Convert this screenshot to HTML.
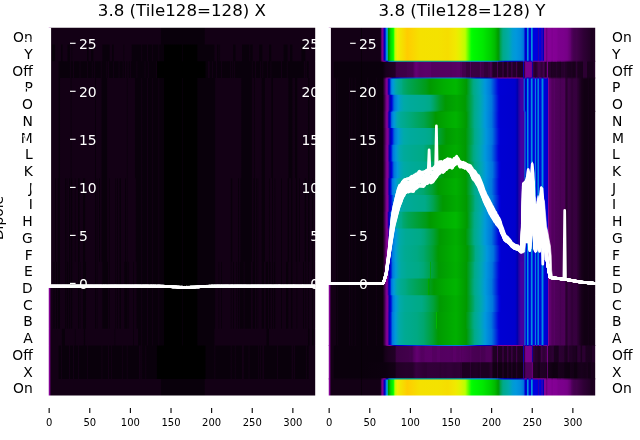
<!DOCTYPE html><html><head><meta charset="utf-8"><title>plot</title><style>html,body{margin:0;padding:0;background:#fff}svg{display:block}</style></head><body><svg width="640" height="440" viewBox="0 0 640 440">
<defs><linearGradient id="g0" gradientUnits="userSpaceOnUse" x1="48.75" x2="315.20"><stop offset=".0015" stop-color="#830094"/><stop offset=".0046" stop-color="#7e008f"/><stop offset=".0076" stop-color="#130015"/><stop offset=".4192" stop-color="#130015"/><stop offset=".4223" stop-color="#09000b"/><stop offset=".5838" stop-color="#09000b"/><stop offset=".5869" stop-color="#130015"/><stop offset=".9985" stop-color="#130015"/></linearGradient><linearGradient id="g1" gradientUnits="userSpaceOnUse" x1="48.75" x2="315.20"><stop offset=".0015" stop-color="#830094"/><stop offset=".0046" stop-color="#7e008f"/><stop offset=".0076" stop-color="#130015"/><stop offset=".0107" stop-color="#130015"/><stop offset=".0137" stop-color="#09000b"/><stop offset=".0229" stop-color="#09000b"/><stop offset=".0259" stop-color="#130015"/><stop offset=".0442" stop-color="#130015"/><stop offset=".0473" stop-color="#09000b"/><stop offset=".0503" stop-color="#09000b"/><stop offset=".0534" stop-color="#130015"/><stop offset=".0686" stop-color="#130015"/><stop offset=".0716" stop-color="#09000b"/><stop offset=".0777" stop-color="#09000b"/><stop offset=".0808" stop-color="#130015"/><stop offset=".0838" stop-color="#130015"/><stop offset=".0869" stop-color="#09000b"/><stop offset=".0899" stop-color="#130015"/><stop offset=".1418" stop-color="#130015"/><stop offset=".1448" stop-color="#09000b"/><stop offset=".1479" stop-color="#09000b"/><stop offset=".1509" stop-color="#130015"/><stop offset=".1570" stop-color="#130015"/><stop offset=".1601" stop-color="#09000b"/><stop offset=".1662" stop-color="#09000b"/><stop offset=".1692" stop-color="#130015"/><stop offset=".1997" stop-color="#130015"/><stop offset=".2027" stop-color="#09000b"/><stop offset=".2271" stop-color="#09000b"/><stop offset=".2302" stop-color="#130015"/><stop offset=".2363" stop-color="#130015"/><stop offset=".2393" stop-color="#09000b"/><stop offset=".2424" stop-color="#09000b"/><stop offset=".2454" stop-color="#130015"/><stop offset=".2790" stop-color="#130015"/><stop offset=".2820" stop-color="#09000b"/><stop offset=".2851" stop-color="#130015"/><stop offset=".3095" stop-color="#130015"/><stop offset=".3125" stop-color="#09000b"/><stop offset=".3460" stop-color="#09000b"/><stop offset=".3491" stop-color="#130015"/><stop offset=".3521" stop-color="#09000b"/><stop offset=".3674" stop-color="#09000b"/><stop offset=".3704" stop-color="#130015"/><stop offset=".3735" stop-color="#09000b"/><stop offset=".3857" stop-color="#09000b"/><stop offset=".3887" stop-color="#130015"/><stop offset=".3918" stop-color="#09000b"/><stop offset=".4101" stop-color="#09000b"/><stop offset=".4131" stop-color="#130015"/><stop offset=".4162" stop-color="#09000b"/><stop offset=".4314" stop-color="#09000b"/><stop offset=".4345" stop-color="#000000"/><stop offset=".4985" stop-color="#000000"/><stop offset=".5015" stop-color="#09000b"/><stop offset=".5046" stop-color="#000000"/><stop offset=".5564" stop-color="#000000"/><stop offset=".5595" stop-color="#09000b"/><stop offset=".6204" stop-color="#09000b"/><stop offset=".6235" stop-color="#130015"/><stop offset=".6296" stop-color="#130015"/><stop offset=".6326" stop-color="#09000b"/><stop offset=".6357" stop-color="#09000b"/><stop offset=".6387" stop-color="#130015"/><stop offset=".6418" stop-color="#09000b"/><stop offset=".6448" stop-color="#130015"/><stop offset=".6905" stop-color="#130015"/><stop offset=".6936" stop-color="#09000b"/><stop offset=".6997" stop-color="#09000b"/><stop offset=".7027" stop-color="#130015"/><stop offset=".7241" stop-color="#130015"/><stop offset=".7271" stop-color="#09000b"/><stop offset=".7515" stop-color="#09000b"/><stop offset=".7546" stop-color="#130015"/><stop offset=".7576" stop-color="#09000b"/><stop offset=".7637" stop-color="#09000b"/><stop offset=".7668" stop-color="#130015"/><stop offset=".7881" stop-color="#130015"/><stop offset=".7912" stop-color="#09000b"/><stop offset=".8003" stop-color="#09000b"/><stop offset=".8034" stop-color="#130015"/><stop offset=".8247" stop-color="#130015"/><stop offset=".8277" stop-color="#09000b"/><stop offset=".8338" stop-color="#09000b"/><stop offset=".8369" stop-color="#130015"/><stop offset=".8796" stop-color="#130015"/><stop offset=".8826" stop-color="#09000b"/><stop offset=".8948" stop-color="#09000b"/><stop offset=".8979" stop-color="#130015"/><stop offset=".9040" stop-color="#130015"/><stop offset=".9070" stop-color="#09000b"/><stop offset=".9131" stop-color="#09000b"/><stop offset=".9162" stop-color="#130015"/><stop offset=".9466" stop-color="#130015"/><stop offset=".9497" stop-color="#09000b"/><stop offset=".9619" stop-color="#09000b"/><stop offset=".9649" stop-color="#130015"/><stop offset=".9985" stop-color="#130015"/></linearGradient><linearGradient id="g2" gradientUnits="userSpaceOnUse" x1="48.75" x2="315.20"><stop offset=".0015" stop-color="#830094"/><stop offset=".0046" stop-color="#7e008f"/><stop offset=".0076" stop-color="#130015"/><stop offset=".0351" stop-color="#130015"/><stop offset=".0381" stop-color="#09000b"/><stop offset=".0777" stop-color="#09000b"/><stop offset=".0808" stop-color="#130015"/><stop offset=".0838" stop-color="#09000b"/><stop offset=".0899" stop-color="#09000b"/><stop offset=".0930" stop-color="#130015"/><stop offset=".0960" stop-color="#09000b"/><stop offset=".1143" stop-color="#09000b"/><stop offset=".1174" stop-color="#130015"/><stop offset=".1204" stop-color="#09000b"/><stop offset=".1418" stop-color="#09000b"/><stop offset=".1448" stop-color="#130015"/><stop offset=".1479" stop-color="#09000b"/><stop offset=".1601" stop-color="#09000b"/><stop offset=".1631" stop-color="#130015"/><stop offset=".1662" stop-color="#09000b"/><stop offset=".1692" stop-color="#09000b"/><stop offset=".1723" stop-color="#130015"/><stop offset=".1753" stop-color="#09000b"/><stop offset=".1936" stop-color="#09000b"/><stop offset=".1966" stop-color="#130015"/><stop offset=".1997" stop-color="#09000b"/><stop offset=".2149" stop-color="#09000b"/><stop offset=".2180" stop-color="#130015"/><stop offset=".2210" stop-color="#09000b"/><stop offset=".2241" stop-color="#130015"/><stop offset=".2271" stop-color="#09000b"/><stop offset=".2393" stop-color="#09000b"/><stop offset=".2424" stop-color="#130015"/><stop offset=".2454" stop-color="#09000b"/><stop offset=".2607" stop-color="#09000b"/><stop offset=".2637" stop-color="#130015"/><stop offset=".2668" stop-color="#09000b"/><stop offset=".2759" stop-color="#09000b"/><stop offset=".2790" stop-color="#130015"/><stop offset=".2820" stop-color="#09000b"/><stop offset=".2851" stop-color="#09000b"/><stop offset=".2881" stop-color="#130015"/><stop offset=".2912" stop-color="#09000b"/><stop offset=".2942" stop-color="#130015"/><stop offset=".2973" stop-color="#09000b"/><stop offset=".3003" stop-color="#130015"/><stop offset=".3034" stop-color="#09000b"/><stop offset=".3064" stop-color="#130015"/><stop offset=".3095" stop-color="#09000b"/><stop offset=".3277" stop-color="#09000b"/><stop offset=".3308" stop-color="#130015"/><stop offset=".3338" stop-color="#09000b"/><stop offset=".3582" stop-color="#09000b"/><stop offset=".3613" stop-color="#130015"/><stop offset=".3643" stop-color="#09000b"/><stop offset=".3704" stop-color="#09000b"/><stop offset=".3735" stop-color="#130015"/><stop offset=".3765" stop-color="#09000b"/><stop offset=".4009" stop-color="#09000b"/><stop offset=".4040" stop-color="#130015"/><stop offset=".4070" stop-color="#000000"/><stop offset=".5869" stop-color="#000000"/><stop offset=".5899" stop-color="#09000b"/><stop offset=".5960" stop-color="#09000b"/><stop offset=".5991" stop-color="#130015"/><stop offset=".6021" stop-color="#130015"/><stop offset=".6052" stop-color="#09000b"/><stop offset=".6113" stop-color="#09000b"/><stop offset=".6143" stop-color="#130015"/><stop offset=".6174" stop-color="#09000b"/><stop offset=".6265" stop-color="#09000b"/><stop offset=".6296" stop-color="#130015"/><stop offset=".6326" stop-color="#09000b"/><stop offset=".6448" stop-color="#09000b"/><stop offset=".6479" stop-color="#130015"/><stop offset=".6509" stop-color="#09000b"/><stop offset=".6784" stop-color="#09000b"/><stop offset=".6814" stop-color="#130015"/><stop offset=".6845" stop-color="#09000b"/><stop offset=".6875" stop-color="#09000b"/><stop offset=".6905" stop-color="#130015"/><stop offset=".6936" stop-color="#09000b"/><stop offset=".6966" stop-color="#130015"/><stop offset=".6997" stop-color="#09000b"/><stop offset=".7607" stop-color="#09000b"/><stop offset=".7637" stop-color="#130015"/><stop offset=".7668" stop-color="#09000b"/><stop offset=".7729" stop-color="#09000b"/><stop offset=".7759" stop-color="#130015"/><stop offset=".7790" stop-color="#09000b"/><stop offset=".7912" stop-color="#09000b"/><stop offset=".7942" stop-color="#130015"/><stop offset=".7973" stop-color="#09000b"/><stop offset=".8003" stop-color="#09000b"/><stop offset=".8034" stop-color="#130015"/><stop offset=".8064" stop-color="#09000b"/><stop offset=".8186" stop-color="#09000b"/><stop offset=".8216" stop-color="#130015"/><stop offset=".8247" stop-color="#09000b"/><stop offset=".8308" stop-color="#09000b"/><stop offset=".8338" stop-color="#130015"/><stop offset=".8369" stop-color="#09000b"/><stop offset=".8704" stop-color="#09000b"/><stop offset=".8735" stop-color="#130015"/><stop offset=".8765" stop-color="#09000b"/><stop offset=".8918" stop-color="#09000b"/><stop offset=".8948" stop-color="#130015"/><stop offset=".8979" stop-color="#09000b"/><stop offset=".9558" stop-color="#09000b"/><stop offset=".9588" stop-color="#130015"/><stop offset=".9619" stop-color="#130015"/><stop offset=".9649" stop-color="#09000b"/><stop offset=".9680" stop-color="#130015"/><stop offset=".9710" stop-color="#09000b"/><stop offset=".9741" stop-color="#09000b"/><stop offset=".9771" stop-color="#130015"/><stop offset=".9985" stop-color="#130015"/></linearGradient><linearGradient id="g3" gradientUnits="userSpaceOnUse" x1="48.75" x2="315.20"><stop offset=".0015" stop-color="#830094"/><stop offset=".0046" stop-color="#7e008f"/><stop offset=".0076" stop-color="#130015"/><stop offset=".0351" stop-color="#130015"/><stop offset=".0381" stop-color="#09000b"/><stop offset=".0412" stop-color="#09000b"/><stop offset=".0442" stop-color="#130015"/><stop offset=".0808" stop-color="#130015"/><stop offset=".0838" stop-color="#09000b"/><stop offset=".0869" stop-color="#130015"/><stop offset=".1723" stop-color="#130015"/><stop offset=".1753" stop-color="#09000b"/><stop offset=".1784" stop-color="#130015"/><stop offset=".1966" stop-color="#130015"/><stop offset=".1997" stop-color="#09000b"/><stop offset=".2180" stop-color="#09000b"/><stop offset=".2210" stop-color="#130015"/><stop offset=".2912" stop-color="#130015"/><stop offset=".2942" stop-color="#09000b"/><stop offset=".2973" stop-color="#130015"/><stop offset=".3216" stop-color="#130015"/><stop offset=".3247" stop-color="#09000b"/><stop offset=".3460" stop-color="#09000b"/><stop offset=".3491" stop-color="#130015"/><stop offset=".3521" stop-color="#09000b"/><stop offset=".3674" stop-color="#09000b"/><stop offset=".3704" stop-color="#130015"/><stop offset=".3735" stop-color="#09000b"/><stop offset=".3857" stop-color="#09000b"/><stop offset=".3887" stop-color="#130015"/><stop offset=".3918" stop-color="#09000b"/><stop offset=".4101" stop-color="#09000b"/><stop offset=".4131" stop-color="#130015"/><stop offset=".4162" stop-color="#09000b"/><stop offset=".4314" stop-color="#09000b"/><stop offset=".4345" stop-color="#000000"/><stop offset=".4985" stop-color="#000000"/><stop offset=".5015" stop-color="#09000b"/><stop offset=".5046" stop-color="#000000"/><stop offset=".5564" stop-color="#000000"/><stop offset=".5595" stop-color="#09000b"/><stop offset=".6235" stop-color="#09000b"/><stop offset=".6265" stop-color="#130015"/><stop offset=".7210" stop-color="#130015"/><stop offset=".7241" stop-color="#09000b"/><stop offset=".7607" stop-color="#09000b"/><stop offset=".7637" stop-color="#130015"/><stop offset=".7698" stop-color="#130015"/><stop offset=".7729" stop-color="#09000b"/><stop offset=".7759" stop-color="#130015"/><stop offset=".7973" stop-color="#130015"/><stop offset=".8003" stop-color="#09000b"/><stop offset=".8095" stop-color="#09000b"/><stop offset=".8125" stop-color="#130015"/><stop offset=".8338" stop-color="#130015"/><stop offset=".8369" stop-color="#09000b"/><stop offset=".8399" stop-color="#09000b"/><stop offset=".8430" stop-color="#130015"/><stop offset=".8979" stop-color="#130015"/><stop offset=".9009" stop-color="#09000b"/><stop offset=".9131" stop-color="#09000b"/><stop offset=".9162" stop-color="#130015"/><stop offset=".9223" stop-color="#130015"/><stop offset=".9253" stop-color="#09000b"/><stop offset=".9314" stop-color="#09000b"/><stop offset=".9345" stop-color="#130015"/><stop offset=".9710" stop-color="#130015"/><stop offset=".9741" stop-color="#09000b"/><stop offset=".9771" stop-color="#09000b"/><stop offset=".9802" stop-color="#130015"/><stop offset=".9985" stop-color="#130015"/></linearGradient><linearGradient id="g4" gradientUnits="userSpaceOnUse" x1="48.75" x2="315.20"><stop offset=".0015" stop-color="#830094"/><stop offset=".0046" stop-color="#7e008f"/><stop offset=".0076" stop-color="#130015"/><stop offset=".0229" stop-color="#130015"/><stop offset=".0259" stop-color="#09000b"/><stop offset=".0290" stop-color="#130015"/><stop offset=".0320" stop-color="#130015"/><stop offset=".0351" stop-color="#09000b"/><stop offset=".0412" stop-color="#09000b"/><stop offset=".0442" stop-color="#130015"/><stop offset=".0595" stop-color="#130015"/><stop offset=".0625" stop-color="#09000b"/><stop offset=".0655" stop-color="#130015"/><stop offset=".0686" stop-color="#09000b"/><stop offset=".0716" stop-color="#130015"/><stop offset=".0747" stop-color="#130015"/><stop offset=".0777" stop-color="#09000b"/><stop offset=".0808" stop-color="#130015"/><stop offset=".0838" stop-color="#09000b"/><stop offset=".0869" stop-color="#09000b"/><stop offset=".0899" stop-color="#130015"/><stop offset=".0960" stop-color="#130015"/><stop offset=".0991" stop-color="#09000b"/><stop offset=".1021" stop-color="#130015"/><stop offset=".1082" stop-color="#130015"/><stop offset=".1113" stop-color="#09000b"/><stop offset=".1143" stop-color="#09000b"/><stop offset=".1174" stop-color="#130015"/><stop offset=".1265" stop-color="#130015"/><stop offset=".1296" stop-color="#09000b"/><stop offset=".1357" stop-color="#09000b"/><stop offset=".1387" stop-color="#130015"/><stop offset=".1723" stop-color="#130015"/><stop offset=".1753" stop-color="#09000b"/><stop offset=".1784" stop-color="#130015"/><stop offset=".1814" stop-color="#09000b"/><stop offset=".1845" stop-color="#130015"/><stop offset=".1875" stop-color="#130015"/><stop offset=".1905" stop-color="#09000b"/><stop offset=".1936" stop-color="#130015"/><stop offset=".1966" stop-color="#130015"/><stop offset=".1997" stop-color="#09000b"/><stop offset=".2180" stop-color="#09000b"/><stop offset=".2210" stop-color="#130015"/><stop offset=".2241" stop-color="#130015"/><stop offset=".2271" stop-color="#09000b"/><stop offset=".2302" stop-color="#130015"/><stop offset=".2485" stop-color="#130015"/><stop offset=".2515" stop-color="#09000b"/><stop offset=".2546" stop-color="#130015"/><stop offset=".2576" stop-color="#09000b"/><stop offset=".2607" stop-color="#130015"/><stop offset=".2637" stop-color="#130015"/><stop offset=".2668" stop-color="#09000b"/><stop offset=".2698" stop-color="#09000b"/><stop offset=".2729" stop-color="#130015"/><stop offset=".2851" stop-color="#130015"/><stop offset=".2881" stop-color="#09000b"/><stop offset=".2912" stop-color="#130015"/><stop offset=".2942" stop-color="#09000b"/><stop offset=".2973" stop-color="#130015"/><stop offset=".3247" stop-color="#130015"/><stop offset=".3277" stop-color="#09000b"/><stop offset=".3460" stop-color="#09000b"/><stop offset=".3491" stop-color="#130015"/><stop offset=".3521" stop-color="#09000b"/><stop offset=".3674" stop-color="#09000b"/><stop offset=".3704" stop-color="#130015"/><stop offset=".3735" stop-color="#09000b"/><stop offset=".3857" stop-color="#09000b"/><stop offset=".3887" stop-color="#130015"/><stop offset=".3918" stop-color="#09000b"/><stop offset=".4101" stop-color="#09000b"/><stop offset=".4131" stop-color="#130015"/><stop offset=".4162" stop-color="#09000b"/><stop offset=".4314" stop-color="#09000b"/><stop offset=".4345" stop-color="#000000"/><stop offset=".4985" stop-color="#000000"/><stop offset=".5015" stop-color="#09000b"/><stop offset=".5046" stop-color="#000000"/><stop offset=".5564" stop-color="#000000"/><stop offset=".5595" stop-color="#09000b"/><stop offset=".6235" stop-color="#09000b"/><stop offset=".6265" stop-color="#130015"/><stop offset=".6814" stop-color="#130015"/><stop offset=".6845" stop-color="#09000b"/><stop offset=".6875" stop-color="#09000b"/><stop offset=".6905" stop-color="#130015"/><stop offset=".7088" stop-color="#130015"/><stop offset=".7119" stop-color="#09000b"/><stop offset=".7149" stop-color="#130015"/><stop offset=".7180" stop-color="#130015"/><stop offset=".7210" stop-color="#09000b"/><stop offset=".7607" stop-color="#09000b"/><stop offset=".7637" stop-color="#130015"/><stop offset=".7668" stop-color="#130015"/><stop offset=".7698" stop-color="#09000b"/><stop offset=".7729" stop-color="#09000b"/><stop offset=".7759" stop-color="#130015"/><stop offset=".7790" stop-color="#09000b"/><stop offset=".7820" stop-color="#130015"/><stop offset=".7851" stop-color="#09000b"/><stop offset=".7881" stop-color="#130015"/><stop offset=".7973" stop-color="#130015"/><stop offset=".8003" stop-color="#09000b"/><stop offset=".8095" stop-color="#09000b"/><stop offset=".8125" stop-color="#130015"/><stop offset=".8247" stop-color="#130015"/><stop offset=".8277" stop-color="#09000b"/><stop offset=".8308" stop-color="#130015"/><stop offset=".8369" stop-color="#130015"/><stop offset=".8399" stop-color="#09000b"/><stop offset=".8430" stop-color="#130015"/><stop offset=".8460" stop-color="#130015"/><stop offset=".8491" stop-color="#09000b"/><stop offset=".8521" stop-color="#130015"/><stop offset=".8704" stop-color="#130015"/><stop offset=".8735" stop-color="#09000b"/><stop offset=".8765" stop-color="#130015"/><stop offset=".8948" stop-color="#130015"/><stop offset=".8979" stop-color="#09000b"/><stop offset=".9009" stop-color="#09000b"/><stop offset=".9040" stop-color="#130015"/><stop offset=".9070" stop-color="#130015"/><stop offset=".9101" stop-color="#09000b"/><stop offset=".9131" stop-color="#09000b"/><stop offset=".9162" stop-color="#130015"/><stop offset=".9253" stop-color="#130015"/><stop offset=".9284" stop-color="#09000b"/><stop offset=".9314" stop-color="#09000b"/><stop offset=".9345" stop-color="#130015"/><stop offset=".9375" stop-color="#130015"/><stop offset=".9405" stop-color="#09000b"/><stop offset=".9436" stop-color="#130015"/><stop offset=".9588" stop-color="#130015"/><stop offset=".9619" stop-color="#09000b"/><stop offset=".9649" stop-color="#09000b"/><stop offset=".9680" stop-color="#130015"/><stop offset=".9710" stop-color="#130015"/><stop offset=".9741" stop-color="#09000b"/><stop offset=".9771" stop-color="#09000b"/><stop offset=".9802" stop-color="#130015"/><stop offset=".9863" stop-color="#130015"/><stop offset=".9893" stop-color="#09000b"/><stop offset=".9924" stop-color="#130015"/><stop offset=".9985" stop-color="#130015"/></linearGradient><linearGradient id="g5" gradientUnits="userSpaceOnUse" x1="48.75" x2="315.20"><stop offset=".0015" stop-color="#830094"/><stop offset=".0046" stop-color="#7e008f"/><stop offset=".0076" stop-color="#130015"/><stop offset=".0137" stop-color="#130015"/><stop offset=".0168" stop-color="#09000b"/><stop offset=".0198" stop-color="#130015"/><stop offset=".0229" stop-color="#09000b"/><stop offset=".0259" stop-color="#130015"/><stop offset=".0290" stop-color="#09000b"/><stop offset=".0320" stop-color="#130015"/><stop offset=".0351" stop-color="#09000b"/><stop offset=".0412" stop-color="#09000b"/><stop offset=".0442" stop-color="#130015"/><stop offset=".0595" stop-color="#130015"/><stop offset=".0625" stop-color="#09000b"/><stop offset=".0655" stop-color="#130015"/><stop offset=".0686" stop-color="#09000b"/><stop offset=".0716" stop-color="#09000b"/><stop offset=".0747" stop-color="#130015"/><stop offset=".0777" stop-color="#09000b"/><stop offset=".0808" stop-color="#130015"/><stop offset=".0838" stop-color="#09000b"/><stop offset=".0869" stop-color="#09000b"/><stop offset=".0899" stop-color="#130015"/><stop offset=".1082" stop-color="#130015"/><stop offset=".1113" stop-color="#09000b"/><stop offset=".1143" stop-color="#130015"/><stop offset=".1174" stop-color="#09000b"/><stop offset=".1204" stop-color="#130015"/><stop offset=".1265" stop-color="#130015"/><stop offset=".1296" stop-color="#09000b"/><stop offset=".1387" stop-color="#09000b"/><stop offset=".1418" stop-color="#130015"/><stop offset=".1723" stop-color="#130015"/><stop offset=".1753" stop-color="#09000b"/><stop offset=".1784" stop-color="#130015"/><stop offset=".1814" stop-color="#09000b"/><stop offset=".1845" stop-color="#130015"/><stop offset=".1997" stop-color="#130015"/><stop offset=".2027" stop-color="#09000b"/><stop offset=".2210" stop-color="#09000b"/><stop offset=".2241" stop-color="#130015"/><stop offset=".2271" stop-color="#09000b"/><stop offset=".2302" stop-color="#130015"/><stop offset=".2485" stop-color="#130015"/><stop offset=".2515" stop-color="#09000b"/><stop offset=".2546" stop-color="#130015"/><stop offset=".2576" stop-color="#09000b"/><stop offset=".2607" stop-color="#130015"/><stop offset=".2637" stop-color="#130015"/><stop offset=".2668" stop-color="#09000b"/><stop offset=".2698" stop-color="#09000b"/><stop offset=".2729" stop-color="#130015"/><stop offset=".2820" stop-color="#130015"/><stop offset=".2851" stop-color="#09000b"/><stop offset=".2942" stop-color="#09000b"/><stop offset=".2973" stop-color="#130015"/><stop offset=".3003" stop-color="#09000b"/><stop offset=".3034" stop-color="#130015"/><stop offset=".3155" stop-color="#130015"/><stop offset=".3186" stop-color="#09000b"/><stop offset=".3216" stop-color="#130015"/><stop offset=".3277" stop-color="#130015"/><stop offset=".3308" stop-color="#09000b"/><stop offset=".3460" stop-color="#09000b"/><stop offset=".3491" stop-color="#130015"/><stop offset=".3521" stop-color="#09000b"/><stop offset=".3674" stop-color="#09000b"/><stop offset=".3704" stop-color="#130015"/><stop offset=".3735" stop-color="#09000b"/><stop offset=".3857" stop-color="#09000b"/><stop offset=".3887" stop-color="#130015"/><stop offset=".3918" stop-color="#09000b"/><stop offset=".4101" stop-color="#09000b"/><stop offset=".4131" stop-color="#130015"/><stop offset=".4162" stop-color="#09000b"/><stop offset=".4314" stop-color="#09000b"/><stop offset=".4345" stop-color="#000000"/><stop offset=".4985" stop-color="#000000"/><stop offset=".5015" stop-color="#09000b"/><stop offset=".5046" stop-color="#000000"/><stop offset=".5564" stop-color="#000000"/><stop offset=".5595" stop-color="#09000b"/><stop offset=".6235" stop-color="#09000b"/><stop offset=".6265" stop-color="#130015"/><stop offset=".6357" stop-color="#130015"/><stop offset=".6387" stop-color="#09000b"/><stop offset=".6418" stop-color="#130015"/><stop offset=".6448" stop-color="#130015"/><stop offset=".6479" stop-color="#09000b"/><stop offset=".6509" stop-color="#130015"/><stop offset=".6814" stop-color="#130015"/><stop offset=".6845" stop-color="#09000b"/><stop offset=".6875" stop-color="#130015"/><stop offset=".6905" stop-color="#130015"/><stop offset=".6936" stop-color="#09000b"/><stop offset=".6966" stop-color="#130015"/><stop offset=".7027" stop-color="#130015"/><stop offset=".7058" stop-color="#09000b"/><stop offset=".7088" stop-color="#130015"/><stop offset=".7119" stop-color="#09000b"/><stop offset=".7149" stop-color="#130015"/><stop offset=".7180" stop-color="#09000b"/><stop offset=".7302" stop-color="#09000b"/><stop offset=".7332" stop-color="#130015"/><stop offset=".7363" stop-color="#09000b"/><stop offset=".7576" stop-color="#09000b"/><stop offset=".7607" stop-color="#130015"/><stop offset=".7637" stop-color="#130015"/><stop offset=".7668" stop-color="#09000b"/><stop offset=".7729" stop-color="#09000b"/><stop offset=".7759" stop-color="#130015"/><stop offset=".7790" stop-color="#09000b"/><stop offset=".7820" stop-color="#130015"/><stop offset=".7851" stop-color="#09000b"/><stop offset=".7881" stop-color="#130015"/><stop offset=".7973" stop-color="#130015"/><stop offset=".8003" stop-color="#09000b"/><stop offset=".8064" stop-color="#09000b"/><stop offset=".8095" stop-color="#130015"/><stop offset=".8125" stop-color="#130015"/><stop offset=".8155" stop-color="#09000b"/><stop offset=".8216" stop-color="#09000b"/><stop offset=".8247" stop-color="#130015"/><stop offset=".8277" stop-color="#09000b"/><stop offset=".8308" stop-color="#09000b"/><stop offset=".8338" stop-color="#130015"/><stop offset=".8369" stop-color="#130015"/><stop offset=".8399" stop-color="#09000b"/><stop offset=".8430" stop-color="#130015"/><stop offset=".8460" stop-color="#09000b"/><stop offset=".8491" stop-color="#09000b"/><stop offset=".8521" stop-color="#130015"/><stop offset=".8704" stop-color="#130015"/><stop offset=".8735" stop-color="#09000b"/><stop offset=".8765" stop-color="#130015"/><stop offset=".8887" stop-color="#130015"/><stop offset=".8918" stop-color="#09000b"/><stop offset=".8979" stop-color="#09000b"/><stop offset=".9009" stop-color="#130015"/><stop offset=".9070" stop-color="#130015"/><stop offset=".9101" stop-color="#09000b"/><stop offset=".9131" stop-color="#09000b"/><stop offset=".9162" stop-color="#130015"/><stop offset=".9284" stop-color="#130015"/><stop offset=".9314" stop-color="#09000b"/><stop offset=".9345" stop-color="#130015"/><stop offset=".9527" stop-color="#130015"/><stop offset=".9558" stop-color="#09000b"/><stop offset=".9588" stop-color="#130015"/><stop offset=".9619" stop-color="#130015"/><stop offset=".9649" stop-color="#09000b"/><stop offset=".9680" stop-color="#130015"/><stop offset=".9710" stop-color="#130015"/><stop offset=".9741" stop-color="#09000b"/><stop offset=".9771" stop-color="#130015"/><stop offset=".9863" stop-color="#130015"/><stop offset=".9893" stop-color="#09000b"/><stop offset=".9924" stop-color="#130015"/><stop offset=".9985" stop-color="#130015"/></linearGradient><linearGradient id="g6" gradientUnits="userSpaceOnUse" x1="48.75" x2="315.20"><stop offset=".0015" stop-color="#830094"/><stop offset=".0046" stop-color="#7e008f"/><stop offset=".0076" stop-color="#130015"/><stop offset=".0473" stop-color="#130015"/><stop offset=".0503" stop-color="#09000b"/><stop offset=".0595" stop-color="#09000b"/><stop offset=".0625" stop-color="#130015"/><stop offset=".0960" stop-color="#130015"/><stop offset=".0991" stop-color="#09000b"/><stop offset=".1021" stop-color="#130015"/><stop offset=".1296" stop-color="#130015"/><stop offset=".1326" stop-color="#09000b"/><stop offset=".1357" stop-color="#09000b"/><stop offset=".1387" stop-color="#130015"/><stop offset=".2454" stop-color="#130015"/><stop offset=".2485" stop-color="#09000b"/><stop offset=".2515" stop-color="#130015"/><stop offset=".3155" stop-color="#130015"/><stop offset=".3186" stop-color="#09000b"/><stop offset=".3216" stop-color="#130015"/><stop offset=".3338" stop-color="#130015"/><stop offset=".3369" stop-color="#09000b"/><stop offset=".3460" stop-color="#09000b"/><stop offset=".3491" stop-color="#130015"/><stop offset=".3521" stop-color="#09000b"/><stop offset=".3674" stop-color="#09000b"/><stop offset=".3704" stop-color="#130015"/><stop offset=".3735" stop-color="#09000b"/><stop offset=".3857" stop-color="#09000b"/><stop offset=".3887" stop-color="#130015"/><stop offset=".3918" stop-color="#09000b"/><stop offset=".4101" stop-color="#09000b"/><stop offset=".4131" stop-color="#130015"/><stop offset=".4162" stop-color="#09000b"/><stop offset=".4314" stop-color="#09000b"/><stop offset=".4345" stop-color="#000000"/><stop offset=".4985" stop-color="#000000"/><stop offset=".5015" stop-color="#09000b"/><stop offset=".5046" stop-color="#000000"/><stop offset=".5564" stop-color="#000000"/><stop offset=".5595" stop-color="#09000b"/><stop offset=".6204" stop-color="#09000b"/><stop offset=".6235" stop-color="#130015"/><stop offset=".8155" stop-color="#130015"/><stop offset=".8186" stop-color="#09000b"/><stop offset=".8247" stop-color="#09000b"/><stop offset=".8277" stop-color="#130015"/><stop offset=".9710" stop-color="#130015"/><stop offset=".9741" stop-color="#09000b"/><stop offset=".9771" stop-color="#09000b"/><stop offset=".9802" stop-color="#130015"/><stop offset=".9863" stop-color="#130015"/><stop offset=".9893" stop-color="#09000b"/><stop offset=".9924" stop-color="#09000b"/><stop offset=".9954" stop-color="#130015"/><stop offset=".9985" stop-color="#130015"/></linearGradient><linearGradient id="g7" gradientUnits="userSpaceOnUse" x1="48.75" x2="315.20"><stop offset=".0015" stop-color="#830094"/><stop offset=".0046" stop-color="#7e008f"/><stop offset=".0076" stop-color="#130015"/><stop offset=".0351" stop-color="#130015"/><stop offset=".0381" stop-color="#09000b"/><stop offset=".0442" stop-color="#09000b"/><stop offset=".0473" stop-color="#130015"/><stop offset=".0503" stop-color="#09000b"/><stop offset=".0747" stop-color="#09000b"/><stop offset=".0777" stop-color="#130015"/><stop offset=".0808" stop-color="#09000b"/><stop offset=".0899" stop-color="#09000b"/><stop offset=".0930" stop-color="#130015"/><stop offset=".0960" stop-color="#09000b"/><stop offset=".1082" stop-color="#09000b"/><stop offset=".1113" stop-color="#130015"/><stop offset=".1143" stop-color="#09000b"/><stop offset=".1418" stop-color="#09000b"/><stop offset=".1448" stop-color="#130015"/><stop offset=".1479" stop-color="#09000b"/><stop offset=".1966" stop-color="#09000b"/><stop offset=".1997" stop-color="#130015"/><stop offset=".2027" stop-color="#09000b"/><stop offset=".2210" stop-color="#09000b"/><stop offset=".2241" stop-color="#130015"/><stop offset=".2271" stop-color="#09000b"/><stop offset=".2332" stop-color="#09000b"/><stop offset=".2363" stop-color="#130015"/><stop offset=".2393" stop-color="#09000b"/><stop offset=".2729" stop-color="#09000b"/><stop offset=".2759" stop-color="#130015"/><stop offset=".2790" stop-color="#09000b"/><stop offset=".2912" stop-color="#09000b"/><stop offset=".2942" stop-color="#130015"/><stop offset=".2973" stop-color="#09000b"/><stop offset=".3369" stop-color="#09000b"/><stop offset=".3399" stop-color="#130015"/><stop offset=".3430" stop-color="#130015"/><stop offset=".3460" stop-color="#09000b"/><stop offset=".3491" stop-color="#130015"/><stop offset=".3521" stop-color="#09000b"/><stop offset=".3613" stop-color="#09000b"/><stop offset=".3643" stop-color="#130015"/><stop offset=".3674" stop-color="#09000b"/><stop offset=".4040" stop-color="#09000b"/><stop offset=".4070" stop-color="#000000"/><stop offset=".5869" stop-color="#000000"/><stop offset=".5899" stop-color="#09000b"/><stop offset=".6204" stop-color="#09000b"/><stop offset=".6235" stop-color="#130015"/><stop offset=".6265" stop-color="#09000b"/><stop offset=".6814" stop-color="#09000b"/><stop offset=".6845" stop-color="#130015"/><stop offset=".6875" stop-color="#09000b"/><stop offset=".6966" stop-color="#09000b"/><stop offset=".6997" stop-color="#130015"/><stop offset=".7027" stop-color="#09000b"/><stop offset=".7241" stop-color="#09000b"/><stop offset=".7271" stop-color="#130015"/><stop offset=".7302" stop-color="#130015"/><stop offset=".7332" stop-color="#09000b"/><stop offset=".7485" stop-color="#09000b"/><stop offset=".7515" stop-color="#130015"/><stop offset=".7546" stop-color="#09000b"/><stop offset=".7851" stop-color="#09000b"/><stop offset=".7881" stop-color="#130015"/><stop offset=".7912" stop-color="#09000b"/><stop offset=".7942" stop-color="#130015"/><stop offset=".7973" stop-color="#09000b"/><stop offset=".8003" stop-color="#09000b"/><stop offset=".8034" stop-color="#130015"/><stop offset=".8064" stop-color="#130015"/><stop offset=".8095" stop-color="#09000b"/><stop offset=".8552" stop-color="#09000b"/><stop offset=".8582" stop-color="#130015"/><stop offset=".8613" stop-color="#09000b"/><stop offset=".9101" stop-color="#09000b"/><stop offset=".9131" stop-color="#130015"/><stop offset=".9162" stop-color="#130015"/><stop offset=".9192" stop-color="#09000b"/><stop offset=".9223" stop-color="#130015"/><stop offset=".9253" stop-color="#09000b"/><stop offset=".9649" stop-color="#09000b"/><stop offset=".9680" stop-color="#130015"/><stop offset=".9710" stop-color="#09000b"/><stop offset=".9741" stop-color="#09000b"/><stop offset=".9771" stop-color="#130015"/><stop offset=".9985" stop-color="#130015"/></linearGradient><linearGradient id="g8" gradientUnits="userSpaceOnUse" x1="48.75" x2="315.20"><stop offset=".0015" stop-color="#830094"/><stop offset=".0046" stop-color="#7e008f"/><stop offset=".0076" stop-color="#130015"/><stop offset=".4192" stop-color="#130015"/><stop offset=".4223" stop-color="#09000b"/><stop offset=".5838" stop-color="#09000b"/><stop offset=".5869" stop-color="#130015"/><stop offset=".9985" stop-color="#130015"/></linearGradient><linearGradient id="g9" gradientUnits="userSpaceOnUse" x1="328.75" x2="595.20"><stop offset=".0015" stop-color="#830094"/><stop offset=".0046" stop-color="#7e008f"/><stop offset=".0076" stop-color="#130015"/><stop offset=".1204" stop-color="#130015"/><stop offset=".1235" stop-color="#070008"/><stop offset=".1265" stop-color="#130015"/><stop offset=".1936" stop-color="#130015"/><stop offset=".1997" stop-color="#79008a"/><stop offset=".2027" stop-color="#810092"/><stop offset=".2058" stop-color="#3f00a2"/><stop offset=".2088" stop-color="#0000bb"/><stop offset=".2119" stop-color="#0000dd"/><stop offset=".2149" stop-color="#0085dd"/><stop offset=".2180" stop-color="#009cd3"/><stop offset=".2210" stop-color="#00aaaa"/><stop offset=".2241" stop-color="#009900"/><stop offset=".2332" stop-color="#00dd00"/><stop offset=".2424" stop-color="#00ff00"/><stop offset=".2485" stop-color="#bbff00"/><stop offset=".2576" stop-color="#eeee00"/><stop offset=".2851" stop-color="#fad600"/><stop offset=".2942" stop-color="#ffcc00"/><stop offset=".3430" stop-color="#f5e100"/><stop offset=".4101" stop-color="#f4e200"/><stop offset=".4466" stop-color="#f6dd00"/><stop offset=".4771" stop-color="#f0ea00"/><stop offset=".4893" stop-color="#e4f100"/><stop offset=".5107" stop-color="#befe00"/><stop offset=".5137" stop-color="#afff00"/><stop offset=".5320" stop-color="#1cff00"/><stop offset=".5351" stop-color="#05ff00"/><stop offset=".5412" stop-color="#00fa00"/><stop offset=".5777" stop-color="#00e900"/><stop offset=".6082" stop-color="#00ce00"/><stop offset=".6235" stop-color="#00bb00"/><stop offset=".6357" stop-color="#009c00"/><stop offset=".6387" stop-color="#009b12"/><stop offset=".6448" stop-color="#00a352"/><stop offset=".6540" stop-color="#00aa89"/><stop offset=".6753" stop-color="#00aaaa"/><stop offset=".6905" stop-color="#009cd3"/><stop offset=".7027" stop-color="#0098dd"/><stop offset=".7210" stop-color="#008bdd"/><stop offset=".7302" stop-color="#0077dd"/><stop offset=".7332" stop-color="#005fdd"/><stop offset=".7363" stop-color="#0000d3"/><stop offset=".7393" stop-color="#0000be"/><stop offset=".7424" stop-color="#0000dd"/><stop offset=".7454" stop-color="#0092dd"/><stop offset=".7485" stop-color="#0092dd"/><stop offset=".7515" stop-color="#0000dd"/><stop offset=".7576" stop-color="#0000dd"/><stop offset=".7607" stop-color="#0092dd"/><stop offset=".7637" stop-color="#0092dd"/><stop offset=".7668" stop-color="#0000dd"/><stop offset=".7820" stop-color="#0000dd"/><stop offset=".7851" stop-color="#0000d3"/><stop offset=".7881" stop-color="#3600a3"/><stop offset=".7912" stop-color="#0000dd"/><stop offset=".7942" stop-color="#0000dd"/><stop offset=".7973" stop-color="#0000d3"/><stop offset=".8003" stop-color="#5200a0"/><stop offset=".8034" stop-color="#0000dd"/><stop offset=".8064" stop-color="#0000aa"/><stop offset=".8095" stop-color="#850096"/><stop offset=".8155" stop-color="#850096"/><stop offset=".8186" stop-color="#5f006d"/><stop offset=".8216" stop-color="#850096"/><stop offset=".8338" stop-color="#850096"/><stop offset=".8369" stop-color="#7f0090"/><stop offset=".8399" stop-color="#7f0090"/><stop offset=".8430" stop-color="#840095"/><stop offset=".8552" stop-color="#820093"/><stop offset=".8613" stop-color="#7c008d"/><stop offset=".8826" stop-color="#7a008b"/><stop offset=".8948" stop-color="#760086"/><stop offset=".9070" stop-color="#630071"/><stop offset=".9101" stop-color="#550062"/><stop offset=".9131" stop-color="#51005d"/><stop offset=".9162" stop-color="#480053"/><stop offset=".9253" stop-color="#42004c"/><stop offset=".9284" stop-color="#45004e"/><stop offset=".9558" stop-color="#2f0036"/><stop offset=".9649" stop-color="#2b0031"/><stop offset=".9802" stop-color="#230028"/><stop offset=".9832" stop-color="#1d0021"/><stop offset=".9893" stop-color="#1b001f"/><stop offset=".9924" stop-color="#1f0023"/><stop offset=".9985" stop-color="#1d0021"/></linearGradient><linearGradient id="g10" gradientUnits="userSpaceOnUse" x1="328.75" x2="595.20"><stop offset=".0015" stop-color="#830094"/><stop offset=".0046" stop-color="#7e008f"/><stop offset=".0076" stop-color="#130015"/><stop offset=".0168" stop-color="#130015"/><stop offset=".0198" stop-color="#0a000c"/><stop offset=".1204" stop-color="#0a000c"/><stop offset=".1235" stop-color="#050005"/><stop offset=".1265" stop-color="#0a000c"/><stop offset=".2027" stop-color="#0a000c"/><stop offset=".2149" stop-color="#18001c"/><stop offset=".2485" stop-color="#210026"/><stop offset=".2546" stop-color="#3d0046"/><stop offset=".2912" stop-color="#3f0048"/><stop offset=".2942" stop-color="#44004e"/><stop offset=".3155" stop-color="#470051"/><stop offset=".3216" stop-color="#5a0067"/><stop offset=".3277" stop-color="#670075"/><stop offset=".3430" stop-color="#580065"/><stop offset=".3643" stop-color="#5c0069"/><stop offset=".3826" stop-color="#5b0068"/><stop offset=".3857" stop-color="#53005f"/><stop offset=".4527" stop-color="#560062"/><stop offset=".4588" stop-color="#52005e"/><stop offset=".4649" stop-color="#560062"/><stop offset=".4741" stop-color="#560062"/><stop offset=".4832" stop-color="#590065"/><stop offset=".4924" stop-color="#590065"/><stop offset=".4954" stop-color="#4b0056"/><stop offset=".4985" stop-color="#51005c"/><stop offset=".5015" stop-color="#43004d"/><stop offset=".5137" stop-color="#42004c"/><stop offset=".5168" stop-color="#36003d"/><stop offset=".5290" stop-color="#35003d"/><stop offset=".5320" stop-color="#51005c"/><stop offset=".5351" stop-color="#37003f"/><stop offset=".5381" stop-color="#3b0043"/><stop offset=".5655" stop-color="#390041"/><stop offset=".5686" stop-color="#51005c"/><stop offset=".5716" stop-color="#3f0048"/><stop offset=".5808" stop-color="#3e0047"/><stop offset=".5838" stop-color="#33003a"/><stop offset=".5960" stop-color="#320039"/><stop offset=".5991" stop-color="#3a0042"/><stop offset=".6052" stop-color="#3a0042"/><stop offset=".6082" stop-color="#51005c"/><stop offset=".6143" stop-color="#2d0033"/><stop offset=".6174" stop-color="#1f0024"/><stop offset=".6296" stop-color="#220027"/><stop offset=".6326" stop-color="#51005c"/><stop offset=".6357" stop-color="#220027"/><stop offset=".6479" stop-color="#210026"/><stop offset=".6509" stop-color="#1c0020"/><stop offset=".6540" stop-color="#51005c"/><stop offset=".6570" stop-color="#1c0020"/><stop offset=".6631" stop-color="#1c0020"/><stop offset=".6662" stop-color="#210026"/><stop offset=".6692" stop-color="#210026"/><stop offset=".6723" stop-color="#51005c"/><stop offset=".6753" stop-color="#1f0023"/><stop offset=".6845" stop-color="#220027"/><stop offset=".6875" stop-color="#51005c"/><stop offset=".6905" stop-color="#230028"/><stop offset=".7027" stop-color="#230028"/><stop offset=".7058" stop-color="#51005c"/><stop offset=".7088" stop-color="#1d0021"/><stop offset=".7271" stop-color="#1e0023"/><stop offset=".7302" stop-color="#0000dd"/><stop offset=".7332" stop-color="#1d0021"/><stop offset=".7363" stop-color="#5f006d"/><stop offset=".7393" stop-color="#7b008c"/><stop offset=".7607" stop-color="#7b008c"/><stop offset=".7637" stop-color="#0000be"/><stop offset=".7668" stop-color="#36003e"/><stop offset=".7698" stop-color="#36003e"/><stop offset=".7729" stop-color="#25002a"/><stop offset=".7759" stop-color="#25002a"/><stop offset=".7790" stop-color="#2b0031"/><stop offset=".7820" stop-color="#2b0031"/><stop offset=".7851" stop-color="#42004b"/><stop offset=".7912" stop-color="#42004b"/><stop offset=".7942" stop-color="#3a0042"/><stop offset=".7973" stop-color="#3a0042"/><stop offset=".8003" stop-color="#25002a"/><stop offset=".8034" stop-color="#44004d"/><stop offset=".8064" stop-color="#44004d"/><stop offset=".8095" stop-color="#380040"/><stop offset=".8125" stop-color="#210026"/><stop offset=".8155" stop-color="#210026"/><stop offset=".8186" stop-color="#42004b"/><stop offset=".8216" stop-color="#810092"/><stop offset=".8247" stop-color="#28002d"/><stop offset=".8338" stop-color="#27002d"/><stop offset=".8369" stop-color="#18001b"/><stop offset=".8399" stop-color="#200025"/><stop offset=".8521" stop-color="#1f0023"/><stop offset=".8552" stop-color="#27002d"/><stop offset=".8582" stop-color="#200025"/><stop offset=".8704" stop-color="#1b001f"/><stop offset=".8735" stop-color="#26002c"/><stop offset=".8826" stop-color="#26002c"/><stop offset=".8857" stop-color="#2b0031"/><stop offset=".8887" stop-color="#220027"/><stop offset=".8918" stop-color="#220027"/><stop offset=".8948" stop-color="#1d0021"/><stop offset=".9070" stop-color="#1a001e"/><stop offset=".9131" stop-color="#1e0022"/><stop offset=".9162" stop-color="#18001b"/><stop offset=".9253" stop-color="#18001b"/><stop offset=".9284" stop-color="#2c0032"/><stop offset=".9314" stop-color="#2c0032"/><stop offset=".9345" stop-color="#1b001e"/><stop offset=".9527" stop-color="#18001c"/><stop offset=".9558" stop-color="#2c0032"/><stop offset=".9680" stop-color="#2c0032"/><stop offset=".9710" stop-color="#19001d"/><stop offset=".9924" stop-color="#18001c"/><stop offset=".9954" stop-color="#220027"/><stop offset=".9985" stop-color="#220027"/></linearGradient><linearGradient id="g11" gradientUnits="userSpaceOnUse" x1="328.75" x2="595.20"><stop offset=".0015" stop-color="#830094"/><stop offset=".0046" stop-color="#7e008f"/><stop offset=".0076" stop-color="#130015"/><stop offset=".0259" stop-color="#130015"/><stop offset=".0290" stop-color="#0a000c"/><stop offset=".0320" stop-color="#120014"/><stop offset=".0351" stop-color="#0a000c"/><stop offset=".0747" stop-color="#0a000c"/><stop offset=".0777" stop-color="#120014"/><stop offset=".0808" stop-color="#0a000c"/><stop offset=".0838" stop-color="#0a000c"/><stop offset=".0869" stop-color="#120014"/><stop offset=".0899" stop-color="#0a000c"/><stop offset=".0960" stop-color="#0a000c"/><stop offset=".0991" stop-color="#120014"/><stop offset=".1021" stop-color="#0a000c"/><stop offset=".1204" stop-color="#0a000c"/><stop offset=".1235" stop-color="#050005"/><stop offset=".1265" stop-color="#0a000c"/><stop offset=".1418" stop-color="#0a000c"/><stop offset=".1448" stop-color="#120014"/><stop offset=".1479" stop-color="#0a000c"/><stop offset=".1753" stop-color="#0a000c"/><stop offset=".1784" stop-color="#120014"/><stop offset=".1814" stop-color="#0a000c"/><stop offset=".2027" stop-color="#0b000d"/><stop offset=".2119" stop-color="#590065"/><stop offset=".2149" stop-color="#7b008c"/><stop offset=".2180" stop-color="#840095"/><stop offset=".2210" stop-color="#63009e"/><stop offset=".2241" stop-color="#1200a8"/><stop offset=".2271" stop-color="#0000c8"/><stop offset=".2302" stop-color="#0022dd"/><stop offset=".2332" stop-color="#0071dd"/><stop offset=".2363" stop-color="#0087dd"/><stop offset=".2393" stop-color="#0093dd"/><stop offset=".2424" stop-color="#009bd6"/><stop offset=".2515" stop-color="#00a9ad"/><stop offset=".2607" stop-color="#00aa96"/><stop offset=".2729" stop-color="#00aa85"/><stop offset=".2790" stop-color="#00a772"/><stop offset=".2973" stop-color="#00a457"/><stop offset=".3643" stop-color="#009c18"/><stop offset=".3796" stop-color="#009900"/><stop offset=".4314" stop-color="#00ad00"/><stop offset=".4771" stop-color="#00b800"/><stop offset=".5168" stop-color="#009902"/><stop offset=".5290" stop-color="#00a13e"/><stop offset=".5381" stop-color="#00a76d"/><stop offset=".5442" stop-color="#00aa87"/><stop offset=".5655" stop-color="#00a9ad"/><stop offset=".5869" stop-color="#0097dd"/><stop offset=".6082" stop-color="#0078dd"/><stop offset=".6357" stop-color="#0004dd"/><stop offset=".6418" stop-color="#0000d4"/><stop offset=".6997" stop-color="#0000ce"/><stop offset=".7088" stop-color="#0000ab"/><stop offset=".7119" stop-color="#1b00a7"/><stop offset=".7210" stop-color="#4400a2"/><stop offset=".7302" stop-color="#4400a2"/><stop offset=".7332" stop-color="#0099dd"/><stop offset=".7363" stop-color="#0000dd"/><stop offset=".7393" stop-color="#0000aa"/><stop offset=".7424" stop-color="#0000dd"/><stop offset=".7454" stop-color="#0092dd"/><stop offset=".7485" stop-color="#007edd"/><stop offset=".7515" stop-color="#0000dd"/><stop offset=".7546" stop-color="#0000dd"/><stop offset=".7576" stop-color="#0018dd"/><stop offset=".7607" stop-color="#0092dd"/><stop offset=".7637" stop-color="#0077dd"/><stop offset=".7668" stop-color="#0000dd"/><stop offset=".7698" stop-color="#0000dd"/><stop offset=".7729" stop-color="#0018dd"/><stop offset=".7759" stop-color="#0085dd"/><stop offset=".7790" stop-color="#0000dd"/><stop offset=".7820" stop-color="#0018dd"/><stop offset=".7851" stop-color="#008bdd"/><stop offset=".7881" stop-color="#007edd"/><stop offset=".7912" stop-color="#0000dd"/><stop offset=".7942" stop-color="#0000dd"/><stop offset=".7973" stop-color="#0018dd"/><stop offset=".8003" stop-color="#0085dd"/><stop offset=".8034" stop-color="#0092dd"/><stop offset=".8064" stop-color="#0030dd"/><stop offset=".8095" stop-color="#0000dd"/><stop offset=".8125" stop-color="#0000d3"/><stop offset=".8186" stop-color="#0000d3"/><stop offset=".8216" stop-color="#0000c9"/><stop offset=".8247" stop-color="#850096"/><stop offset=".8277" stop-color="#60006e"/><stop offset=".8338" stop-color="#5f006c"/><stop offset=".8369" stop-color="#52005d"/><stop offset=".8430" stop-color="#50005c"/><stop offset=".8460" stop-color="#5b0068"/><stop offset=".8491" stop-color="#4f005a"/><stop offset=".8643" stop-color="#4c0057"/><stop offset=".8704" stop-color="#460051"/><stop offset=".8735" stop-color="#4b0056"/><stop offset=".8857" stop-color="#4c0057"/><stop offset=".8887" stop-color="#34003b"/><stop offset=".8918" stop-color="#2a002f"/><stop offset=".8948" stop-color="#29002f"/><stop offset=".8979" stop-color="#3d0046"/><stop offset=".9070" stop-color="#380040"/><stop offset=".9101" stop-color="#320039"/><stop offset=".9162" stop-color="#310038"/><stop offset=".9192" stop-color="#37003f"/><stop offset=".9284" stop-color="#36003e"/><stop offset=".9314" stop-color="#36003d"/><stop offset=".9345" stop-color="#2b0031"/><stop offset=".9375" stop-color="#29002f"/><stop offset=".9405" stop-color="#220027"/><stop offset=".9436" stop-color="#210025"/><stop offset=".9466" stop-color="#19001c"/><stop offset=".9588" stop-color="#110013"/><stop offset=".9710" stop-color="#110013"/><stop offset=".9741" stop-color="#160019"/><stop offset=".9771" stop-color="#100012"/><stop offset=".9893" stop-color="#130016"/><stop offset=".9924" stop-color="#0f0011"/><stop offset=".9954" stop-color="#150018"/><stop offset=".9985" stop-color="#150018"/></linearGradient><linearGradient id="g12" gradientUnits="userSpaceOnUse" x1="328.75" x2="595.20"><stop offset=".0015" stop-color="#830094"/><stop offset=".0046" stop-color="#7e008f"/><stop offset=".0076" stop-color="#130015"/><stop offset=".0259" stop-color="#130015"/><stop offset=".0290" stop-color="#0a000c"/><stop offset=".0320" stop-color="#120014"/><stop offset=".0351" stop-color="#0a000c"/><stop offset=".0747" stop-color="#0a000c"/><stop offset=".0777" stop-color="#120014"/><stop offset=".0808" stop-color="#0a000c"/><stop offset=".0838" stop-color="#0a000c"/><stop offset=".0869" stop-color="#120014"/><stop offset=".0899" stop-color="#0a000c"/><stop offset=".0960" stop-color="#0a000c"/><stop offset=".0991" stop-color="#120014"/><stop offset=".1021" stop-color="#0a000c"/><stop offset=".1204" stop-color="#0a000c"/><stop offset=".1235" stop-color="#050005"/><stop offset=".1265" stop-color="#0a000c"/><stop offset=".1418" stop-color="#0a000c"/><stop offset=".1448" stop-color="#120014"/><stop offset=".1479" stop-color="#0a000c"/><stop offset=".1753" stop-color="#0a000c"/><stop offset=".1784" stop-color="#120014"/><stop offset=".1814" stop-color="#0a000c"/><stop offset=".2027" stop-color="#0a000c"/><stop offset=".2119" stop-color="#4e0059"/><stop offset=".2149" stop-color="#740084"/><stop offset=".2210" stop-color="#850096"/><stop offset=".2241" stop-color="#63009e"/><stop offset=".2271" stop-color="#2800a5"/><stop offset=".2302" stop-color="#0000b0"/><stop offset=".2363" stop-color="#0000d9"/><stop offset=".2393" stop-color="#0024dd"/><stop offset=".2424" stop-color="#004ddd"/><stop offset=".2454" stop-color="#006cdd"/><stop offset=".2485" stop-color="#007cdd"/><stop offset=".2607" stop-color="#009ada"/><stop offset=".2698" stop-color="#00a4bc"/><stop offset=".2820" stop-color="#00aaa7"/><stop offset=".3064" stop-color="#00aa9b"/><stop offset=".3613" stop-color="#00aa90"/><stop offset=".3796" stop-color="#00aa86"/><stop offset=".3918" stop-color="#00a66b"/><stop offset=".4162" stop-color="#009e28"/><stop offset=".4375" stop-color="#009902"/><stop offset=".4802" stop-color="#00a700"/><stop offset=".5107" stop-color="#009b00"/><stop offset=".5137" stop-color="#009a04"/><stop offset=".5381" stop-color="#00a563"/><stop offset=".5473" stop-color="#00aa8a"/><stop offset=".5686" stop-color="#00a8b0"/><stop offset=".5869" stop-color="#009adb"/><stop offset=".6113" stop-color="#0077dd"/><stop offset=".6387" stop-color="#0000dd"/><stop offset=".6448" stop-color="#0000d2"/><stop offset=".6997" stop-color="#0000ce"/><stop offset=".7088" stop-color="#0000ab"/><stop offset=".7119" stop-color="#1b00a7"/><stop offset=".7210" stop-color="#4400a2"/><stop offset=".7302" stop-color="#4400a2"/><stop offset=".7332" stop-color="#0099dd"/><stop offset=".7363" stop-color="#0000dd"/><stop offset=".7393" stop-color="#0000aa"/><stop offset=".7424" stop-color="#0000dd"/><stop offset=".7454" stop-color="#0092dd"/><stop offset=".7485" stop-color="#007edd"/><stop offset=".7515" stop-color="#0000dd"/><stop offset=".7546" stop-color="#0000dd"/><stop offset=".7576" stop-color="#0018dd"/><stop offset=".7607" stop-color="#0092dd"/><stop offset=".7637" stop-color="#0077dd"/><stop offset=".7668" stop-color="#0000dd"/><stop offset=".7698" stop-color="#0000dd"/><stop offset=".7729" stop-color="#0018dd"/><stop offset=".7759" stop-color="#0085dd"/><stop offset=".7790" stop-color="#0000dd"/><stop offset=".7820" stop-color="#0018dd"/><stop offset=".7851" stop-color="#008bdd"/><stop offset=".7881" stop-color="#007edd"/><stop offset=".7912" stop-color="#0000dd"/><stop offset=".7942" stop-color="#0000dd"/><stop offset=".7973" stop-color="#0018dd"/><stop offset=".8003" stop-color="#0085dd"/><stop offset=".8034" stop-color="#0092dd"/><stop offset=".8064" stop-color="#0030dd"/><stop offset=".8095" stop-color="#0000dd"/><stop offset=".8125" stop-color="#0000d3"/><stop offset=".8186" stop-color="#0000d3"/><stop offset=".8216" stop-color="#0000c9"/><stop offset=".8247" stop-color="#850096"/><stop offset=".8277" stop-color="#60006e"/><stop offset=".8338" stop-color="#5f006c"/><stop offset=".8369" stop-color="#52005d"/><stop offset=".8430" stop-color="#50005c"/><stop offset=".8460" stop-color="#5b0068"/><stop offset=".8491" stop-color="#4f005a"/><stop offset=".8643" stop-color="#4c0057"/><stop offset=".8704" stop-color="#460051"/><stop offset=".8735" stop-color="#4b0056"/><stop offset=".8857" stop-color="#4c0057"/><stop offset=".8887" stop-color="#34003b"/><stop offset=".8918" stop-color="#2a002f"/><stop offset=".8948" stop-color="#29002f"/><stop offset=".8979" stop-color="#3d0046"/><stop offset=".9070" stop-color="#380040"/><stop offset=".9101" stop-color="#320039"/><stop offset=".9162" stop-color="#310038"/><stop offset=".9192" stop-color="#37003f"/><stop offset=".9284" stop-color="#36003e"/><stop offset=".9314" stop-color="#36003d"/><stop offset=".9345" stop-color="#2b0031"/><stop offset=".9375" stop-color="#29002f"/><stop offset=".9405" stop-color="#220027"/><stop offset=".9436" stop-color="#210025"/><stop offset=".9466" stop-color="#19001c"/><stop offset=".9588" stop-color="#110013"/><stop offset=".9710" stop-color="#110013"/><stop offset=".9741" stop-color="#160019"/><stop offset=".9771" stop-color="#100012"/><stop offset=".9893" stop-color="#130016"/><stop offset=".9924" stop-color="#0f0011"/><stop offset=".9954" stop-color="#150018"/><stop offset=".9985" stop-color="#150018"/></linearGradient><linearGradient id="g13" gradientUnits="userSpaceOnUse" x1="328.75" x2="595.20"><stop offset=".0015" stop-color="#830094"/><stop offset=".0046" stop-color="#7e008f"/><stop offset=".0076" stop-color="#130015"/><stop offset=".0259" stop-color="#130015"/><stop offset=".0290" stop-color="#0a000c"/><stop offset=".0320" stop-color="#120014"/><stop offset=".0351" stop-color="#0a000c"/><stop offset=".0747" stop-color="#0a000c"/><stop offset=".0777" stop-color="#120014"/><stop offset=".0808" stop-color="#0a000c"/><stop offset=".0838" stop-color="#0a000c"/><stop offset=".0869" stop-color="#120014"/><stop offset=".0899" stop-color="#0a000c"/><stop offset=".0960" stop-color="#0a000c"/><stop offset=".0991" stop-color="#120014"/><stop offset=".1021" stop-color="#0a000c"/><stop offset=".1204" stop-color="#0a000c"/><stop offset=".1235" stop-color="#050005"/><stop offset=".1265" stop-color="#0a000c"/><stop offset=".1418" stop-color="#0a000c"/><stop offset=".1448" stop-color="#120014"/><stop offset=".1479" stop-color="#0a000c"/><stop offset=".1753" stop-color="#0a000c"/><stop offset=".1784" stop-color="#120014"/><stop offset=".1814" stop-color="#0a000c"/><stop offset=".2027" stop-color="#0b000c"/><stop offset=".2119" stop-color="#550062"/><stop offset=".2149" stop-color="#7a008b"/><stop offset=".2180" stop-color="#820093"/><stop offset=".2210" stop-color="#76009b"/><stop offset=".2241" stop-color="#2c00a5"/><stop offset=".2271" stop-color="#0000b9"/><stop offset=".2302" stop-color="#0000d9"/><stop offset=".2363" stop-color="#0074dd"/><stop offset=".2424" stop-color="#008edd"/><stop offset=".2454" stop-color="#0097dd"/><stop offset=".2576" stop-color="#00a9ad"/><stop offset=".2698" stop-color="#00aa98"/><stop offset=".3034" stop-color="#00a97c"/><stop offset=".3582" stop-color="#00a34c"/><stop offset=".3887" stop-color="#009c1b"/><stop offset=".4009" stop-color="#009900"/><stop offset=".4558" stop-color="#00ad00"/><stop offset=".4771" stop-color="#00b300"/><stop offset=".5137" stop-color="#009b00"/><stop offset=".5168" stop-color="#009904"/><stop offset=".5320" stop-color="#00a24a"/><stop offset=".5473" stop-color="#00aa8b"/><stop offset=".5686" stop-color="#00a8b1"/><stop offset=".5869" stop-color="#0099dd"/><stop offset=".6113" stop-color="#0075dd"/><stop offset=".6357" stop-color="#000add"/><stop offset=".6387" stop-color="#0000db"/><stop offset=".6448" stop-color="#0000d2"/><stop offset=".6997" stop-color="#0000ce"/><stop offset=".7088" stop-color="#0000ab"/><stop offset=".7119" stop-color="#1b00a7"/><stop offset=".7210" stop-color="#4400a2"/><stop offset=".7302" stop-color="#4400a2"/><stop offset=".7332" stop-color="#3600a3"/><stop offset=".7363" stop-color="#0099dd"/><stop offset=".7393" stop-color="#0018dd"/><stop offset=".7424" stop-color="#0000dd"/><stop offset=".7454" stop-color="#0092dd"/><stop offset=".7485" stop-color="#007edd"/><stop offset=".7515" stop-color="#0000dd"/><stop offset=".7546" stop-color="#0000dd"/><stop offset=".7576" stop-color="#0018dd"/><stop offset=".7607" stop-color="#0092dd"/><stop offset=".7637" stop-color="#0077dd"/><stop offset=".7668" stop-color="#0000dd"/><stop offset=".7698" stop-color="#0000dd"/><stop offset=".7729" stop-color="#0018dd"/><stop offset=".7759" stop-color="#0085dd"/><stop offset=".7790" stop-color="#0000dd"/><stop offset=".7820" stop-color="#0018dd"/><stop offset=".7851" stop-color="#008bdd"/><stop offset=".7881" stop-color="#007edd"/><stop offset=".7912" stop-color="#0000dd"/><stop offset=".7942" stop-color="#0000dd"/><stop offset=".7973" stop-color="#0018dd"/><stop offset=".8003" stop-color="#0085dd"/><stop offset=".8034" stop-color="#0092dd"/><stop offset=".8064" stop-color="#0030dd"/><stop offset=".8095" stop-color="#0000dd"/><stop offset=".8125" stop-color="#0000d3"/><stop offset=".8186" stop-color="#0000d3"/><stop offset=".8216" stop-color="#0000c9"/><stop offset=".8247" stop-color="#850096"/><stop offset=".8277" stop-color="#60006e"/><stop offset=".8338" stop-color="#5f006c"/><stop offset=".8369" stop-color="#52005d"/><stop offset=".8430" stop-color="#50005c"/><stop offset=".8460" stop-color="#5b0068"/><stop offset=".8491" stop-color="#4f005a"/><stop offset=".8643" stop-color="#4c0057"/><stop offset=".8704" stop-color="#460051"/><stop offset=".8735" stop-color="#4b0056"/><stop offset=".8857" stop-color="#4c0057"/><stop offset=".8887" stop-color="#34003b"/><stop offset=".8918" stop-color="#2a002f"/><stop offset=".8948" stop-color="#29002f"/><stop offset=".8979" stop-color="#3d0046"/><stop offset=".9070" stop-color="#380040"/><stop offset=".9101" stop-color="#320039"/><stop offset=".9162" stop-color="#310038"/><stop offset=".9192" stop-color="#37003f"/><stop offset=".9284" stop-color="#36003e"/><stop offset=".9314" stop-color="#36003d"/><stop offset=".9345" stop-color="#2b0031"/><stop offset=".9375" stop-color="#29002f"/><stop offset=".9405" stop-color="#220027"/><stop offset=".9436" stop-color="#210025"/><stop offset=".9466" stop-color="#19001c"/><stop offset=".9588" stop-color="#110013"/><stop offset=".9710" stop-color="#110013"/><stop offset=".9741" stop-color="#160019"/><stop offset=".9771" stop-color="#100012"/><stop offset=".9893" stop-color="#130016"/><stop offset=".9924" stop-color="#0f0011"/><stop offset=".9954" stop-color="#150018"/><stop offset=".9985" stop-color="#150018"/></linearGradient><linearGradient id="g14" gradientUnits="userSpaceOnUse" x1="328.75" x2="595.20"><stop offset=".0015" stop-color="#830094"/><stop offset=".0046" stop-color="#7e008f"/><stop offset=".0076" stop-color="#130015"/><stop offset=".0259" stop-color="#130015"/><stop offset=".0290" stop-color="#0a000c"/><stop offset=".0320" stop-color="#120014"/><stop offset=".0351" stop-color="#0a000c"/><stop offset=".0747" stop-color="#0a000c"/><stop offset=".0777" stop-color="#120014"/><stop offset=".0808" stop-color="#0a000c"/><stop offset=".0838" stop-color="#0a000c"/><stop offset=".0869" stop-color="#120014"/><stop offset=".0899" stop-color="#0a000c"/><stop offset=".0960" stop-color="#0a000c"/><stop offset=".0991" stop-color="#120014"/><stop offset=".1021" stop-color="#0a000c"/><stop offset=".1204" stop-color="#0a000c"/><stop offset=".1235" stop-color="#050005"/><stop offset=".1265" stop-color="#0a000c"/><stop offset=".1418" stop-color="#0a000c"/><stop offset=".1448" stop-color="#120014"/><stop offset=".1479" stop-color="#0a000c"/><stop offset=".1753" stop-color="#0a000c"/><stop offset=".1784" stop-color="#120014"/><stop offset=".1814" stop-color="#0a000c"/><stop offset=".2027" stop-color="#0a000c"/><stop offset=".2119" stop-color="#4e0059"/><stop offset=".2149" stop-color="#720082"/><stop offset=".2210" stop-color="#850096"/><stop offset=".2241" stop-color="#67009d"/><stop offset=".2271" stop-color="#2e00a4"/><stop offset=".2302" stop-color="#0000ad"/><stop offset=".2363" stop-color="#0000d5"/><stop offset=".2393" stop-color="#001add"/><stop offset=".2424" stop-color="#0044dd"/><stop offset=".2454" stop-color="#0063dd"/><stop offset=".2485" stop-color="#0079dd"/><stop offset=".2607" stop-color="#0098dd"/><stop offset=".2698" stop-color="#00a3bf"/><stop offset=".2820" stop-color="#00aaa9"/><stop offset=".3064" stop-color="#00aa9d"/><stop offset=".3613" stop-color="#00aa92"/><stop offset=".3826" stop-color="#00aa88"/><stop offset=".3948" stop-color="#00a669"/><stop offset=".4162" stop-color="#009f2e"/><stop offset=".4405" stop-color="#009901"/><stop offset=".4802" stop-color="#00a700"/><stop offset=".5137" stop-color="#009902"/><stop offset=".5351" stop-color="#00a34f"/><stop offset=".5442" stop-color="#00a875"/><stop offset=".5473" stop-color="#00aa88"/><stop offset=".5716" stop-color="#00a7b4"/><stop offset=".5899" stop-color="#0097dd"/><stop offset=".6113" stop-color="#0079dd"/><stop offset=".6143" stop-color="#0071dd"/><stop offset=".6387" stop-color="#0004dd"/><stop offset=".6448" stop-color="#0000d3"/><stop offset=".6997" stop-color="#0000ce"/><stop offset=".7088" stop-color="#0000ab"/><stop offset=".7119" stop-color="#1b00a7"/><stop offset=".7210" stop-color="#4400a2"/><stop offset=".7302" stop-color="#4400a2"/><stop offset=".7332" stop-color="#3600a3"/><stop offset=".7363" stop-color="#0099dd"/><stop offset=".7393" stop-color="#0018dd"/><stop offset=".7424" stop-color="#0000dd"/><stop offset=".7454" stop-color="#0092dd"/><stop offset=".7485" stop-color="#007edd"/><stop offset=".7515" stop-color="#0000dd"/><stop offset=".7546" stop-color="#0000dd"/><stop offset=".7576" stop-color="#0018dd"/><stop offset=".7607" stop-color="#0092dd"/><stop offset=".7637" stop-color="#0077dd"/><stop offset=".7668" stop-color="#0000dd"/><stop offset=".7698" stop-color="#0000dd"/><stop offset=".7729" stop-color="#0018dd"/><stop offset=".7759" stop-color="#0085dd"/><stop offset=".7790" stop-color="#0000dd"/><stop offset=".7820" stop-color="#0018dd"/><stop offset=".7851" stop-color="#008bdd"/><stop offset=".7881" stop-color="#007edd"/><stop offset=".7912" stop-color="#0000dd"/><stop offset=".7942" stop-color="#0000dd"/><stop offset=".7973" stop-color="#0018dd"/><stop offset=".8003" stop-color="#0085dd"/><stop offset=".8034" stop-color="#0092dd"/><stop offset=".8064" stop-color="#0030dd"/><stop offset=".8095" stop-color="#0000dd"/><stop offset=".8125" stop-color="#0000d3"/><stop offset=".8186" stop-color="#0000d3"/><stop offset=".8216" stop-color="#0000c9"/><stop offset=".8247" stop-color="#850096"/><stop offset=".8277" stop-color="#60006e"/><stop offset=".8338" stop-color="#5f006c"/><stop offset=".8369" stop-color="#52005d"/><stop offset=".8430" stop-color="#50005c"/><stop offset=".8460" stop-color="#5b0068"/><stop offset=".8491" stop-color="#4f005a"/><stop offset=".8643" stop-color="#4c0057"/><stop offset=".8704" stop-color="#460051"/><stop offset=".8735" stop-color="#4b0056"/><stop offset=".8857" stop-color="#4c0057"/><stop offset=".8887" stop-color="#34003b"/><stop offset=".8918" stop-color="#2a002f"/><stop offset=".8948" stop-color="#29002f"/><stop offset=".8979" stop-color="#3d0046"/><stop offset=".9070" stop-color="#380040"/><stop offset=".9101" stop-color="#320039"/><stop offset=".9162" stop-color="#310038"/><stop offset=".9192" stop-color="#37003f"/><stop offset=".9284" stop-color="#36003e"/><stop offset=".9314" stop-color="#36003d"/><stop offset=".9345" stop-color="#2b0031"/><stop offset=".9375" stop-color="#29002f"/><stop offset=".9405" stop-color="#220027"/><stop offset=".9436" stop-color="#210025"/><stop offset=".9466" stop-color="#19001c"/><stop offset=".9588" stop-color="#110013"/><stop offset=".9710" stop-color="#110013"/><stop offset=".9741" stop-color="#160019"/><stop offset=".9771" stop-color="#100012"/><stop offset=".9893" stop-color="#130016"/><stop offset=".9924" stop-color="#0f0011"/><stop offset=".9954" stop-color="#150018"/><stop offset=".9985" stop-color="#150018"/></linearGradient><linearGradient id="g15" gradientUnits="userSpaceOnUse" x1="328.75" x2="595.20"><stop offset=".0015" stop-color="#830094"/><stop offset=".0046" stop-color="#7e008f"/><stop offset=".0076" stop-color="#130015"/><stop offset=".0259" stop-color="#130015"/><stop offset=".0290" stop-color="#0a000c"/><stop offset=".0320" stop-color="#120014"/><stop offset=".0351" stop-color="#0a000c"/><stop offset=".0747" stop-color="#0a000c"/><stop offset=".0777" stop-color="#120014"/><stop offset=".0808" stop-color="#0a000c"/><stop offset=".0838" stop-color="#0a000c"/><stop offset=".0869" stop-color="#120014"/><stop offset=".0899" stop-color="#0a000c"/><stop offset=".0960" stop-color="#0a000c"/><stop offset=".0991" stop-color="#120014"/><stop offset=".1021" stop-color="#0a000c"/><stop offset=".1204" stop-color="#0a000c"/><stop offset=".1235" stop-color="#050005"/><stop offset=".1265" stop-color="#0a000c"/><stop offset=".1418" stop-color="#0a000c"/><stop offset=".1448" stop-color="#120014"/><stop offset=".1479" stop-color="#0a000c"/><stop offset=".1753" stop-color="#0a000c"/><stop offset=".1784" stop-color="#120014"/><stop offset=".1814" stop-color="#0a000c"/><stop offset=".2027" stop-color="#0a000c"/><stop offset=".2119" stop-color="#52005d"/><stop offset=".2149" stop-color="#780089"/><stop offset=".2210" stop-color="#880099"/><stop offset=".2241" stop-color="#4a00a1"/><stop offset=".2271" stop-color="#0200aa"/><stop offset=".2332" stop-color="#0000dc"/><stop offset=".2393" stop-color="#005ddd"/><stop offset=".2424" stop-color="#007bdd"/><stop offset=".2515" stop-color="#0095dd"/><stop offset=".2576" stop-color="#009fcb"/><stop offset=".2668" stop-color="#00a9ae"/><stop offset=".2820" stop-color="#00aa9b"/><stop offset=".3125" stop-color="#00aa90"/><stop offset=".3552" stop-color="#00aa86"/><stop offset=".3918" stop-color="#00a143"/><stop offset=".4162" stop-color="#009a07"/><stop offset=".4253" stop-color="#009b00"/><stop offset=".4771" stop-color="#00ad00"/><stop offset=".5137" stop-color="#009901"/><stop offset=".5320" stop-color="#00a34f"/><stop offset=".5442" stop-color="#00a983"/><stop offset=".5534" stop-color="#00aa97"/><stop offset=".5686" stop-color="#00a7b3"/><stop offset=".5869" stop-color="#0098dd"/><stop offset=".6082" stop-color="#0079dd"/><stop offset=".6113" stop-color="#0071dd"/><stop offset=".6357" stop-color="#0007dd"/><stop offset=".6387" stop-color="#0000da"/><stop offset=".6448" stop-color="#0000d2"/><stop offset=".6997" stop-color="#0000ce"/><stop offset=".7088" stop-color="#0000ab"/><stop offset=".7119" stop-color="#1b00a7"/><stop offset=".7210" stop-color="#4400a2"/><stop offset=".7302" stop-color="#4400a2"/><stop offset=".7332" stop-color="#3600a3"/><stop offset=".7363" stop-color="#0099dd"/><stop offset=".7393" stop-color="#0018dd"/><stop offset=".7424" stop-color="#0000dd"/><stop offset=".7454" stop-color="#0092dd"/><stop offset=".7485" stop-color="#007edd"/><stop offset=".7515" stop-color="#0000dd"/><stop offset=".7546" stop-color="#0000dd"/><stop offset=".7576" stop-color="#0018dd"/><stop offset=".7607" stop-color="#0092dd"/><stop offset=".7637" stop-color="#0077dd"/><stop offset=".7668" stop-color="#0000dd"/><stop offset=".7698" stop-color="#0000dd"/><stop offset=".7729" stop-color="#0018dd"/><stop offset=".7759" stop-color="#0085dd"/><stop offset=".7790" stop-color="#0000dd"/><stop offset=".7820" stop-color="#0018dd"/><stop offset=".7851" stop-color="#008bdd"/><stop offset=".7881" stop-color="#007edd"/><stop offset=".7912" stop-color="#0000dd"/><stop offset=".7942" stop-color="#0000dd"/><stop offset=".7973" stop-color="#0018dd"/><stop offset=".8003" stop-color="#0085dd"/><stop offset=".8034" stop-color="#0092dd"/><stop offset=".8064" stop-color="#0030dd"/><stop offset=".8095" stop-color="#0000dd"/><stop offset=".8125" stop-color="#0000d3"/><stop offset=".8186" stop-color="#0000d3"/><stop offset=".8216" stop-color="#0000c9"/><stop offset=".8247" stop-color="#850096"/><stop offset=".8277" stop-color="#60006e"/><stop offset=".8338" stop-color="#5f006c"/><stop offset=".8369" stop-color="#52005d"/><stop offset=".8430" stop-color="#50005c"/><stop offset=".8460" stop-color="#5b0068"/><stop offset=".8491" stop-color="#4f005a"/><stop offset=".8643" stop-color="#4c0057"/><stop offset=".8704" stop-color="#460051"/><stop offset=".8735" stop-color="#4b0056"/><stop offset=".8857" stop-color="#4c0057"/><stop offset=".8887" stop-color="#34003b"/><stop offset=".8918" stop-color="#2a002f"/><stop offset=".8948" stop-color="#29002f"/><stop offset=".8979" stop-color="#3d0046"/><stop offset=".9070" stop-color="#380040"/><stop offset=".9101" stop-color="#320039"/><stop offset=".9162" stop-color="#310038"/><stop offset=".9192" stop-color="#37003f"/><stop offset=".9284" stop-color="#36003e"/><stop offset=".9314" stop-color="#36003d"/><stop offset=".9345" stop-color="#2b0031"/><stop offset=".9375" stop-color="#29002f"/><stop offset=".9405" stop-color="#220027"/><stop offset=".9436" stop-color="#210025"/><stop offset=".9466" stop-color="#19001c"/><stop offset=".9588" stop-color="#110013"/><stop offset=".9710" stop-color="#110013"/><stop offset=".9741" stop-color="#160019"/><stop offset=".9771" stop-color="#100012"/><stop offset=".9893" stop-color="#130016"/><stop offset=".9924" stop-color="#0f0011"/><stop offset=".9954" stop-color="#150018"/><stop offset=".9985" stop-color="#150018"/></linearGradient><linearGradient id="g16" gradientUnits="userSpaceOnUse" x1="328.75" x2="595.20"><stop offset=".0015" stop-color="#830094"/><stop offset=".0046" stop-color="#7e008f"/><stop offset=".0076" stop-color="#130015"/><stop offset=".0259" stop-color="#130015"/><stop offset=".0290" stop-color="#0a000c"/><stop offset=".0320" stop-color="#120014"/><stop offset=".0351" stop-color="#0a000c"/><stop offset=".0747" stop-color="#0a000c"/><stop offset=".0777" stop-color="#120014"/><stop offset=".0808" stop-color="#0a000c"/><stop offset=".0838" stop-color="#0a000c"/><stop offset=".0869" stop-color="#120014"/><stop offset=".0899" stop-color="#0a000c"/><stop offset=".0960" stop-color="#0a000c"/><stop offset=".0991" stop-color="#120014"/><stop offset=".1021" stop-color="#0a000c"/><stop offset=".1204" stop-color="#0a000c"/><stop offset=".1235" stop-color="#050005"/><stop offset=".1265" stop-color="#0a000c"/><stop offset=".1418" stop-color="#0a000c"/><stop offset=".1448" stop-color="#120014"/><stop offset=".1479" stop-color="#0a000c"/><stop offset=".1753" stop-color="#0a000c"/><stop offset=".1784" stop-color="#120014"/><stop offset=".1814" stop-color="#0a000c"/><stop offset=".2027" stop-color="#0a000c"/><stop offset=".2119" stop-color="#4f005a"/><stop offset=".2149" stop-color="#750086"/><stop offset=".2210" stop-color="#860097"/><stop offset=".2241" stop-color="#5f009e"/><stop offset=".2271" stop-color="#2200a6"/><stop offset=".2302" stop-color="#0000b3"/><stop offset=".2363" stop-color="#0001dd"/><stop offset=".2424" stop-color="#0056dd"/><stop offset=".2454" stop-color="#0076dd"/><stop offset=".2576" stop-color="#0097dd"/><stop offset=".2698" stop-color="#00a5b8"/><stop offset=".2820" stop-color="#00aaa5"/><stop offset=".3095" stop-color="#00aa99"/><stop offset=".3613" stop-color="#00aa8f"/><stop offset=".3765" stop-color="#00aa85"/><stop offset=".3918" stop-color="#00a665"/><stop offset=".4162" stop-color="#009d23"/><stop offset=".4345" stop-color="#009902"/><stop offset=".4802" stop-color="#00a900"/><stop offset=".5137" stop-color="#009a00"/><stop offset=".5259" stop-color="#009e28"/><stop offset=".5442" stop-color="#00a772"/><stop offset=".5473" stop-color="#00aa85"/><stop offset=".5716" stop-color="#00a7b2"/><stop offset=".5899" stop-color="#0098dd"/><stop offset=".6143" stop-color="#0075dd"/><stop offset=".6387" stop-color="#0006dd"/><stop offset=".6418" stop-color="#0000da"/><stop offset=".6479" stop-color="#0000d1"/><stop offset=".6997" stop-color="#0000ce"/><stop offset=".7088" stop-color="#0000ab"/><stop offset=".7119" stop-color="#1b00a7"/><stop offset=".7210" stop-color="#4300a2"/><stop offset=".7302" stop-color="#4400a2"/><stop offset=".7332" stop-color="#3600a3"/><stop offset=".7363" stop-color="#0099dd"/><stop offset=".7393" stop-color="#0018dd"/><stop offset=".7424" stop-color="#0000dd"/><stop offset=".7454" stop-color="#0092dd"/><stop offset=".7485" stop-color="#007edd"/><stop offset=".7515" stop-color="#0000dd"/><stop offset=".7546" stop-color="#0000dd"/><stop offset=".7576" stop-color="#0018dd"/><stop offset=".7607" stop-color="#0092dd"/><stop offset=".7637" stop-color="#0077dd"/><stop offset=".7668" stop-color="#0000dd"/><stop offset=".7698" stop-color="#0000dd"/><stop offset=".7729" stop-color="#0018dd"/><stop offset=".7759" stop-color="#0085dd"/><stop offset=".7790" stop-color="#0000dd"/><stop offset=".7820" stop-color="#0018dd"/><stop offset=".7851" stop-color="#008bdd"/><stop offset=".7881" stop-color="#007edd"/><stop offset=".7912" stop-color="#0000dd"/><stop offset=".7942" stop-color="#0000dd"/><stop offset=".7973" stop-color="#0018dd"/><stop offset=".8003" stop-color="#0085dd"/><stop offset=".8034" stop-color="#0092dd"/><stop offset=".8064" stop-color="#0030dd"/><stop offset=".8095" stop-color="#0000dd"/><stop offset=".8125" stop-color="#0000d3"/><stop offset=".8186" stop-color="#0000d3"/><stop offset=".8216" stop-color="#0000c9"/><stop offset=".8247" stop-color="#850096"/><stop offset=".8277" stop-color="#60006e"/><stop offset=".8338" stop-color="#5f006c"/><stop offset=".8369" stop-color="#52005d"/><stop offset=".8430" stop-color="#50005c"/><stop offset=".8460" stop-color="#5b0068"/><stop offset=".8491" stop-color="#4f005a"/><stop offset=".8643" stop-color="#4c0057"/><stop offset=".8704" stop-color="#460051"/><stop offset=".8735" stop-color="#4b0056"/><stop offset=".8857" stop-color="#4c0057"/><stop offset=".8887" stop-color="#34003b"/><stop offset=".8918" stop-color="#2a002f"/><stop offset=".8948" stop-color="#29002f"/><stop offset=".8979" stop-color="#3d0046"/><stop offset=".9070" stop-color="#380040"/><stop offset=".9101" stop-color="#320039"/><stop offset=".9162" stop-color="#310038"/><stop offset=".9192" stop-color="#37003f"/><stop offset=".9284" stop-color="#36003e"/><stop offset=".9314" stop-color="#36003d"/><stop offset=".9345" stop-color="#2b0031"/><stop offset=".9375" stop-color="#29002f"/><stop offset=".9405" stop-color="#220027"/><stop offset=".9436" stop-color="#210025"/><stop offset=".9466" stop-color="#19001c"/><stop offset=".9588" stop-color="#110013"/><stop offset=".9710" stop-color="#110013"/><stop offset=".9741" stop-color="#160019"/><stop offset=".9771" stop-color="#100012"/><stop offset=".9893" stop-color="#130016"/><stop offset=".9924" stop-color="#0f0011"/><stop offset=".9954" stop-color="#150018"/><stop offset=".9985" stop-color="#150018"/></linearGradient><linearGradient id="g17" gradientUnits="userSpaceOnUse" x1="328.75" x2="595.20"><stop offset=".0015" stop-color="#830094"/><stop offset=".0046" stop-color="#7e008f"/><stop offset=".0076" stop-color="#130015"/><stop offset=".0259" stop-color="#130015"/><stop offset=".0290" stop-color="#0a000c"/><stop offset=".0320" stop-color="#120014"/><stop offset=".0351" stop-color="#0a000c"/><stop offset=".0747" stop-color="#0a000c"/><stop offset=".0777" stop-color="#120014"/><stop offset=".0808" stop-color="#0a000c"/><stop offset=".0838" stop-color="#0a000c"/><stop offset=".0869" stop-color="#120014"/><stop offset=".0899" stop-color="#0a000c"/><stop offset=".0960" stop-color="#0a000c"/><stop offset=".0991" stop-color="#120014"/><stop offset=".1021" stop-color="#0a000c"/><stop offset=".1204" stop-color="#0a000c"/><stop offset=".1235" stop-color="#050005"/><stop offset=".1265" stop-color="#0a000c"/><stop offset=".1418" stop-color="#0a000c"/><stop offset=".1448" stop-color="#120014"/><stop offset=".1479" stop-color="#0a000c"/><stop offset=".1753" stop-color="#0a000c"/><stop offset=".1784" stop-color="#120014"/><stop offset=".1814" stop-color="#0a000c"/><stop offset=".2027" stop-color="#0b000c"/><stop offset=".2119" stop-color="#53005f"/><stop offset=".2149" stop-color="#79008a"/><stop offset=".2180" stop-color="#810092"/><stop offset=".2210" stop-color="#82009a"/><stop offset=".2241" stop-color="#3d00a2"/><stop offset=".2271" stop-color="#0000b0"/><stop offset=".2302" stop-color="#0000cc"/><stop offset=".2332" stop-color="#0018dd"/><stop offset=".2363" stop-color="#004edd"/><stop offset=".2393" stop-color="#0078dd"/><stop offset=".2485" stop-color="#0095dd"/><stop offset=".2515" stop-color="#009bd7"/><stop offset=".2607" stop-color="#00a6b5"/><stop offset=".2668" stop-color="#00aaa5"/><stop offset=".2851" stop-color="#00aa93"/><stop offset=".3308" stop-color="#00a983"/><stop offset=".3552" stop-color="#00a76f"/><stop offset=".3887" stop-color="#00a036"/><stop offset=".4101" stop-color="#009903"/><stop offset=".4192" stop-color="#009d00"/><stop offset=".4771" stop-color="#00b000"/><stop offset=".5137" stop-color="#009b00"/><stop offset=".5168" stop-color="#009a06"/><stop offset=".5320" stop-color="#00a248"/><stop offset=".5473" stop-color="#00aa8a"/><stop offset=".5686" stop-color="#00a8b0"/><stop offset=".5869" stop-color="#009adb"/><stop offset=".6113" stop-color="#0077dd"/><stop offset=".6387" stop-color="#0000dd"/><stop offset=".6448" stop-color="#0000d2"/><stop offset=".6997" stop-color="#0000ce"/><stop offset=".7088" stop-color="#0000ab"/><stop offset=".7119" stop-color="#1b00a7"/><stop offset=".7210" stop-color="#4400a2"/><stop offset=".7302" stop-color="#4400a2"/><stop offset=".7332" stop-color="#3600a3"/><stop offset=".7363" stop-color="#0099dd"/><stop offset=".7393" stop-color="#0018dd"/><stop offset=".7424" stop-color="#0000dd"/><stop offset=".7454" stop-color="#0092dd"/><stop offset=".7485" stop-color="#007edd"/><stop offset=".7515" stop-color="#0000dd"/><stop offset=".7546" stop-color="#0000dd"/><stop offset=".7576" stop-color="#0018dd"/><stop offset=".7607" stop-color="#0092dd"/><stop offset=".7637" stop-color="#0077dd"/><stop offset=".7668" stop-color="#0000dd"/><stop offset=".7698" stop-color="#0000dd"/><stop offset=".7729" stop-color="#0018dd"/><stop offset=".7759" stop-color="#0085dd"/><stop offset=".7790" stop-color="#0000dd"/><stop offset=".7820" stop-color="#0018dd"/><stop offset=".7851" stop-color="#008bdd"/><stop offset=".7881" stop-color="#007edd"/><stop offset=".7912" stop-color="#0000dd"/><stop offset=".7942" stop-color="#0000dd"/><stop offset=".7973" stop-color="#0018dd"/><stop offset=".8003" stop-color="#0085dd"/><stop offset=".8034" stop-color="#0092dd"/><stop offset=".8064" stop-color="#0030dd"/><stop offset=".8095" stop-color="#0000dd"/><stop offset=".8125" stop-color="#0000d3"/><stop offset=".8186" stop-color="#0000d3"/><stop offset=".8216" stop-color="#0000c9"/><stop offset=".8247" stop-color="#850096"/><stop offset=".8277" stop-color="#60006e"/><stop offset=".8338" stop-color="#5f006c"/><stop offset=".8369" stop-color="#52005d"/><stop offset=".8430" stop-color="#50005c"/><stop offset=".8460" stop-color="#5b0068"/><stop offset=".8491" stop-color="#4f005a"/><stop offset=".8643" stop-color="#4c0057"/><stop offset=".8704" stop-color="#460051"/><stop offset=".8735" stop-color="#4b0056"/><stop offset=".8857" stop-color="#4c0057"/><stop offset=".8887" stop-color="#34003b"/><stop offset=".8918" stop-color="#2a002f"/><stop offset=".8948" stop-color="#29002f"/><stop offset=".8979" stop-color="#3d0046"/><stop offset=".9070" stop-color="#380040"/><stop offset=".9101" stop-color="#320039"/><stop offset=".9162" stop-color="#310038"/><stop offset=".9192" stop-color="#37003f"/><stop offset=".9284" stop-color="#36003e"/><stop offset=".9314" stop-color="#36003d"/><stop offset=".9345" stop-color="#2b0031"/><stop offset=".9375" stop-color="#29002f"/><stop offset=".9405" stop-color="#220027"/><stop offset=".9436" stop-color="#210025"/><stop offset=".9466" stop-color="#19001c"/><stop offset=".9588" stop-color="#110013"/><stop offset=".9710" stop-color="#110013"/><stop offset=".9741" stop-color="#160019"/><stop offset=".9771" stop-color="#100012"/><stop offset=".9893" stop-color="#130016"/><stop offset=".9924" stop-color="#0f0011"/><stop offset=".9954" stop-color="#150018"/><stop offset=".9985" stop-color="#150018"/></linearGradient><linearGradient id="g18" gradientUnits="userSpaceOnUse" x1="328.75" x2="595.20"><stop offset=".0015" stop-color="#830094"/><stop offset=".0046" stop-color="#7e008f"/><stop offset=".0076" stop-color="#130015"/><stop offset=".0259" stop-color="#130015"/><stop offset=".0290" stop-color="#0a000c"/><stop offset=".0320" stop-color="#120014"/><stop offset=".0351" stop-color="#0a000c"/><stop offset=".0747" stop-color="#0a000c"/><stop offset=".0777" stop-color="#120014"/><stop offset=".0808" stop-color="#0a000c"/><stop offset=".0838" stop-color="#0a000c"/><stop offset=".0869" stop-color="#120014"/><stop offset=".0899" stop-color="#0a000c"/><stop offset=".0960" stop-color="#0a000c"/><stop offset=".0991" stop-color="#120014"/><stop offset=".1021" stop-color="#0a000c"/><stop offset=".1204" stop-color="#0a000c"/><stop offset=".1235" stop-color="#050005"/><stop offset=".1265" stop-color="#0a000c"/><stop offset=".1418" stop-color="#0a000c"/><stop offset=".1448" stop-color="#120014"/><stop offset=".1479" stop-color="#0a000c"/><stop offset=".1753" stop-color="#0a000c"/><stop offset=".1784" stop-color="#120014"/><stop offset=".1814" stop-color="#0a000c"/><stop offset=".2027" stop-color="#0a000c"/><stop offset=".2119" stop-color="#50005c"/><stop offset=".2149" stop-color="#780088"/><stop offset=".2210" stop-color="#870098"/><stop offset=".2241" stop-color="#5200a0"/><stop offset=".2271" stop-color="#0f00a8"/><stop offset=".2302" stop-color="#0000bd"/><stop offset=".2332" stop-color="#0000d4"/><stop offset=".2363" stop-color="#001ddd"/><stop offset=".2424" stop-color="#0072dd"/><stop offset=".2485" stop-color="#0087dd"/><stop offset=".2546" stop-color="#0098dd"/><stop offset=".2698" stop-color="#00a9ae"/><stop offset=".2851" stop-color="#00aa9d"/><stop offset=".3155" stop-color="#00aa93"/><stop offset=".3613" stop-color="#00aa89"/><stop offset=".3765" stop-color="#00a770"/><stop offset=".3918" stop-color="#00a351"/><stop offset=".4162" stop-color="#009b12"/><stop offset=".4284" stop-color="#009900"/><stop offset=".4802" stop-color="#00ab00"/><stop offset=".5168" stop-color="#009900"/><stop offset=".5320" stop-color="#00a038"/><stop offset=".5442" stop-color="#00a66b"/><stop offset=".5473" stop-color="#00a97e"/><stop offset=".5503" stop-color="#00aa8a"/><stop offset=".5716" stop-color="#00a8af"/><stop offset=".5899" stop-color="#009adb"/><stop offset=".6143" stop-color="#0078dd"/><stop offset=".6326" stop-color="#0027dd"/><stop offset=".6418" stop-color="#0000dc"/><stop offset=".6479" stop-color="#0000d1"/><stop offset=".6997" stop-color="#0000ce"/><stop offset=".7088" stop-color="#0000ab"/><stop offset=".7119" stop-color="#1b00a7"/><stop offset=".7180" stop-color="#3600a3"/><stop offset=".7210" stop-color="#4000a2"/><stop offset=".7271" stop-color="#4000a2"/><stop offset=".7302" stop-color="#4400a2"/><stop offset=".7332" stop-color="#3600a3"/><stop offset=".7363" stop-color="#0099dd"/><stop offset=".7393" stop-color="#0018dd"/><stop offset=".7424" stop-color="#0000dd"/><stop offset=".7454" stop-color="#0092dd"/><stop offset=".7485" stop-color="#007edd"/><stop offset=".7515" stop-color="#0000dd"/><stop offset=".7546" stop-color="#0000dd"/><stop offset=".7576" stop-color="#0018dd"/><stop offset=".7607" stop-color="#0092dd"/><stop offset=".7637" stop-color="#0077dd"/><stop offset=".7668" stop-color="#0000dd"/><stop offset=".7698" stop-color="#0000dd"/><stop offset=".7729" stop-color="#0018dd"/><stop offset=".7759" stop-color="#0085dd"/><stop offset=".7790" stop-color="#0000dd"/><stop offset=".7820" stop-color="#0018dd"/><stop offset=".7851" stop-color="#008bdd"/><stop offset=".7881" stop-color="#007edd"/><stop offset=".7912" stop-color="#0000dd"/><stop offset=".7942" stop-color="#0000dd"/><stop offset=".7973" stop-color="#0018dd"/><stop offset=".8003" stop-color="#0085dd"/><stop offset=".8034" stop-color="#0092dd"/><stop offset=".8064" stop-color="#0030dd"/><stop offset=".8095" stop-color="#0000dd"/><stop offset=".8125" stop-color="#0000d3"/><stop offset=".8186" stop-color="#0000d3"/><stop offset=".8216" stop-color="#0000c9"/><stop offset=".8247" stop-color="#850096"/><stop offset=".8277" stop-color="#60006e"/><stop offset=".8338" stop-color="#5f006c"/><stop offset=".8369" stop-color="#52005d"/><stop offset=".8430" stop-color="#50005c"/><stop offset=".8460" stop-color="#5b0068"/><stop offset=".8491" stop-color="#4f005a"/><stop offset=".8643" stop-color="#4c0057"/><stop offset=".8704" stop-color="#460051"/><stop offset=".8735" stop-color="#4b0056"/><stop offset=".8857" stop-color="#4c0057"/><stop offset=".8887" stop-color="#34003b"/><stop offset=".8918" stop-color="#2a002f"/><stop offset=".8948" stop-color="#29002f"/><stop offset=".8979" stop-color="#3d0046"/><stop offset=".9070" stop-color="#380040"/><stop offset=".9101" stop-color="#320039"/><stop offset=".9162" stop-color="#310038"/><stop offset=".9192" stop-color="#37003f"/><stop offset=".9284" stop-color="#36003e"/><stop offset=".9314" stop-color="#36003d"/><stop offset=".9345" stop-color="#2b0031"/><stop offset=".9375" stop-color="#29002f"/><stop offset=".9405" stop-color="#220027"/><stop offset=".9436" stop-color="#210025"/><stop offset=".9466" stop-color="#19001c"/><stop offset=".9588" stop-color="#110013"/><stop offset=".9710" stop-color="#110013"/><stop offset=".9741" stop-color="#160019"/><stop offset=".9771" stop-color="#100012"/><stop offset=".9893" stop-color="#130016"/><stop offset=".9924" stop-color="#0f0011"/><stop offset=".9954" stop-color="#150018"/><stop offset=".9985" stop-color="#150018"/></linearGradient><linearGradient id="g19" gradientUnits="userSpaceOnUse" x1="328.75" x2="595.20"><stop offset=".0015" stop-color="#830094"/><stop offset=".0046" stop-color="#7e008f"/><stop offset=".0076" stop-color="#130015"/><stop offset=".0259" stop-color="#130015"/><stop offset=".0290" stop-color="#0a000c"/><stop offset=".0320" stop-color="#120014"/><stop offset=".0351" stop-color="#0a000c"/><stop offset=".0747" stop-color="#0a000c"/><stop offset=".0777" stop-color="#120014"/><stop offset=".0808" stop-color="#0a000c"/><stop offset=".0838" stop-color="#0a000c"/><stop offset=".0869" stop-color="#120014"/><stop offset=".0899" stop-color="#0a000c"/><stop offset=".0960" stop-color="#0a000c"/><stop offset=".0991" stop-color="#120014"/><stop offset=".1021" stop-color="#0a000c"/><stop offset=".1204" stop-color="#0a000c"/><stop offset=".1235" stop-color="#050005"/><stop offset=".1265" stop-color="#0a000c"/><stop offset=".1418" stop-color="#0a000c"/><stop offset=".1448" stop-color="#120014"/><stop offset=".1479" stop-color="#0a000c"/><stop offset=".1753" stop-color="#0a000c"/><stop offset=".1784" stop-color="#120014"/><stop offset=".1814" stop-color="#0a000c"/><stop offset=".2027" stop-color="#0b000d"/><stop offset=".2119" stop-color="#590065"/><stop offset=".2149" stop-color="#7b008c"/><stop offset=".2180" stop-color="#840095"/><stop offset=".2210" stop-color="#63009e"/><stop offset=".2241" stop-color="#1200a8"/><stop offset=".2271" stop-color="#0000c8"/><stop offset=".2302" stop-color="#0022dd"/><stop offset=".2332" stop-color="#0071dd"/><stop offset=".2363" stop-color="#0087dd"/><stop offset=".2393" stop-color="#0093dd"/><stop offset=".2424" stop-color="#009bd6"/><stop offset=".2515" stop-color="#00a9ad"/><stop offset=".2607" stop-color="#00aa96"/><stop offset=".2729" stop-color="#00aa85"/><stop offset=".2790" stop-color="#00a772"/><stop offset=".2973" stop-color="#00a457"/><stop offset=".3643" stop-color="#009c18"/><stop offset=".3796" stop-color="#009900"/><stop offset=".4314" stop-color="#00ad00"/><stop offset=".4771" stop-color="#00b900"/><stop offset=".5168" stop-color="#009b00"/><stop offset=".5198" stop-color="#009a05"/><stop offset=".5381" stop-color="#00a55f"/><stop offset=".5473" stop-color="#00aa89"/><stop offset=".5686" stop-color="#00a9ae"/><stop offset=".5869" stop-color="#009ada"/><stop offset=".5991" stop-color="#0088dd"/><stop offset=".6113" stop-color="#0078dd"/><stop offset=".6235" stop-color="#0045dd"/><stop offset=".6387" stop-color="#0001dd"/><stop offset=".6448" stop-color="#0000d2"/><stop offset=".6997" stop-color="#0000ce"/><stop offset=".7088" stop-color="#0000ab"/><stop offset=".7119" stop-color="#1b00a7"/><stop offset=".7210" stop-color="#4400a2"/><stop offset=".7302" stop-color="#4400a2"/><stop offset=".7332" stop-color="#3600a3"/><stop offset=".7363" stop-color="#0099dd"/><stop offset=".7393" stop-color="#0018dd"/><stop offset=".7424" stop-color="#0000dd"/><stop offset=".7454" stop-color="#0092dd"/><stop offset=".7485" stop-color="#007edd"/><stop offset=".7515" stop-color="#0000dd"/><stop offset=".7546" stop-color="#0000dd"/><stop offset=".7576" stop-color="#0018dd"/><stop offset=".7607" stop-color="#0092dd"/><stop offset=".7637" stop-color="#0077dd"/><stop offset=".7668" stop-color="#0000dd"/><stop offset=".7698" stop-color="#0000dd"/><stop offset=".7729" stop-color="#0018dd"/><stop offset=".7759" stop-color="#0085dd"/><stop offset=".7790" stop-color="#0000dd"/><stop offset=".7820" stop-color="#0018dd"/><stop offset=".7851" stop-color="#008bdd"/><stop offset=".7881" stop-color="#007edd"/><stop offset=".7912" stop-color="#0000dd"/><stop offset=".7942" stop-color="#0000dd"/><stop offset=".7973" stop-color="#0018dd"/><stop offset=".8003" stop-color="#0085dd"/><stop offset=".8034" stop-color="#0092dd"/><stop offset=".8064" stop-color="#0030dd"/><stop offset=".8095" stop-color="#0000dd"/><stop offset=".8125" stop-color="#0000d3"/><stop offset=".8186" stop-color="#0000d3"/><stop offset=".8216" stop-color="#0000c9"/><stop offset=".8247" stop-color="#850096"/><stop offset=".8277" stop-color="#60006e"/><stop offset=".8338" stop-color="#5f006c"/><stop offset=".8369" stop-color="#52005d"/><stop offset=".8430" stop-color="#50005c"/><stop offset=".8460" stop-color="#5b0068"/><stop offset=".8491" stop-color="#4f005a"/><stop offset=".8643" stop-color="#4c0057"/><stop offset=".8704" stop-color="#460051"/><stop offset=".8735" stop-color="#4b0056"/><stop offset=".8857" stop-color="#4c0057"/><stop offset=".8887" stop-color="#34003b"/><stop offset=".8918" stop-color="#2a002f"/><stop offset=".8948" stop-color="#29002f"/><stop offset=".8979" stop-color="#3d0046"/><stop offset=".9070" stop-color="#380040"/><stop offset=".9101" stop-color="#320039"/><stop offset=".9162" stop-color="#310038"/><stop offset=".9192" stop-color="#37003f"/><stop offset=".9284" stop-color="#36003e"/><stop offset=".9314" stop-color="#36003d"/><stop offset=".9345" stop-color="#2b0031"/><stop offset=".9375" stop-color="#29002f"/><stop offset=".9405" stop-color="#220027"/><stop offset=".9436" stop-color="#210025"/><stop offset=".9466" stop-color="#19001c"/><stop offset=".9588" stop-color="#110013"/><stop offset=".9710" stop-color="#110013"/><stop offset=".9741" stop-color="#160019"/><stop offset=".9771" stop-color="#100012"/><stop offset=".9893" stop-color="#130016"/><stop offset=".9924" stop-color="#0f0011"/><stop offset=".9954" stop-color="#150018"/><stop offset=".9985" stop-color="#150018"/></linearGradient><linearGradient id="g20" gradientUnits="userSpaceOnUse" x1="328.75" x2="595.20"><stop offset=".0015" stop-color="#830094"/><stop offset=".0046" stop-color="#7e008f"/><stop offset=".0076" stop-color="#130015"/><stop offset=".0259" stop-color="#130015"/><stop offset=".0290" stop-color="#0a000c"/><stop offset=".0320" stop-color="#120014"/><stop offset=".0351" stop-color="#0a000c"/><stop offset=".0747" stop-color="#0a000c"/><stop offset=".0777" stop-color="#120014"/><stop offset=".0808" stop-color="#0a000c"/><stop offset=".0838" stop-color="#0a000c"/><stop offset=".0869" stop-color="#120014"/><stop offset=".0899" stop-color="#0a000c"/><stop offset=".0960" stop-color="#0a000c"/><stop offset=".0991" stop-color="#120014"/><stop offset=".1021" stop-color="#0a000c"/><stop offset=".1204" stop-color="#0a000c"/><stop offset=".1235" stop-color="#050005"/><stop offset=".1265" stop-color="#0a000c"/><stop offset=".1418" stop-color="#0a000c"/><stop offset=".1448" stop-color="#120014"/><stop offset=".1479" stop-color="#0a000c"/><stop offset=".1753" stop-color="#0a000c"/><stop offset=".1784" stop-color="#120014"/><stop offset=".1814" stop-color="#0a000c"/><stop offset=".2027" stop-color="#0b000c"/><stop offset=".2119" stop-color="#52005e"/><stop offset=".2149" stop-color="#780089"/><stop offset=".2210" stop-color="#870099"/><stop offset=".2271" stop-color="#0000ac"/><stop offset=".2302" stop-color="#0000c7"/><stop offset=".2332" stop-color="#0009dd"/><stop offset=".2363" stop-color="#003edd"/><stop offset=".2393" stop-color="#006add"/><stop offset=".2424" stop-color="#007fdd"/><stop offset=".2515" stop-color="#0099dd"/><stop offset=".2637" stop-color="#00a7b2"/><stop offset=".2698" stop-color="#00aaa5"/><stop offset=".2881" stop-color="#00aa95"/><stop offset=".3430" stop-color="#00aa86"/><stop offset=".3582" stop-color="#00a877"/><stop offset=".3918" stop-color="#00a03a"/><stop offset=".4162" stop-color="#009900"/><stop offset=".4771" stop-color="#00ae00"/><stop offset=".5137" stop-color="#009a00"/><stop offset=".5259" stop-color="#009f2f"/><stop offset=".5442" stop-color="#00a980"/><stop offset=".5473" stop-color="#00aa8b"/><stop offset=".5686" stop-color="#00a8b1"/><stop offset=".5869" stop-color="#0099dd"/><stop offset=".6113" stop-color="#0075dd"/><stop offset=".6357" stop-color="#000add"/><stop offset=".6387" stop-color="#0000db"/><stop offset=".6448" stop-color="#0000d2"/><stop offset=".6997" stop-color="#0000ce"/><stop offset=".7088" stop-color="#0000ab"/><stop offset=".7119" stop-color="#1b00a7"/><stop offset=".7210" stop-color="#4400a2"/><stop offset=".7302" stop-color="#4400a2"/><stop offset=".7332" stop-color="#3600a3"/><stop offset=".7363" stop-color="#0099dd"/><stop offset=".7393" stop-color="#0018dd"/><stop offset=".7424" stop-color="#0000dd"/><stop offset=".7454" stop-color="#0092dd"/><stop offset=".7485" stop-color="#007edd"/><stop offset=".7515" stop-color="#0000dd"/><stop offset=".7546" stop-color="#0000dd"/><stop offset=".7576" stop-color="#0018dd"/><stop offset=".7607" stop-color="#0092dd"/><stop offset=".7637" stop-color="#0077dd"/><stop offset=".7668" stop-color="#0000dd"/><stop offset=".7698" stop-color="#0000dd"/><stop offset=".7729" stop-color="#0018dd"/><stop offset=".7759" stop-color="#0085dd"/><stop offset=".7790" stop-color="#0000dd"/><stop offset=".7820" stop-color="#0018dd"/><stop offset=".7851" stop-color="#008bdd"/><stop offset=".7881" stop-color="#007edd"/><stop offset=".7912" stop-color="#0000dd"/><stop offset=".7942" stop-color="#0000dd"/><stop offset=".7973" stop-color="#0018dd"/><stop offset=".8003" stop-color="#0085dd"/><stop offset=".8034" stop-color="#0092dd"/><stop offset=".8064" stop-color="#0030dd"/><stop offset=".8095" stop-color="#0000dd"/><stop offset=".8125" stop-color="#0000d3"/><stop offset=".8186" stop-color="#0000d3"/><stop offset=".8216" stop-color="#0000c9"/><stop offset=".8247" stop-color="#850096"/><stop offset=".8277" stop-color="#60006e"/><stop offset=".8338" stop-color="#5f006c"/><stop offset=".8369" stop-color="#52005d"/><stop offset=".8430" stop-color="#50005c"/><stop offset=".8460" stop-color="#5b0068"/><stop offset=".8491" stop-color="#4f005a"/><stop offset=".8643" stop-color="#4c0057"/><stop offset=".8704" stop-color="#460051"/><stop offset=".8735" stop-color="#4b0056"/><stop offset=".8857" stop-color="#4c0057"/><stop offset=".8887" stop-color="#34003b"/><stop offset=".8918" stop-color="#2a002f"/><stop offset=".8948" stop-color="#29002f"/><stop offset=".8979" stop-color="#3d0046"/><stop offset=".9070" stop-color="#380040"/><stop offset=".9101" stop-color="#320039"/><stop offset=".9162" stop-color="#310038"/><stop offset=".9192" stop-color="#37003f"/><stop offset=".9284" stop-color="#36003e"/><stop offset=".9314" stop-color="#36003d"/><stop offset=".9345" stop-color="#2b0031"/><stop offset=".9375" stop-color="#29002f"/><stop offset=".9405" stop-color="#220027"/><stop offset=".9436" stop-color="#210025"/><stop offset=".9466" stop-color="#19001c"/><stop offset=".9588" stop-color="#110013"/><stop offset=".9710" stop-color="#110013"/><stop offset=".9741" stop-color="#160019"/><stop offset=".9771" stop-color="#100012"/><stop offset=".9893" stop-color="#130016"/><stop offset=".9924" stop-color="#0f0011"/><stop offset=".9954" stop-color="#150018"/><stop offset=".9985" stop-color="#150018"/></linearGradient><linearGradient id="g21" gradientUnits="userSpaceOnUse" x1="328.75" x2="595.20"><stop offset=".0015" stop-color="#830094"/><stop offset=".0046" stop-color="#7e008f"/><stop offset=".0076" stop-color="#130015"/><stop offset=".0259" stop-color="#130015"/><stop offset=".0290" stop-color="#0a000c"/><stop offset=".0320" stop-color="#120014"/><stop offset=".0351" stop-color="#0a000c"/><stop offset=".0747" stop-color="#0a000c"/><stop offset=".0777" stop-color="#120014"/><stop offset=".0808" stop-color="#0a000c"/><stop offset=".0838" stop-color="#0a000c"/><stop offset=".0869" stop-color="#120014"/><stop offset=".0899" stop-color="#0a000c"/><stop offset=".0960" stop-color="#0a000c"/><stop offset=".0991" stop-color="#120014"/><stop offset=".1021" stop-color="#0a000c"/><stop offset=".1204" stop-color="#0a000c"/><stop offset=".1235" stop-color="#050005"/><stop offset=".1265" stop-color="#0a000c"/><stop offset=".1418" stop-color="#0a000c"/><stop offset=".1448" stop-color="#120014"/><stop offset=".1479" stop-color="#0a000c"/><stop offset=".1753" stop-color="#0a000c"/><stop offset=".1784" stop-color="#120014"/><stop offset=".1814" stop-color="#0a000c"/><stop offset=".2027" stop-color="#0b000c"/><stop offset=".2119" stop-color="#53005f"/><stop offset=".2149" stop-color="#79008a"/><stop offset=".2180" stop-color="#810092"/><stop offset=".2210" stop-color="#82009a"/><stop offset=".2241" stop-color="#3d00a2"/><stop offset=".2271" stop-color="#0000b0"/><stop offset=".2302" stop-color="#0000cc"/><stop offset=".2332" stop-color="#0018dd"/><stop offset=".2363" stop-color="#004edd"/><stop offset=".2393" stop-color="#0078dd"/><stop offset=".2485" stop-color="#0095dd"/><stop offset=".2515" stop-color="#009bd7"/><stop offset=".2607" stop-color="#00a6b5"/><stop offset=".2668" stop-color="#00aaa5"/><stop offset=".2851" stop-color="#00aa93"/><stop offset=".3308" stop-color="#00a983"/><stop offset=".3552" stop-color="#00a76f"/><stop offset=".3887" stop-color="#00a036"/><stop offset=".4101" stop-color="#009903"/><stop offset=".4192" stop-color="#009d00"/><stop offset=".4771" stop-color="#00b100"/><stop offset=".5198" stop-color="#009900"/><stop offset=".5381" stop-color="#00a24a"/><stop offset=".5442" stop-color="#00a564"/><stop offset=".5503" stop-color="#00aa88"/><stop offset=".5747" stop-color="#00a7b4"/><stop offset=".5930" stop-color="#0098dd"/><stop offset=".6174" stop-color="#0074dd"/><stop offset=".6418" stop-color="#0002dd"/><stop offset=".6479" stop-color="#0000d2"/><stop offset=".6997" stop-color="#0000ce"/><stop offset=".7088" stop-color="#0000ab"/><stop offset=".7119" stop-color="#1b00a7"/><stop offset=".7180" stop-color="#3600a3"/><stop offset=".7210" stop-color="#3e00a2"/><stop offset=".7271" stop-color="#3e00a2"/><stop offset=".7302" stop-color="#4400a2"/><stop offset=".7332" stop-color="#3600a3"/><stop offset=".7363" stop-color="#0099dd"/><stop offset=".7393" stop-color="#0018dd"/><stop offset=".7424" stop-color="#0000dd"/><stop offset=".7454" stop-color="#0092dd"/><stop offset=".7485" stop-color="#007edd"/><stop offset=".7515" stop-color="#0000dd"/><stop offset=".7546" stop-color="#0000dd"/><stop offset=".7576" stop-color="#0018dd"/><stop offset=".7607" stop-color="#0092dd"/><stop offset=".7637" stop-color="#0077dd"/><stop offset=".7668" stop-color="#0000dd"/><stop offset=".7698" stop-color="#0000dd"/><stop offset=".7729" stop-color="#0018dd"/><stop offset=".7759" stop-color="#0085dd"/><stop offset=".7790" stop-color="#0000dd"/><stop offset=".7820" stop-color="#0018dd"/><stop offset=".7851" stop-color="#008bdd"/><stop offset=".7881" stop-color="#007edd"/><stop offset=".7912" stop-color="#0000dd"/><stop offset=".7942" stop-color="#0000dd"/><stop offset=".7973" stop-color="#0018dd"/><stop offset=".8003" stop-color="#0085dd"/><stop offset=".8034" stop-color="#0092dd"/><stop offset=".8064" stop-color="#0030dd"/><stop offset=".8095" stop-color="#0000dd"/><stop offset=".8125" stop-color="#0000d3"/><stop offset=".8186" stop-color="#0000d3"/><stop offset=".8216" stop-color="#0000c9"/><stop offset=".8247" stop-color="#850096"/><stop offset=".8277" stop-color="#60006e"/><stop offset=".8338" stop-color="#5f006c"/><stop offset=".8369" stop-color="#52005d"/><stop offset=".8430" stop-color="#50005c"/><stop offset=".8460" stop-color="#5b0068"/><stop offset=".8491" stop-color="#4f005a"/><stop offset=".8643" stop-color="#4c0057"/><stop offset=".8704" stop-color="#460051"/><stop offset=".8735" stop-color="#4b0056"/><stop offset=".8857" stop-color="#4c0057"/><stop offset=".8887" stop-color="#34003b"/><stop offset=".8918" stop-color="#2a002f"/><stop offset=".8948" stop-color="#29002f"/><stop offset=".8979" stop-color="#3d0046"/><stop offset=".9070" stop-color="#380040"/><stop offset=".9101" stop-color="#320039"/><stop offset=".9162" stop-color="#310038"/><stop offset=".9192" stop-color="#37003f"/><stop offset=".9284" stop-color="#36003e"/><stop offset=".9314" stop-color="#36003d"/><stop offset=".9345" stop-color="#2b0031"/><stop offset=".9375" stop-color="#29002f"/><stop offset=".9405" stop-color="#220027"/><stop offset=".9436" stop-color="#210025"/><stop offset=".9466" stop-color="#19001c"/><stop offset=".9588" stop-color="#110013"/><stop offset=".9710" stop-color="#110013"/><stop offset=".9741" stop-color="#160019"/><stop offset=".9771" stop-color="#100012"/><stop offset=".9893" stop-color="#130016"/><stop offset=".9924" stop-color="#0f0011"/><stop offset=".9954" stop-color="#150018"/><stop offset=".9985" stop-color="#150018"/></linearGradient><linearGradient id="g22" gradientUnits="userSpaceOnUse" x1="328.75" x2="595.20"><stop offset=".0015" stop-color="#830094"/><stop offset=".0046" stop-color="#7e008f"/><stop offset=".0076" stop-color="#130015"/><stop offset=".0259" stop-color="#130015"/><stop offset=".0290" stop-color="#0a000c"/><stop offset=".0320" stop-color="#120014"/><stop offset=".0351" stop-color="#0a000c"/><stop offset=".0747" stop-color="#0a000c"/><stop offset=".0777" stop-color="#120014"/><stop offset=".0808" stop-color="#0a000c"/><stop offset=".0838" stop-color="#0a000c"/><stop offset=".0869" stop-color="#120014"/><stop offset=".0899" stop-color="#0a000c"/><stop offset=".0960" stop-color="#0a000c"/><stop offset=".0991" stop-color="#120014"/><stop offset=".1021" stop-color="#0a000c"/><stop offset=".1204" stop-color="#0a000c"/><stop offset=".1235" stop-color="#050005"/><stop offset=".1265" stop-color="#0a000c"/><stop offset=".1418" stop-color="#0a000c"/><stop offset=".1448" stop-color="#120014"/><stop offset=".1479" stop-color="#0a000c"/><stop offset=".1753" stop-color="#0a000c"/><stop offset=".1784" stop-color="#120014"/><stop offset=".1814" stop-color="#0a000c"/><stop offset=".2027" stop-color="#0b000c"/><stop offset=".2119" stop-color="#53005e"/><stop offset=".2149" stop-color="#780089"/><stop offset=".2210" stop-color="#860099"/><stop offset=".2271" stop-color="#0000ae"/><stop offset=".2302" stop-color="#0000c9"/><stop offset=".2332" stop-color="#000fdd"/><stop offset=".2363" stop-color="#0044dd"/><stop offset=".2393" stop-color="#0070dd"/><stop offset=".2424" stop-color="#0080dd"/><stop offset=".2515" stop-color="#009adb"/><stop offset=".2637" stop-color="#00a8af"/><stop offset=".2729" stop-color="#00aaa0"/><stop offset=".2942" stop-color="#00aa91"/><stop offset=".3369" stop-color="#00aa86"/><stop offset=".3552" stop-color="#00a877"/><stop offset=".3796" stop-color="#00a34e"/><stop offset=".3826" stop-color="#00a700"/><stop offset=".3857" stop-color="#00a143"/><stop offset=".4131" stop-color="#009902"/><stop offset=".4771" stop-color="#00af00"/><stop offset=".5168" stop-color="#009902"/><stop offset=".5320" stop-color="#00a141"/><stop offset=".5442" stop-color="#00a875"/><stop offset=".5473" stop-color="#00aa88"/><stop offset=".5716" stop-color="#00a7b4"/><stop offset=".5899" stop-color="#0097dd"/><stop offset=".6113" stop-color="#0079dd"/><stop offset=".6143" stop-color="#0071dd"/><stop offset=".6387" stop-color="#0004dd"/><stop offset=".6448" stop-color="#0000d3"/><stop offset=".6997" stop-color="#0000ce"/><stop offset=".7088" stop-color="#0000ab"/><stop offset=".7119" stop-color="#1b00a7"/><stop offset=".7210" stop-color="#4400a2"/><stop offset=".7302" stop-color="#4400a2"/><stop offset=".7332" stop-color="#3600a3"/><stop offset=".7363" stop-color="#0099dd"/><stop offset=".7393" stop-color="#0018dd"/><stop offset=".7424" stop-color="#0000dd"/><stop offset=".7454" stop-color="#0092dd"/><stop offset=".7485" stop-color="#007edd"/><stop offset=".7515" stop-color="#0000dd"/><stop offset=".7546" stop-color="#0000dd"/><stop offset=".7576" stop-color="#0018dd"/><stop offset=".7607" stop-color="#0092dd"/><stop offset=".7637" stop-color="#0077dd"/><stop offset=".7668" stop-color="#0000dd"/><stop offset=".7698" stop-color="#0000dd"/><stop offset=".7729" stop-color="#0018dd"/><stop offset=".7759" stop-color="#0085dd"/><stop offset=".7790" stop-color="#0000dd"/><stop offset=".7820" stop-color="#0018dd"/><stop offset=".7851" stop-color="#008bdd"/><stop offset=".7881" stop-color="#007edd"/><stop offset=".7912" stop-color="#0000dd"/><stop offset=".7942" stop-color="#0000dd"/><stop offset=".7973" stop-color="#0018dd"/><stop offset=".8003" stop-color="#0085dd"/><stop offset=".8034" stop-color="#0092dd"/><stop offset=".8064" stop-color="#0030dd"/><stop offset=".8095" stop-color="#0000dd"/><stop offset=".8125" stop-color="#0000d3"/><stop offset=".8186" stop-color="#0000d3"/><stop offset=".8216" stop-color="#0000c9"/><stop offset=".8247" stop-color="#850096"/><stop offset=".8277" stop-color="#60006e"/><stop offset=".8338" stop-color="#5f006c"/><stop offset=".8369" stop-color="#52005d"/><stop offset=".8430" stop-color="#50005c"/><stop offset=".8460" stop-color="#5b0068"/><stop offset=".8491" stop-color="#4f005a"/><stop offset=".8643" stop-color="#4c0057"/><stop offset=".8704" stop-color="#460051"/><stop offset=".8735" stop-color="#4b0056"/><stop offset=".8857" stop-color="#4c0057"/><stop offset=".8887" stop-color="#34003b"/><stop offset=".8918" stop-color="#2a002f"/><stop offset=".8948" stop-color="#29002f"/><stop offset=".8979" stop-color="#3d0046"/><stop offset=".9070" stop-color="#380040"/><stop offset=".9101" stop-color="#320039"/><stop offset=".9162" stop-color="#310038"/><stop offset=".9192" stop-color="#37003f"/><stop offset=".9284" stop-color="#36003e"/><stop offset=".9314" stop-color="#36003d"/><stop offset=".9345" stop-color="#2b0031"/><stop offset=".9375" stop-color="#29002f"/><stop offset=".9405" stop-color="#220027"/><stop offset=".9436" stop-color="#210025"/><stop offset=".9466" stop-color="#19001c"/><stop offset=".9588" stop-color="#110013"/><stop offset=".9710" stop-color="#110013"/><stop offset=".9741" stop-color="#160019"/><stop offset=".9771" stop-color="#100012"/><stop offset=".9893" stop-color="#130016"/><stop offset=".9924" stop-color="#0f0011"/><stop offset=".9954" stop-color="#150018"/><stop offset=".9985" stop-color="#150018"/></linearGradient><linearGradient id="g23" gradientUnits="userSpaceOnUse" x1="328.75" x2="595.20"><stop offset=".0015" stop-color="#830094"/><stop offset=".0046" stop-color="#7e008f"/><stop offset=".0076" stop-color="#130015"/><stop offset=".0259" stop-color="#130015"/><stop offset=".0290" stop-color="#0a000c"/><stop offset=".0320" stop-color="#120014"/><stop offset=".0351" stop-color="#0a000c"/><stop offset=".0747" stop-color="#0a000c"/><stop offset=".0777" stop-color="#120014"/><stop offset=".0808" stop-color="#0a000c"/><stop offset=".0838" stop-color="#0a000c"/><stop offset=".0869" stop-color="#120014"/><stop offset=".0899" stop-color="#0a000c"/><stop offset=".0960" stop-color="#0a000c"/><stop offset=".0991" stop-color="#120014"/><stop offset=".1021" stop-color="#0a000c"/><stop offset=".1204" stop-color="#0a000c"/><stop offset=".1235" stop-color="#050005"/><stop offset=".1265" stop-color="#0a000c"/><stop offset=".1418" stop-color="#0a000c"/><stop offset=".1448" stop-color="#120014"/><stop offset=".1479" stop-color="#0a000c"/><stop offset=".1753" stop-color="#0a000c"/><stop offset=".1784" stop-color="#120014"/><stop offset=".1814" stop-color="#0a000c"/><stop offset=".2027" stop-color="#0b000c"/><stop offset=".2119" stop-color="#570063"/><stop offset=".2149" stop-color="#7a008b"/><stop offset=".2180" stop-color="#830094"/><stop offset=".2210" stop-color="#70009c"/><stop offset=".2241" stop-color="#2300a6"/><stop offset=".2271" stop-color="#0000be"/><stop offset=".2302" stop-color="#0005dd"/><stop offset=".2332" stop-color="#004ddd"/><stop offset=".2363" stop-color="#007cdd"/><stop offset=".2424" stop-color="#0093dd"/><stop offset=".2454" stop-color="#009bd8"/><stop offset=".2576" stop-color="#00aaa7"/><stop offset=".2698" stop-color="#00aa93"/><stop offset=".2881" stop-color="#00a982"/><stop offset=".3003" stop-color="#00a771"/><stop offset=".3613" stop-color="#00a039"/><stop offset=".3704" stop-color="#009f2c"/><stop offset=".3735" stop-color="#00ad00"/><stop offset=".3765" stop-color="#009900"/><stop offset=".3796" stop-color="#009d1c"/><stop offset=".3948" stop-color="#009901"/><stop offset=".4375" stop-color="#00aa00"/><stop offset=".4771" stop-color="#00b500"/><stop offset=".5168" stop-color="#009900"/><stop offset=".5259" stop-color="#009e27"/><stop offset=".5381" stop-color="#00a563"/><stop offset=".5473" stop-color="#00aa8a"/><stop offset=".5686" stop-color="#00a8b0"/><stop offset=".5869" stop-color="#009adb"/><stop offset=".6113" stop-color="#0077dd"/><stop offset=".6387" stop-color="#0000dd"/><stop offset=".6448" stop-color="#0000d2"/><stop offset=".6997" stop-color="#0000ce"/><stop offset=".7088" stop-color="#0000ab"/><stop offset=".7119" stop-color="#1b00a7"/><stop offset=".7210" stop-color="#4400a2"/><stop offset=".7302" stop-color="#4400a2"/><stop offset=".7332" stop-color="#3600a3"/><stop offset=".7363" stop-color="#0099dd"/><stop offset=".7393" stop-color="#0018dd"/><stop offset=".7424" stop-color="#0000dd"/><stop offset=".7454" stop-color="#0092dd"/><stop offset=".7485" stop-color="#007edd"/><stop offset=".7515" stop-color="#0000dd"/><stop offset=".7546" stop-color="#0000dd"/><stop offset=".7576" stop-color="#0018dd"/><stop offset=".7607" stop-color="#0092dd"/><stop offset=".7637" stop-color="#0077dd"/><stop offset=".7668" stop-color="#0000dd"/><stop offset=".7698" stop-color="#0000dd"/><stop offset=".7729" stop-color="#0018dd"/><stop offset=".7759" stop-color="#0085dd"/><stop offset=".7790" stop-color="#0000dd"/><stop offset=".7820" stop-color="#0018dd"/><stop offset=".7851" stop-color="#008bdd"/><stop offset=".7881" stop-color="#007edd"/><stop offset=".7912" stop-color="#0000dd"/><stop offset=".7942" stop-color="#0000dd"/><stop offset=".7973" stop-color="#0018dd"/><stop offset=".8003" stop-color="#0085dd"/><stop offset=".8034" stop-color="#0092dd"/><stop offset=".8064" stop-color="#0030dd"/><stop offset=".8095" stop-color="#0000dd"/><stop offset=".8125" stop-color="#0000d3"/><stop offset=".8186" stop-color="#0000d3"/><stop offset=".8216" stop-color="#0000c9"/><stop offset=".8247" stop-color="#850096"/><stop offset=".8277" stop-color="#60006e"/><stop offset=".8338" stop-color="#5f006c"/><stop offset=".8369" stop-color="#52005d"/><stop offset=".8430" stop-color="#50005c"/><stop offset=".8460" stop-color="#5b0068"/><stop offset=".8491" stop-color="#4f005a"/><stop offset=".8643" stop-color="#4c0057"/><stop offset=".8704" stop-color="#460051"/><stop offset=".8735" stop-color="#4b0056"/><stop offset=".8857" stop-color="#4c0057"/><stop offset=".8887" stop-color="#34003b"/><stop offset=".8918" stop-color="#2a002f"/><stop offset=".8948" stop-color="#29002f"/><stop offset=".8979" stop-color="#3d0046"/><stop offset=".9070" stop-color="#380040"/><stop offset=".9101" stop-color="#320039"/><stop offset=".9162" stop-color="#310038"/><stop offset=".9192" stop-color="#37003f"/><stop offset=".9284" stop-color="#36003e"/><stop offset=".9314" stop-color="#36003d"/><stop offset=".9345" stop-color="#2b0031"/><stop offset=".9375" stop-color="#29002f"/><stop offset=".9405" stop-color="#220027"/><stop offset=".9436" stop-color="#210025"/><stop offset=".9466" stop-color="#19001c"/><stop offset=".9588" stop-color="#110013"/><stop offset=".9710" stop-color="#110013"/><stop offset=".9741" stop-color="#160019"/><stop offset=".9771" stop-color="#100012"/><stop offset=".9893" stop-color="#130016"/><stop offset=".9924" stop-color="#0f0011"/><stop offset=".9954" stop-color="#150018"/><stop offset=".9985" stop-color="#150018"/></linearGradient><linearGradient id="g24" gradientUnits="userSpaceOnUse" x1="328.75" x2="595.20"><stop offset=".0015" stop-color="#830094"/><stop offset=".0046" stop-color="#7e008f"/><stop offset=".0076" stop-color="#130015"/><stop offset=".0259" stop-color="#130015"/><stop offset=".0290" stop-color="#0a000c"/><stop offset=".0320" stop-color="#120014"/><stop offset=".0351" stop-color="#0a000c"/><stop offset=".0747" stop-color="#0a000c"/><stop offset=".0777" stop-color="#120014"/><stop offset=".0808" stop-color="#0a000c"/><stop offset=".0838" stop-color="#0a000c"/><stop offset=".0869" stop-color="#120014"/><stop offset=".0899" stop-color="#0a000c"/><stop offset=".0960" stop-color="#0a000c"/><stop offset=".0991" stop-color="#120014"/><stop offset=".1021" stop-color="#0a000c"/><stop offset=".1204" stop-color="#0a000c"/><stop offset=".1235" stop-color="#050005"/><stop offset=".1265" stop-color="#0a000c"/><stop offset=".1418" stop-color="#0a000c"/><stop offset=".1448" stop-color="#120014"/><stop offset=".1479" stop-color="#0a000c"/><stop offset=".1753" stop-color="#0a000c"/><stop offset=".1784" stop-color="#120014"/><stop offset=".1814" stop-color="#0a000c"/><stop offset=".2027" stop-color="#0b000c"/><stop offset=".2119" stop-color="#52005e"/><stop offset=".2149" stop-color="#780089"/><stop offset=".2210" stop-color="#880099"/><stop offset=".2271" stop-color="#0000ab"/><stop offset=".2302" stop-color="#0000c6"/><stop offset=".2332" stop-color="#0006dd"/><stop offset=".2363" stop-color="#003add"/><stop offset=".2393" stop-color="#0066dd"/><stop offset=".2424" stop-color="#007edd"/><stop offset=".2515" stop-color="#0098dd"/><stop offset=".2668" stop-color="#00aaaa"/><stop offset=".2851" stop-color="#00aa97"/><stop offset=".3247" stop-color="#00aa8b"/><stop offset=".3491" stop-color="#00aa85"/><stop offset=".3643" stop-color="#00a770"/><stop offset=".3918" stop-color="#00a13d"/><stop offset=".4162" stop-color="#009901"/><stop offset=".4771" stop-color="#00af00"/><stop offset=".5168" stop-color="#009900"/><stop offset=".5290" stop-color="#009f2e"/><stop offset=".5442" stop-color="#00a76e"/><stop offset=".5473" stop-color="#00a981"/><stop offset=".5503" stop-color="#00aa8b"/><stop offset=".5716" stop-color="#00a8b1"/><stop offset=".5899" stop-color="#0099dd"/><stop offset=".6143" stop-color="#0077dd"/><stop offset=".6387" stop-color="#0009dd"/><stop offset=".6418" stop-color="#0000db"/><stop offset=".6479" stop-color="#0000d1"/><stop offset=".6997" stop-color="#0000ce"/><stop offset=".7088" stop-color="#0000ab"/><stop offset=".7119" stop-color="#1b00a7"/><stop offset=".7210" stop-color="#4100a2"/><stop offset=".7302" stop-color="#4400a2"/><stop offset=".7332" stop-color="#3600a3"/><stop offset=".7363" stop-color="#0099dd"/><stop offset=".7393" stop-color="#0018dd"/><stop offset=".7424" stop-color="#0000dd"/><stop offset=".7454" stop-color="#0092dd"/><stop offset=".7485" stop-color="#007edd"/><stop offset=".7515" stop-color="#0000dd"/><stop offset=".7546" stop-color="#0000dd"/><stop offset=".7576" stop-color="#0018dd"/><stop offset=".7607" stop-color="#0092dd"/><stop offset=".7637" stop-color="#0077dd"/><stop offset=".7668" stop-color="#0000dd"/><stop offset=".7698" stop-color="#0000dd"/><stop offset=".7729" stop-color="#0018dd"/><stop offset=".7759" stop-color="#0085dd"/><stop offset=".7790" stop-color="#0000dd"/><stop offset=".7820" stop-color="#0018dd"/><stop offset=".7851" stop-color="#008bdd"/><stop offset=".7881" stop-color="#007edd"/><stop offset=".7912" stop-color="#0000dd"/><stop offset=".7942" stop-color="#0000dd"/><stop offset=".7973" stop-color="#0018dd"/><stop offset=".8003" stop-color="#0085dd"/><stop offset=".8034" stop-color="#0092dd"/><stop offset=".8064" stop-color="#0030dd"/><stop offset=".8095" stop-color="#0000dd"/><stop offset=".8125" stop-color="#0000d3"/><stop offset=".8186" stop-color="#0000d3"/><stop offset=".8216" stop-color="#0000c9"/><stop offset=".8247" stop-color="#850096"/><stop offset=".8277" stop-color="#60006e"/><stop offset=".8338" stop-color="#5f006c"/><stop offset=".8369" stop-color="#52005d"/><stop offset=".8430" stop-color="#50005c"/><stop offset=".8460" stop-color="#5b0068"/><stop offset=".8491" stop-color="#4f005a"/><stop offset=".8643" stop-color="#4c0057"/><stop offset=".8704" stop-color="#460051"/><stop offset=".8735" stop-color="#4b0056"/><stop offset=".8857" stop-color="#4c0057"/><stop offset=".8887" stop-color="#34003b"/><stop offset=".8918" stop-color="#2a002f"/><stop offset=".8948" stop-color="#29002f"/><stop offset=".8979" stop-color="#3d0046"/><stop offset=".9070" stop-color="#380040"/><stop offset=".9101" stop-color="#320039"/><stop offset=".9162" stop-color="#310038"/><stop offset=".9192" stop-color="#37003f"/><stop offset=".9284" stop-color="#36003e"/><stop offset=".9314" stop-color="#36003d"/><stop offset=".9345" stop-color="#2b0031"/><stop offset=".9375" stop-color="#29002f"/><stop offset=".9405" stop-color="#220027"/><stop offset=".9436" stop-color="#210025"/><stop offset=".9466" stop-color="#19001c"/><stop offset=".9588" stop-color="#110013"/><stop offset=".9710" stop-color="#110013"/><stop offset=".9741" stop-color="#160019"/><stop offset=".9771" stop-color="#100012"/><stop offset=".9893" stop-color="#130016"/><stop offset=".9924" stop-color="#0f0011"/><stop offset=".9954" stop-color="#150018"/><stop offset=".9985" stop-color="#150018"/></linearGradient><linearGradient id="g25" gradientUnits="userSpaceOnUse" x1="328.75" x2="595.20"><stop offset=".0015" stop-color="#830094"/><stop offset=".0046" stop-color="#7e008f"/><stop offset=".0076" stop-color="#130015"/><stop offset=".0259" stop-color="#130015"/><stop offset=".0290" stop-color="#0a000c"/><stop offset=".0320" stop-color="#120014"/><stop offset=".0351" stop-color="#0a000c"/><stop offset=".0747" stop-color="#0a000c"/><stop offset=".0777" stop-color="#120014"/><stop offset=".0808" stop-color="#0a000c"/><stop offset=".0838" stop-color="#0a000c"/><stop offset=".0869" stop-color="#120014"/><stop offset=".0899" stop-color="#0a000c"/><stop offset=".0960" stop-color="#0a000c"/><stop offset=".0991" stop-color="#120014"/><stop offset=".1021" stop-color="#0a000c"/><stop offset=".1204" stop-color="#0a000c"/><stop offset=".1235" stop-color="#050005"/><stop offset=".1265" stop-color="#0a000c"/><stop offset=".1418" stop-color="#0a000c"/><stop offset=".1448" stop-color="#120014"/><stop offset=".1479" stop-color="#0a000c"/><stop offset=".1753" stop-color="#0a000c"/><stop offset=".1784" stop-color="#120014"/><stop offset=".1814" stop-color="#0a000c"/><stop offset=".2027" stop-color="#0b000c"/><stop offset=".2119" stop-color="#53005f"/><stop offset=".2149" stop-color="#79008a"/><stop offset=".2180" stop-color="#810092"/><stop offset=".2210" stop-color="#82009a"/><stop offset=".2241" stop-color="#3d00a2"/><stop offset=".2271" stop-color="#0000b0"/><stop offset=".2302" stop-color="#0000cc"/><stop offset=".2332" stop-color="#0018dd"/><stop offset=".2363" stop-color="#004edd"/><stop offset=".2393" stop-color="#0078dd"/><stop offset=".2485" stop-color="#0095dd"/><stop offset=".2515" stop-color="#009bd7"/><stop offset=".2607" stop-color="#00a6b5"/><stop offset=".2668" stop-color="#00aaa5"/><stop offset=".2851" stop-color="#00aa93"/><stop offset=".3308" stop-color="#00a983"/><stop offset=".3552" stop-color="#00a76f"/><stop offset=".3887" stop-color="#00a036"/><stop offset=".4009" stop-color="#009c19"/><stop offset=".4040" stop-color="#00bb00"/><stop offset=".4070" stop-color="#009900"/><stop offset=".4101" stop-color="#009903"/><stop offset=".4192" stop-color="#009d00"/><stop offset=".4771" stop-color="#00b000"/><stop offset=".5137" stop-color="#009a00"/><stop offset=".5259" stop-color="#009f31"/><stop offset=".5412" stop-color="#00a877"/><stop offset=".5473" stop-color="#00aa8c"/><stop offset=".5686" stop-color="#00a7b3"/><stop offset=".5869" stop-color="#0098dd"/><stop offset=".6082" stop-color="#0079dd"/><stop offset=".6113" stop-color="#0071dd"/><stop offset=".6357" stop-color="#0007dd"/><stop offset=".6387" stop-color="#0000da"/><stop offset=".6448" stop-color="#0000d2"/><stop offset=".6997" stop-color="#0000ce"/><stop offset=".7088" stop-color="#0000ab"/><stop offset=".7119" stop-color="#1b00a7"/><stop offset=".7210" stop-color="#4400a2"/><stop offset=".7302" stop-color="#4400a2"/><stop offset=".7332" stop-color="#3600a3"/><stop offset=".7363" stop-color="#0099dd"/><stop offset=".7393" stop-color="#0018dd"/><stop offset=".7424" stop-color="#0000dd"/><stop offset=".7454" stop-color="#0092dd"/><stop offset=".7485" stop-color="#007edd"/><stop offset=".7515" stop-color="#0000dd"/><stop offset=".7546" stop-color="#0000dd"/><stop offset=".7576" stop-color="#0018dd"/><stop offset=".7607" stop-color="#0092dd"/><stop offset=".7637" stop-color="#0077dd"/><stop offset=".7668" stop-color="#0000dd"/><stop offset=".7698" stop-color="#0000dd"/><stop offset=".7729" stop-color="#0018dd"/><stop offset=".7759" stop-color="#0085dd"/><stop offset=".7790" stop-color="#0000dd"/><stop offset=".7820" stop-color="#0018dd"/><stop offset=".7851" stop-color="#008bdd"/><stop offset=".7881" stop-color="#007edd"/><stop offset=".7912" stop-color="#0000dd"/><stop offset=".7942" stop-color="#0000dd"/><stop offset=".7973" stop-color="#0018dd"/><stop offset=".8003" stop-color="#0085dd"/><stop offset=".8034" stop-color="#0092dd"/><stop offset=".8064" stop-color="#0030dd"/><stop offset=".8095" stop-color="#0000dd"/><stop offset=".8125" stop-color="#0000d3"/><stop offset=".8186" stop-color="#0000d3"/><stop offset=".8216" stop-color="#0000c9"/><stop offset=".8247" stop-color="#850096"/><stop offset=".8277" stop-color="#60006e"/><stop offset=".8338" stop-color="#5f006c"/><stop offset=".8369" stop-color="#52005d"/><stop offset=".8430" stop-color="#50005c"/><stop offset=".8460" stop-color="#5b0068"/><stop offset=".8491" stop-color="#4f005a"/><stop offset=".8643" stop-color="#4c0057"/><stop offset=".8704" stop-color="#460051"/><stop offset=".8735" stop-color="#4b0056"/><stop offset=".8857" stop-color="#4c0057"/><stop offset=".8887" stop-color="#34003b"/><stop offset=".8918" stop-color="#2a002f"/><stop offset=".8948" stop-color="#29002f"/><stop offset=".8979" stop-color="#3d0046"/><stop offset=".9070" stop-color="#380040"/><stop offset=".9101" stop-color="#320039"/><stop offset=".9162" stop-color="#310038"/><stop offset=".9192" stop-color="#37003f"/><stop offset=".9284" stop-color="#36003e"/><stop offset=".9314" stop-color="#36003d"/><stop offset=".9345" stop-color="#2b0031"/><stop offset=".9375" stop-color="#29002f"/><stop offset=".9405" stop-color="#220027"/><stop offset=".9436" stop-color="#210025"/><stop offset=".9466" stop-color="#19001c"/><stop offset=".9588" stop-color="#110013"/><stop offset=".9710" stop-color="#110013"/><stop offset=".9741" stop-color="#160019"/><stop offset=".9771" stop-color="#100012"/><stop offset=".9893" stop-color="#130016"/><stop offset=".9924" stop-color="#0f0011"/><stop offset=".9954" stop-color="#150018"/><stop offset=".9985" stop-color="#150018"/></linearGradient><linearGradient id="g26" gradientUnits="userSpaceOnUse" x1="328.75" x2="595.20"><stop offset=".0015" stop-color="#830094"/><stop offset=".0046" stop-color="#7e008f"/><stop offset=".0076" stop-color="#130015"/><stop offset=".0259" stop-color="#130015"/><stop offset=".0290" stop-color="#0a000c"/><stop offset=".0320" stop-color="#120014"/><stop offset=".0351" stop-color="#0a000c"/><stop offset=".0747" stop-color="#0a000c"/><stop offset=".0777" stop-color="#120014"/><stop offset=".0808" stop-color="#0a000c"/><stop offset=".0838" stop-color="#0a000c"/><stop offset=".0869" stop-color="#120014"/><stop offset=".0899" stop-color="#0a000c"/><stop offset=".0960" stop-color="#0a000c"/><stop offset=".0991" stop-color="#120014"/><stop offset=".1021" stop-color="#0a000c"/><stop offset=".1204" stop-color="#0a000c"/><stop offset=".1235" stop-color="#050005"/><stop offset=".1265" stop-color="#0a000c"/><stop offset=".1418" stop-color="#0a000c"/><stop offset=".1448" stop-color="#120014"/><stop offset=".1479" stop-color="#0a000c"/><stop offset=".1753" stop-color="#0a000c"/><stop offset=".1784" stop-color="#120014"/><stop offset=".1814" stop-color="#0a000c"/><stop offset=".2027" stop-color="#0b000c"/><stop offset=".2119" stop-color="#53005f"/><stop offset=".2149" stop-color="#79008a"/><stop offset=".2180" stop-color="#810092"/><stop offset=".2210" stop-color="#82009a"/><stop offset=".2241" stop-color="#3d00a2"/><stop offset=".2271" stop-color="#0000b0"/><stop offset=".2302" stop-color="#0000cc"/><stop offset=".2332" stop-color="#0018dd"/><stop offset=".2363" stop-color="#004edd"/><stop offset=".2393" stop-color="#0078dd"/><stop offset=".2485" stop-color="#0095dd"/><stop offset=".2515" stop-color="#009bd7"/><stop offset=".2607" stop-color="#00a6b5"/><stop offset=".2668" stop-color="#00aaa5"/><stop offset=".2851" stop-color="#00aa93"/><stop offset=".3308" stop-color="#00a983"/><stop offset=".3552" stop-color="#00a76f"/><stop offset=".3887" stop-color="#00a036"/><stop offset=".4101" stop-color="#009903"/><stop offset=".4192" stop-color="#009d00"/><stop offset=".4771" stop-color="#00b000"/><stop offset=".5137" stop-color="#009b00"/><stop offset=".5168" stop-color="#009903"/><stop offset=".5320" stop-color="#00a244"/><stop offset=".5442" stop-color="#00a879"/><stop offset=".5473" stop-color="#00aa89"/><stop offset=".5686" stop-color="#00a9ae"/><stop offset=".5869" stop-color="#009ada"/><stop offset=".5991" stop-color="#0088dd"/><stop offset=".6113" stop-color="#0078dd"/><stop offset=".6235" stop-color="#0045dd"/><stop offset=".6387" stop-color="#0001dd"/><stop offset=".6448" stop-color="#0000d2"/><stop offset=".6997" stop-color="#0000ce"/><stop offset=".7088" stop-color="#0000ab"/><stop offset=".7119" stop-color="#1b00a7"/><stop offset=".7210" stop-color="#4400a2"/><stop offset=".7302" stop-color="#4400a2"/><stop offset=".7332" stop-color="#3600a3"/><stop offset=".7363" stop-color="#0099dd"/><stop offset=".7393" stop-color="#0018dd"/><stop offset=".7424" stop-color="#0000dd"/><stop offset=".7454" stop-color="#0092dd"/><stop offset=".7485" stop-color="#007edd"/><stop offset=".7515" stop-color="#0000dd"/><stop offset=".7546" stop-color="#0000dd"/><stop offset=".7576" stop-color="#0018dd"/><stop offset=".7607" stop-color="#0092dd"/><stop offset=".7637" stop-color="#0077dd"/><stop offset=".7668" stop-color="#0000dd"/><stop offset=".7698" stop-color="#0000dd"/><stop offset=".7729" stop-color="#0018dd"/><stop offset=".7759" stop-color="#0085dd"/><stop offset=".7790" stop-color="#0000dd"/><stop offset=".7820" stop-color="#0018dd"/><stop offset=".7851" stop-color="#008bdd"/><stop offset=".7881" stop-color="#007edd"/><stop offset=".7912" stop-color="#0000dd"/><stop offset=".7942" stop-color="#0000dd"/><stop offset=".7973" stop-color="#0018dd"/><stop offset=".8003" stop-color="#0085dd"/><stop offset=".8034" stop-color="#0092dd"/><stop offset=".8064" stop-color="#0030dd"/><stop offset=".8095" stop-color="#0000dd"/><stop offset=".8125" stop-color="#0000d3"/><stop offset=".8186" stop-color="#0000d3"/><stop offset=".8216" stop-color="#0000c9"/><stop offset=".8247" stop-color="#850096"/><stop offset=".8277" stop-color="#60006e"/><stop offset=".8338" stop-color="#5f006c"/><stop offset=".8369" stop-color="#52005d"/><stop offset=".8430" stop-color="#50005c"/><stop offset=".8460" stop-color="#5b0068"/><stop offset=".8491" stop-color="#4f005a"/><stop offset=".8643" stop-color="#4c0057"/><stop offset=".8704" stop-color="#460051"/><stop offset=".8735" stop-color="#4b0056"/><stop offset=".8857" stop-color="#4c0057"/><stop offset=".8887" stop-color="#34003b"/><stop offset=".8918" stop-color="#2a002f"/><stop offset=".8948" stop-color="#29002f"/><stop offset=".8979" stop-color="#3d0046"/><stop offset=".9070" stop-color="#380040"/><stop offset=".9101" stop-color="#320039"/><stop offset=".9162" stop-color="#310038"/><stop offset=".9192" stop-color="#37003f"/><stop offset=".9284" stop-color="#36003e"/><stop offset=".9314" stop-color="#36003d"/><stop offset=".9345" stop-color="#2b0031"/><stop offset=".9375" stop-color="#29002f"/><stop offset=".9405" stop-color="#220027"/><stop offset=".9436" stop-color="#210025"/><stop offset=".9466" stop-color="#19001c"/><stop offset=".9588" stop-color="#110013"/><stop offset=".9710" stop-color="#110013"/><stop offset=".9741" stop-color="#160019"/><stop offset=".9771" stop-color="#100012"/><stop offset=".9893" stop-color="#130016"/><stop offset=".9924" stop-color="#0f0011"/><stop offset=".9954" stop-color="#150018"/><stop offset=".9985" stop-color="#150018"/></linearGradient><linearGradient id="g27" gradientUnits="userSpaceOnUse" x1="328.75" x2="595.20"><stop offset=".0015" stop-color="#830094"/><stop offset=".0046" stop-color="#7e008f"/><stop offset=".0076" stop-color="#130015"/><stop offset=".0168" stop-color="#130015"/><stop offset=".0198" stop-color="#0a000c"/><stop offset=".1204" stop-color="#0a000c"/><stop offset=".1235" stop-color="#050005"/><stop offset=".1265" stop-color="#0a000c"/><stop offset=".2027" stop-color="#0a000c"/><stop offset=".2119" stop-color="#160019"/><stop offset=".2241" stop-color="#1c0020"/><stop offset=".2485" stop-color="#210026"/><stop offset=".2546" stop-color="#3d0046"/><stop offset=".3003" stop-color="#42004b"/><stop offset=".3064" stop-color="#45004f"/><stop offset=".3125" stop-color="#42004c"/><stop offset=".3186" stop-color="#52005e"/><stop offset=".3308" stop-color="#630071"/><stop offset=".3430" stop-color="#590066"/><stop offset=".3460" stop-color="#53005f"/><stop offset=".3582" stop-color="#550061"/><stop offset=".3613" stop-color="#5a0067"/><stop offset=".3857" stop-color="#5b0068"/><stop offset=".3887" stop-color="#540060"/><stop offset=".4040" stop-color="#540060"/><stop offset=".4070" stop-color="#590066"/><stop offset=".4162" stop-color="#590066"/><stop offset=".4192" stop-color="#540060"/><stop offset=".4497" stop-color="#550062"/><stop offset=".4649" stop-color="#53005f"/><stop offset=".4680" stop-color="#590066"/><stop offset=".4771" stop-color="#590065"/><stop offset=".4802" stop-color="#540060"/><stop offset=".4893" stop-color="#53005f"/><stop offset=".4954" stop-color="#580064"/><stop offset=".4985" stop-color="#51005c"/><stop offset=".5015" stop-color="#550061"/><stop offset=".5229" stop-color="#4f005b"/><stop offset=".5290" stop-color="#4d0058"/><stop offset=".5320" stop-color="#51005c"/><stop offset=".5381" stop-color="#490054"/><stop offset=".5655" stop-color="#470051"/><stop offset=".5686" stop-color="#51005c"/><stop offset=".5716" stop-color="#470051"/><stop offset=".5869" stop-color="#490054"/><stop offset=".5899" stop-color="#50005c"/><stop offset=".6082" stop-color="#51005c"/><stop offset=".6113" stop-color="#470051"/><stop offset=".6174" stop-color="#1f0023"/><stop offset=".6296" stop-color="#1e0023"/><stop offset=".6326" stop-color="#51005c"/><stop offset=".6357" stop-color="#1f0023"/><stop offset=".6509" stop-color="#1e0022"/><stop offset=".6540" stop-color="#51005c"/><stop offset=".6570" stop-color="#1e0022"/><stop offset=".6692" stop-color="#200025"/><stop offset=".6723" stop-color="#51005c"/><stop offset=".6753" stop-color="#200025"/><stop offset=".6845" stop-color="#200025"/><stop offset=".6875" stop-color="#51005c"/><stop offset=".6905" stop-color="#220027"/><stop offset=".7027" stop-color="#1f0024"/><stop offset=".7058" stop-color="#51005c"/><stop offset=".7088" stop-color="#200024"/><stop offset=".7271" stop-color="#1f0023"/><stop offset=".7302" stop-color="#0000dd"/><stop offset=".7332" stop-color="#1d0021"/><stop offset=".7363" stop-color="#5f006d"/><stop offset=".7393" stop-color="#7b008c"/><stop offset=".7607" stop-color="#7b008c"/><stop offset=".7637" stop-color="#0000be"/><stop offset=".7668" stop-color="#36003e"/><stop offset=".7698" stop-color="#2d0034"/><stop offset=".7729" stop-color="#2d0034"/><stop offset=".7759" stop-color="#28002d"/><stop offset=".7820" stop-color="#28002d"/><stop offset=".7851" stop-color="#200024"/><stop offset=".7912" stop-color="#200024"/><stop offset=".7942" stop-color="#25002a"/><stop offset=".7973" stop-color="#3f0047"/><stop offset=".8003" stop-color="#3f0047"/><stop offset=".8034" stop-color="#300037"/><stop offset=".8125" stop-color="#310038"/><stop offset=".8155" stop-color="#3d0046"/><stop offset=".8186" stop-color="#3a0042"/><stop offset=".8216" stop-color="#810092"/><stop offset=".8247" stop-color="#29002f"/><stop offset=".8338" stop-color="#29002f"/><stop offset=".8399" stop-color="#2d0034"/><stop offset=".8430" stop-color="#2d0034"/><stop offset=".8460" stop-color="#1a001e"/><stop offset=".8613" stop-color="#19001d"/><stop offset=".8643" stop-color="#2c0033"/><stop offset=".8826" stop-color="#2a0030"/><stop offset=".8857" stop-color="#1d0021"/><stop offset=".8948" stop-color="#19001c"/><stop offset=".8979" stop-color="#2d0033"/><stop offset=".9009" stop-color="#2d0033"/><stop offset=".9040" stop-color="#220027"/><stop offset=".9131" stop-color="#220027"/><stop offset=".9162" stop-color="#1d0021"/><stop offset=".9253" stop-color="#1d0021"/><stop offset=".9284" stop-color="#18001b"/><stop offset=".9314" stop-color="#18001b"/><stop offset=".9345" stop-color="#2c0033"/><stop offset=".9436" stop-color="#2b0031"/><stop offset=".9466" stop-color="#1a001e"/><stop offset=".9497" stop-color="#1a001e"/><stop offset=".9527" stop-color="#2b0031"/><stop offset=".9619" stop-color="#2b0031"/><stop offset=".9649" stop-color="#1c0020"/><stop offset=".9863" stop-color="#19001d"/><stop offset=".9893" stop-color="#220027"/><stop offset=".9985" stop-color="#230028"/></linearGradient><linearGradient id="g28" gradientUnits="userSpaceOnUse" x1="328.75" x2="595.20"><stop offset=".0015" stop-color="#830094"/><stop offset=".0046" stop-color="#7e008f"/><stop offset=".0076" stop-color="#130015"/><stop offset=".0168" stop-color="#130015"/><stop offset=".0198" stop-color="#0a000c"/><stop offset=".1204" stop-color="#0a000c"/><stop offset=".1235" stop-color="#050005"/><stop offset=".1265" stop-color="#0a000c"/><stop offset=".2119" stop-color="#0c000e"/><stop offset=".2332" stop-color="#110013"/><stop offset=".2485" stop-color="#120015"/><stop offset=".2546" stop-color="#220026"/><stop offset=".2912" stop-color="#26002b"/><stop offset=".3095" stop-color="#25002a"/><stop offset=".3155" stop-color="#26002b"/><stop offset=".3277" stop-color="#37003f"/><stop offset=".3582" stop-color="#2e0034"/><stop offset=".3674" stop-color="#2e0034"/><stop offset=".3704" stop-color="#320039"/><stop offset=".4131" stop-color="#310038"/><stop offset=".4192" stop-color="#2d0033"/><stop offset=".4253" stop-color="#310037"/><stop offset=".4375" stop-color="#2e0035"/><stop offset=".4466" stop-color="#310038"/><stop offset=".4588" stop-color="#310038"/><stop offset=".4710" stop-color="#2d0034"/><stop offset=".4924" stop-color="#300036"/><stop offset=".4954" stop-color="#29002f"/><stop offset=".4985" stop-color="#2d0033"/><stop offset=".5015" stop-color="#1d0021"/><stop offset=".5290" stop-color="#1e0022"/><stop offset=".5320" stop-color="#2d0033"/><stop offset=".5351" stop-color="#1d0022"/><stop offset=".5503" stop-color="#210025"/><stop offset=".5564" stop-color="#200025"/><stop offset=".5625" stop-color="#1d0021"/><stop offset=".5655" stop-color="#1d0021"/><stop offset=".5686" stop-color="#2d0033"/><stop offset=".5716" stop-color="#1d0021"/><stop offset=".5991" stop-color="#1d0021"/><stop offset=".6021" stop-color="#220026"/><stop offset=".6052" stop-color="#220026"/><stop offset=".6082" stop-color="#2d0033"/><stop offset=".6113" stop-color="#28002e"/><stop offset=".6174" stop-color="#110014"/><stop offset=".6296" stop-color="#100012"/><stop offset=".6326" stop-color="#2d0033"/><stop offset=".6357" stop-color="#100012"/><stop offset=".6509" stop-color="#100012"/><stop offset=".6540" stop-color="#2d0033"/><stop offset=".6570" stop-color="#100012"/><stop offset=".6692" stop-color="#100012"/><stop offset=".6723" stop-color="#2d0033"/><stop offset=".6753" stop-color="#130016"/><stop offset=".6845" stop-color="#110014"/><stop offset=".6875" stop-color="#2d0033"/><stop offset=".6905" stop-color="#110014"/><stop offset=".7027" stop-color="#130016"/><stop offset=".7058" stop-color="#2d0033"/><stop offset=".7088" stop-color="#140016"/><stop offset=".7271" stop-color="#110013"/><stop offset=".7302" stop-color="#3100a4"/><stop offset=".7332" stop-color="#1d0021"/><stop offset=".7363" stop-color="#34003c"/><stop offset=".7393" stop-color="#51005d"/><stop offset=".7607" stop-color="#51005d"/><stop offset=".7637" stop-color="#860097"/><stop offset=".7668" stop-color="#25002a"/><stop offset=".7698" stop-color="#1c0020"/><stop offset=".7820" stop-color="#1f0023"/><stop offset=".7851" stop-color="#150018"/><stop offset=".7912" stop-color="#150018"/><stop offset=".7942" stop-color="#210026"/><stop offset=".8155" stop-color="#1e0023"/><stop offset=".8186" stop-color="#17001a"/><stop offset=".8216" stop-color="#690078"/><stop offset=".8247" stop-color="#17001a"/><stop offset=".8430" stop-color="#0e0010"/><stop offset=".8582" stop-color="#0f0011"/><stop offset=".8613" stop-color="#17001b"/><stop offset=".8826" stop-color="#160019"/><stop offset=".8857" stop-color="#0f0012"/><stop offset=".9040" stop-color="#0e0010"/><stop offset=".9070" stop-color="#150018"/><stop offset=".9192" stop-color="#130016"/><stop offset=".9223" stop-color="#0e0010"/><stop offset=".9314" stop-color="#0e0010"/><stop offset=".9345" stop-color="#160019"/><stop offset=".9497" stop-color="#18001c"/><stop offset=".9619" stop-color="#150018"/><stop offset=".9710" stop-color="#19001c"/><stop offset=".9741" stop-color="#130016"/><stop offset=".9832" stop-color="#130016"/><stop offset=".9863" stop-color="#19001d"/><stop offset=".9985" stop-color="#18001b"/></linearGradient><linearGradient id="g29" gradientUnits="userSpaceOnUse" x1="328.75" x2="595.20"><stop offset=".0015" stop-color="#830094"/><stop offset=".0046" stop-color="#7e008f"/><stop offset=".0076" stop-color="#130015"/><stop offset=".1204" stop-color="#130015"/><stop offset=".1235" stop-color="#070008"/><stop offset=".1265" stop-color="#130015"/><stop offset=".1936" stop-color="#130015"/><stop offset=".1997" stop-color="#79008a"/><stop offset=".2027" stop-color="#810092"/><stop offset=".2058" stop-color="#3f00a2"/><stop offset=".2088" stop-color="#0000bb"/><stop offset=".2119" stop-color="#0000dd"/><stop offset=".2149" stop-color="#0085dd"/><stop offset=".2180" stop-color="#009cd3"/><stop offset=".2210" stop-color="#00aaaa"/><stop offset=".2241" stop-color="#009900"/><stop offset=".2332" stop-color="#00dd00"/><stop offset=".2424" stop-color="#00ff00"/><stop offset=".2485" stop-color="#bbff00"/><stop offset=".2576" stop-color="#eeee00"/><stop offset=".2851" stop-color="#fad600"/><stop offset=".2942" stop-color="#ffcc00"/><stop offset=".3430" stop-color="#f5e100"/><stop offset=".4101" stop-color="#f4e200"/><stop offset=".4466" stop-color="#f6dd00"/><stop offset=".4771" stop-color="#f0ea00"/><stop offset=".4893" stop-color="#e4f100"/><stop offset=".5107" stop-color="#befe00"/><stop offset=".5137" stop-color="#afff00"/><stop offset=".5320" stop-color="#1cff00"/><stop offset=".5351" stop-color="#05ff00"/><stop offset=".5412" stop-color="#00fa00"/><stop offset=".5777" stop-color="#00e900"/><stop offset=".6082" stop-color="#00ce00"/><stop offset=".6235" stop-color="#00bb00"/><stop offset=".6357" stop-color="#009c00"/><stop offset=".6387" stop-color="#009b12"/><stop offset=".6448" stop-color="#00a352"/><stop offset=".6540" stop-color="#00aa89"/><stop offset=".6753" stop-color="#00aaaa"/><stop offset=".6905" stop-color="#009cd3"/><stop offset=".7027" stop-color="#0098dd"/><stop offset=".7210" stop-color="#008bdd"/><stop offset=".7302" stop-color="#0077dd"/><stop offset=".7332" stop-color="#005fdd"/><stop offset=".7363" stop-color="#0000d3"/><stop offset=".7393" stop-color="#0000be"/><stop offset=".7424" stop-color="#0000dd"/><stop offset=".7454" stop-color="#0092dd"/><stop offset=".7485" stop-color="#0092dd"/><stop offset=".7515" stop-color="#0000dd"/><stop offset=".7576" stop-color="#0000dd"/><stop offset=".7607" stop-color="#0092dd"/><stop offset=".7637" stop-color="#0092dd"/><stop offset=".7668" stop-color="#0000dd"/><stop offset=".7820" stop-color="#0000dd"/><stop offset=".7851" stop-color="#0000d3"/><stop offset=".7881" stop-color="#3600a3"/><stop offset=".7912" stop-color="#0000dd"/><stop offset=".7942" stop-color="#0000dd"/><stop offset=".7973" stop-color="#0000d3"/><stop offset=".8003" stop-color="#5200a0"/><stop offset=".8034" stop-color="#0000dd"/><stop offset=".8064" stop-color="#0000aa"/><stop offset=".8095" stop-color="#850096"/><stop offset=".8155" stop-color="#850096"/><stop offset=".8186" stop-color="#5f006d"/><stop offset=".8216" stop-color="#850096"/><stop offset=".8338" stop-color="#850096"/><stop offset=".8369" stop-color="#7f0090"/><stop offset=".8399" stop-color="#7f0090"/><stop offset=".8430" stop-color="#840095"/><stop offset=".8552" stop-color="#820093"/><stop offset=".8613" stop-color="#7c008d"/><stop offset=".8826" stop-color="#7a008b"/><stop offset=".8948" stop-color="#760086"/><stop offset=".9070" stop-color="#630071"/><stop offset=".9101" stop-color="#550062"/><stop offset=".9131" stop-color="#51005d"/><stop offset=".9162" stop-color="#480053"/><stop offset=".9253" stop-color="#42004c"/><stop offset=".9284" stop-color="#45004e"/><stop offset=".9558" stop-color="#2f0036"/><stop offset=".9649" stop-color="#2b0031"/><stop offset=".9802" stop-color="#230028"/><stop offset=".9832" stop-color="#1d0021"/><stop offset=".9893" stop-color="#1b001f"/><stop offset=".9924" stop-color="#1f0023"/><stop offset=".9985" stop-color="#1d0021"/></linearGradient><linearGradient id="g30" gradientUnits="userSpaceOnUse" x1="328.75" x2="595.20"><stop offset=".0015" stop-color="#830094"/><stop offset=".0046" stop-color="#7e008f"/><stop offset=".0076" stop-color="#130015"/><stop offset=".0168" stop-color="#130015"/><stop offset=".0229" stop-color="#0f0011"/><stop offset=".1204" stop-color="#0f0011"/><stop offset=".1235" stop-color="#060007"/><stop offset=".1265" stop-color="#0f0011"/><stop offset=".1936" stop-color="#0f0011"/><stop offset=".1997" stop-color="#470051"/><stop offset=".2027" stop-color="#640073"/><stop offset=".2058" stop-color="#7d008e"/><stop offset=".2088" stop-color="#840095"/><stop offset=".2119" stop-color="#7c009b"/><stop offset=".2149" stop-color="#1b00a7"/><stop offset=".2180" stop-color="#0000b5"/><stop offset=".2210" stop-color="#0000c9"/><stop offset=".2241" stop-color="#0049dd"/><stop offset=".2271" stop-color="#0071dd"/><stop offset=".2332" stop-color="#008cdd"/><stop offset=".2393" stop-color="#0098dd"/><stop offset=".2424" stop-color="#009bd6"/><stop offset=".2546" stop-color="#00aaa7"/><stop offset=".2607" stop-color="#00aaa0"/><stop offset=".2973" stop-color="#00aa90"/><stop offset=".3338" stop-color="#00aa95"/><stop offset=".4192" stop-color="#00aa97"/><stop offset=".4527" stop-color="#00aa97"/><stop offset=".4893" stop-color="#00aaa1"/><stop offset=".5137" stop-color="#00a6b7"/><stop offset=".5290" stop-color="#009fcb"/><stop offset=".5320" stop-color="#00a0c8"/><stop offset=".5351" stop-color="#009dd1"/><stop offset=".5655" stop-color="#0099dc"/><stop offset=".5686" stop-color="#009bd7"/><stop offset=".5747" stop-color="#0098dd"/><stop offset=".6082" stop-color="#008cdd"/><stop offset=".6204" stop-color="#007ddd"/><stop offset=".6265" stop-color="#0078dd"/><stop offset=".6296" stop-color="#006ddd"/><stop offset=".6326" stop-color="#0077dd"/><stop offset=".6357" stop-color="#0053dd"/><stop offset=".6448" stop-color="#0028dd"/><stop offset=".6509" stop-color="#0015dd"/><stop offset=".6540" stop-color="#0027dd"/><stop offset=".6570" stop-color="#0005dd"/><stop offset=".6631" stop-color="#0000d8"/><stop offset=".6692" stop-color="#0000d2"/><stop offset=".6723" stop-color="#0000d8"/><stop offset=".6753" stop-color="#0000ca"/><stop offset=".6845" stop-color="#0000bf"/><stop offset=".6875" stop-color="#0000c5"/><stop offset=".6905" stop-color="#0000b7"/><stop offset=".7027" stop-color="#0000b0"/><stop offset=".7058" stop-color="#0000b9"/><stop offset=".7088" stop-color="#0000ac"/><stop offset=".7180" stop-color="#0700a9"/><stop offset=".7210" stop-color="#0b00a9"/><stop offset=".7271" stop-color="#2500a5"/><stop offset=".7302" stop-color="#003cdd"/><stop offset=".7332" stop-color="#4100a2"/><stop offset=".7363" stop-color="#5f009e"/><stop offset=".7393" stop-color="#5c009e"/><stop offset=".7424" stop-color="#3400a4"/><stop offset=".7454" stop-color="#0000c5"/><stop offset=".7485" stop-color="#0000c5"/><stop offset=".7515" stop-color="#3400a4"/><stop offset=".7576" stop-color="#3400a4"/><stop offset=".7607" stop-color="#0000c5"/><stop offset=".7637" stop-color="#0047dd"/><stop offset=".7668" stop-color="#69009d"/><stop offset=".7698" stop-color="#69009d"/><stop offset=".7729" stop-color="#73009c"/><stop offset=".7851" stop-color="#70009c"/><stop offset=".7881" stop-color="#810092"/><stop offset=".7912" stop-color="#63009e"/><stop offset=".7942" stop-color="#67009d"/><stop offset=".7973" stop-color="#74009b"/><stop offset=".8003" stop-color="#7d008e"/><stop offset=".8034" stop-color="#61009e"/><stop offset=".8064" stop-color="#840095"/><stop offset=".8095" stop-color="#79008a"/><stop offset=".8155" stop-color="#780089"/><stop offset=".8186" stop-color="#50005c"/><stop offset=".8216" stop-color="#830094"/><stop offset=".8247" stop-color="#79008a"/><stop offset=".8338" stop-color="#780089"/><stop offset=".8369" stop-color="#650073"/><stop offset=".8399" stop-color="#680077"/><stop offset=".8430" stop-color="#770088"/><stop offset=".8521" stop-color="#730083"/><stop offset=".8552" stop-color="#750086"/><stop offset=".8582" stop-color="#5f006d"/><stop offset=".8704" stop-color="#570063"/><stop offset=".8735" stop-color="#650074"/><stop offset=".8857" stop-color="#590066"/><stop offset=".8948" stop-color="#490054"/><stop offset=".9131" stop-color="#380040"/><stop offset=".9162" stop-color="#300037"/><stop offset=".9253" stop-color="#2d0033"/><stop offset=".9284" stop-color="#380040"/><stop offset=".9314" stop-color="#37003f"/><stop offset=".9345" stop-color="#2d0034"/><stop offset=".9527" stop-color="#25002a"/><stop offset=".9558" stop-color="#2d0034"/><stop offset=".9680" stop-color="#2a0030"/><stop offset=".9710" stop-color="#210026"/><stop offset=".9893" stop-color="#1a001d"/><stop offset=".9954" stop-color="#200024"/><stop offset=".9985" stop-color="#1f0024"/></linearGradient><linearGradient id="g31" gradientUnits="userSpaceOnUse" x1="328.75" x2="595.20"><stop offset=".0015" stop-color="#830094"/><stop offset=".0046" stop-color="#7e008f"/><stop offset=".0076" stop-color="#130015"/><stop offset=".0168" stop-color="#130015"/><stop offset=".0229" stop-color="#0f0011"/><stop offset=".0290" stop-color="#0a000c"/><stop offset=".0320" stop-color="#0e0010"/><stop offset=".0381" stop-color="#0a000c"/><stop offset=".0747" stop-color="#0a000c"/><stop offset=".0777" stop-color="#0e0010"/><stop offset=".0838" stop-color="#0a000c"/><stop offset=".0869" stop-color="#0e0010"/><stop offset=".0930" stop-color="#0a000c"/><stop offset=".0991" stop-color="#0e0010"/><stop offset=".1052" stop-color="#0a000c"/><stop offset=".1204" stop-color="#0a000c"/><stop offset=".1235" stop-color="#050005"/><stop offset=".1265" stop-color="#0a000c"/><stop offset=".1418" stop-color="#0a000c"/><stop offset=".1448" stop-color="#0e0010"/><stop offset=".1509" stop-color="#0a000c"/><stop offset=".1753" stop-color="#0a000c"/><stop offset=".1784" stop-color="#0e0010"/><stop offset=".1845" stop-color="#0a000c"/><stop offset=".2027" stop-color="#0b000c"/><stop offset=".2119" stop-color="#37003f"/><stop offset=".2180" stop-color="#760087"/><stop offset=".2271" stop-color="#860097"/><stop offset=".2302" stop-color="#64009d"/><stop offset=".2332" stop-color="#3700a3"/><stop offset=".2363" stop-color="#1400a8"/><stop offset=".2393" stop-color="#0000ac"/><stop offset=".2576" stop-color="#0000dc"/><stop offset=".2698" stop-color="#001cdd"/><stop offset=".2851" stop-color="#002ddd"/><stop offset=".3034" stop-color="#003add"/><stop offset=".3155" stop-color="#0040dd"/><stop offset=".3277" stop-color="#0054dd"/><stop offset=".3460" stop-color="#0055dd"/><stop offset=".3826" stop-color="#006bdd"/><stop offset=".3887" stop-color="#006cdd"/><stop offset=".4101" stop-color="#0079dd"/><stop offset=".4802" stop-color="#0081dd"/><stop offset=".4985" stop-color="#0078dd"/><stop offset=".5137" stop-color="#0062dd"/><stop offset=".5168" stop-color="#0056dd"/><stop offset=".5290" stop-color="#003bdd"/><stop offset=".5320" stop-color="#0041dd"/><stop offset=".5351" stop-color="#002ddd"/><stop offset=".5442" stop-color="#001ddd"/><stop offset=".5534" stop-color="#0001dd"/><stop offset=".5655" stop-color="#0000ce"/><stop offset=".5686" stop-color="#0000d0"/><stop offset=".5747" stop-color="#0000c5"/><stop offset=".5930" stop-color="#0000ab"/><stop offset=".6021" stop-color="#1100a8"/><stop offset=".6052" stop-color="#1900a7"/><stop offset=".6082" stop-color="#1300a8"/><stop offset=".6174" stop-color="#4700a1"/><stop offset=".6296" stop-color="#63009e"/><stop offset=".6326" stop-color="#5000a0"/><stop offset=".6357" stop-color="#72009c"/><stop offset=".6418" stop-color="#81009a"/><stop offset=".6509" stop-color="#880099"/><stop offset=".6540" stop-color="#6a009d"/><stop offset=".6570" stop-color="#880099"/><stop offset=".6692" stop-color="#870099"/><stop offset=".6723" stop-color="#6c009d"/><stop offset=".6753" stop-color="#880099"/><stop offset=".6845" stop-color="#870099"/><stop offset=".6875" stop-color="#6d009c"/><stop offset=".6905" stop-color="#880099"/><stop offset=".7058" stop-color="#870098"/><stop offset=".7119" stop-color="#800091"/><stop offset=".7271" stop-color="#7d008e"/><stop offset=".7302" stop-color="#0000b7"/><stop offset=".7332" stop-color="#0000b0"/><stop offset=".7363" stop-color="#5200a0"/><stop offset=".7393" stop-color="#78009b"/><stop offset=".7424" stop-color="#3400a4"/><stop offset=".7454" stop-color="#0000c5"/><stop offset=".7485" stop-color="#0000b5"/><stop offset=".7515" stop-color="#3400a4"/><stop offset=".7546" stop-color="#3400a4"/><stop offset=".7576" stop-color="#2600a5"/><stop offset=".7607" stop-color="#0000c5"/><stop offset=".7637" stop-color="#0018dd"/><stop offset=".7668" stop-color="#69009d"/><stop offset=".7729" stop-color="#65009d"/><stop offset=".7759" stop-color="#1400a8"/><stop offset=".7790" stop-color="#6f009c"/><stop offset=".7820" stop-color="#62009e"/><stop offset=".7851" stop-color="#0000ae"/><stop offset=".7881" stop-color="#1100a8"/><stop offset=".7912" stop-color="#63009e"/><stop offset=".7942" stop-color="#67009d"/><stop offset=".7973" stop-color="#59009f"/><stop offset=".8003" stop-color="#1400a8"/><stop offset=".8034" stop-color="#0000b3"/><stop offset=".8064" stop-color="#4600a1"/><stop offset=".8095" stop-color="#68009d"/><stop offset=".8125" stop-color="#83009a"/><stop offset=".8155" stop-color="#83009a"/><stop offset=".8186" stop-color="#70009c"/><stop offset=".8216" stop-color="#3600a3"/><stop offset=".8247" stop-color="#780089"/><stop offset=".8277" stop-color="#44004e"/><stop offset=".8338" stop-color="#43004d"/><stop offset=".8369" stop-color="#35003c"/><stop offset=".8430" stop-color="#380040"/><stop offset=".8460" stop-color="#3e0046"/><stop offset=".8491" stop-color="#37003f"/><stop offset=".8552" stop-color="#3b0044"/><stop offset=".8582" stop-color="#37003e"/><stop offset=".8704" stop-color="#310038"/><stop offset=".8735" stop-color="#390041"/><stop offset=".8857" stop-color="#3c0044"/><stop offset=".8887" stop-color="#2b0031"/><stop offset=".8948" stop-color="#230028"/><stop offset=".8979" stop-color="#2d0033"/><stop offset=".9162" stop-color="#240029"/><stop offset=".9223" stop-color="#28002e"/><stop offset=".9253" stop-color="#27002d"/><stop offset=".9284" stop-color="#310038"/><stop offset=".9314" stop-color="#310038"/><stop offset=".9345" stop-color="#230028"/><stop offset=".9527" stop-color="#160019"/><stop offset=".9558" stop-color="#1f0024"/><stop offset=".9680" stop-color="#1e0023"/><stop offset=".9710" stop-color="#150018"/><stop offset=".9741" stop-color="#17001b"/><stop offset=".9802" stop-color="#140017"/><stop offset=".9924" stop-color="#140016"/><stop offset=".9954" stop-color="#1c001f"/><stop offset=".9985" stop-color="#1c001f"/></linearGradient><linearGradient id="g32" gradientUnits="userSpaceOnUse" x1="328.75" x2="595.20"><stop offset=".0015" stop-color="#830094"/><stop offset=".0046" stop-color="#7e008f"/><stop offset=".0076" stop-color="#130015"/><stop offset=".0259" stop-color="#130015"/><stop offset=".0290" stop-color="#0a000c"/><stop offset=".0320" stop-color="#120014"/><stop offset=".0351" stop-color="#0a000c"/><stop offset=".0747" stop-color="#0a000c"/><stop offset=".0777" stop-color="#120014"/><stop offset=".0808" stop-color="#0a000c"/><stop offset=".0838" stop-color="#0a000c"/><stop offset=".0869" stop-color="#120014"/><stop offset=".0899" stop-color="#0a000c"/><stop offset=".0960" stop-color="#0a000c"/><stop offset=".0991" stop-color="#120014"/><stop offset=".1021" stop-color="#0a000c"/><stop offset=".1204" stop-color="#0a000c"/><stop offset=".1235" stop-color="#050005"/><stop offset=".1265" stop-color="#0a000c"/><stop offset=".1418" stop-color="#0a000c"/><stop offset=".1448" stop-color="#120014"/><stop offset=".1479" stop-color="#0a000c"/><stop offset=".1753" stop-color="#0a000c"/><stop offset=".1784" stop-color="#120014"/><stop offset=".1814" stop-color="#0a000c"/><stop offset=".2027" stop-color="#0b000c"/><stop offset=".2119" stop-color="#52005d"/><stop offset=".2149" stop-color="#780089"/><stop offset=".2210" stop-color="#880099"/><stop offset=".2241" stop-color="#4700a1"/><stop offset=".2271" stop-color="#0000aa"/><stop offset=".2332" stop-color="#0001dd"/><stop offset=".2363" stop-color="#0035dd"/><stop offset=".2393" stop-color="#0061dd"/><stop offset=".2424" stop-color="#007cdd"/><stop offset=".2515" stop-color="#0096dd"/><stop offset=".2668" stop-color="#00a9ac"/><stop offset=".2820" stop-color="#00aa9a"/><stop offset=".3125" stop-color="#00aa8f"/><stop offset=".3521" stop-color="#00aa86"/><stop offset=".3826" stop-color="#00a353"/><stop offset=".4040" stop-color="#009d21"/><stop offset=".4162" stop-color="#009a04"/><stop offset=".4223" stop-color="#009a00"/><stop offset=".4771" stop-color="#00ae00"/><stop offset=".5137" stop-color="#009a00"/><stop offset=".5259" stop-color="#009f2e"/><stop offset=".5473" stop-color="#00aa8b"/><stop offset=".5686" stop-color="#00a8b0"/><stop offset=".5869" stop-color="#0099dc"/><stop offset=".6113" stop-color="#0076dd"/><stop offset=".6387" stop-color="#0000dc"/><stop offset=".6448" stop-color="#0000d2"/><stop offset=".6997" stop-color="#0000ce"/><stop offset=".7088" stop-color="#0000ab"/><stop offset=".7119" stop-color="#1b00a7"/><stop offset=".7210" stop-color="#4400a2"/><stop offset=".7302" stop-color="#4400a2"/><stop offset=".7332" stop-color="#0024dd"/><stop offset=".7363" stop-color="#0077dd"/><stop offset=".7393" stop-color="#0000c9"/><stop offset=".7424" stop-color="#0000dd"/><stop offset=".7454" stop-color="#0092dd"/><stop offset=".7485" stop-color="#007edd"/><stop offset=".7515" stop-color="#0000dd"/><stop offset=".7546" stop-color="#0000dd"/><stop offset=".7576" stop-color="#0018dd"/><stop offset=".7607" stop-color="#0092dd"/><stop offset=".7637" stop-color="#0077dd"/><stop offset=".7668" stop-color="#0000dd"/><stop offset=".7698" stop-color="#0000dd"/><stop offset=".7729" stop-color="#0018dd"/><stop offset=".7759" stop-color="#0085dd"/><stop offset=".7790" stop-color="#0000dd"/><stop offset=".7820" stop-color="#0018dd"/><stop offset=".7851" stop-color="#008bdd"/><stop offset=".7881" stop-color="#007edd"/><stop offset=".7912" stop-color="#0000dd"/><stop offset=".7942" stop-color="#0000dd"/><stop offset=".7973" stop-color="#0018dd"/><stop offset=".8003" stop-color="#0085dd"/><stop offset=".8034" stop-color="#0092dd"/><stop offset=".8064" stop-color="#0030dd"/><stop offset=".8095" stop-color="#0000dd"/><stop offset=".8125" stop-color="#0000d3"/><stop offset=".8186" stop-color="#0000d3"/><stop offset=".8216" stop-color="#0000c9"/><stop offset=".8247" stop-color="#850096"/><stop offset=".8277" stop-color="#60006e"/><stop offset=".8338" stop-color="#5f006c"/><stop offset=".8369" stop-color="#52005d"/><stop offset=".8430" stop-color="#50005c"/><stop offset=".8460" stop-color="#5b0068"/><stop offset=".8491" stop-color="#4f005a"/><stop offset=".8643" stop-color="#4c0057"/><stop offset=".8704" stop-color="#460051"/><stop offset=".8735" stop-color="#4b0056"/><stop offset=".8857" stop-color="#4c0057"/><stop offset=".8887" stop-color="#34003b"/><stop offset=".8918" stop-color="#2a002f"/><stop offset=".8948" stop-color="#29002f"/><stop offset=".8979" stop-color="#3d0046"/><stop offset=".9070" stop-color="#380040"/><stop offset=".9101" stop-color="#320039"/><stop offset=".9162" stop-color="#310038"/><stop offset=".9192" stop-color="#37003f"/><stop offset=".9284" stop-color="#36003e"/><stop offset=".9314" stop-color="#36003d"/><stop offset=".9345" stop-color="#2b0031"/><stop offset=".9375" stop-color="#29002f"/><stop offset=".9405" stop-color="#220027"/><stop offset=".9436" stop-color="#210025"/><stop offset=".9466" stop-color="#19001c"/><stop offset=".9588" stop-color="#110013"/><stop offset=".9710" stop-color="#110013"/><stop offset=".9741" stop-color="#160019"/><stop offset=".9771" stop-color="#100012"/><stop offset=".9893" stop-color="#130016"/><stop offset=".9924" stop-color="#0f0011"/><stop offset=".9954" stop-color="#150018"/><stop offset=".9985" stop-color="#150018"/></linearGradient><linearGradient id="g33" gradientUnits="userSpaceOnUse" x1="328.75" x2="595.20"><stop offset=".0015" stop-color="#830094"/><stop offset=".0046" stop-color="#7e008f"/><stop offset=".0076" stop-color="#130015"/><stop offset=".0168" stop-color="#130015"/><stop offset=".0229" stop-color="#0f0011"/><stop offset=".0290" stop-color="#0a000c"/><stop offset=".0320" stop-color="#0e0010"/><stop offset=".0381" stop-color="#0a000c"/><stop offset=".0747" stop-color="#0a000c"/><stop offset=".0777" stop-color="#0e0010"/><stop offset=".0838" stop-color="#0a000c"/><stop offset=".0869" stop-color="#0e0010"/><stop offset=".0930" stop-color="#0a000c"/><stop offset=".0991" stop-color="#0e0010"/><stop offset=".1052" stop-color="#0a000c"/><stop offset=".1204" stop-color="#0a000c"/><stop offset=".1235" stop-color="#050005"/><stop offset=".1265" stop-color="#0a000c"/><stop offset=".1418" stop-color="#0a000c"/><stop offset=".1448" stop-color="#0e0010"/><stop offset=".1509" stop-color="#0a000c"/><stop offset=".1753" stop-color="#0a000c"/><stop offset=".1784" stop-color="#0e0010"/><stop offset=".1845" stop-color="#0a000c"/><stop offset=".2027" stop-color="#0a000c"/><stop offset=".2119" stop-color="#35003c"/><stop offset=".2180" stop-color="#6b007a"/><stop offset=".2210" stop-color="#79008a"/><stop offset=".2302" stop-color="#870098"/><stop offset=".2363" stop-color="#4b00a1"/><stop offset=".2424" stop-color="#1a00a7"/><stop offset=".2454" stop-color="#0700a9"/><stop offset=".2485" stop-color="#0000ae"/><stop offset=".2576" stop-color="#0000c7"/><stop offset=".2759" stop-color="#0000dc"/><stop offset=".2973" stop-color="#0017dd"/><stop offset=".3155" stop-color="#0021dd"/><stop offset=".3308" stop-color="#0034dd"/><stop offset=".3491" stop-color="#0032dd"/><stop offset=".3857" stop-color="#004fdd"/><stop offset=".3948" stop-color="#0054dd"/><stop offset=".4162" stop-color="#006cdd"/><stop offset=".4466" stop-color="#0079dd"/><stop offset=".4802" stop-color="#007ddd"/><stop offset=".5046" stop-color="#0074dd"/><stop offset=".5168" stop-color="#0063dd"/><stop offset=".5351" stop-color="#003edd"/><stop offset=".5473" stop-color="#0023dd"/><stop offset=".5595" stop-color="#0000dc"/><stop offset=".6021" stop-color="#0000ab"/><stop offset=".6082" stop-color="#0b00a9"/><stop offset=".6113" stop-color="#1900a7"/><stop offset=".6174" stop-color="#3f00a2"/><stop offset=".6296" stop-color="#5f009e"/><stop offset=".6326" stop-color="#4a00a1"/><stop offset=".6357" stop-color="#6e009c"/><stop offset=".6448" stop-color="#860099"/><stop offset=".6509" stop-color="#870099"/><stop offset=".6540" stop-color="#6a009d"/><stop offset=".6570" stop-color="#870099"/><stop offset=".6692" stop-color="#870099"/><stop offset=".6723" stop-color="#6c009d"/><stop offset=".6753" stop-color="#880099"/><stop offset=".6845" stop-color="#880099"/><stop offset=".6875" stop-color="#6d009c"/><stop offset=".6905" stop-color="#880099"/><stop offset=".7058" stop-color="#870098"/><stop offset=".7119" stop-color="#800091"/><stop offset=".7271" stop-color="#7d008e"/><stop offset=".7302" stop-color="#0000b7"/><stop offset=".7332" stop-color="#7e008f"/><stop offset=".7363" stop-color="#0000be"/><stop offset=".7393" stop-color="#2600a5"/><stop offset=".7424" stop-color="#3400a4"/><stop offset=".7454" stop-color="#0000c5"/><stop offset=".7485" stop-color="#0000b5"/><stop offset=".7515" stop-color="#3400a4"/><stop offset=".7546" stop-color="#3400a4"/><stop offset=".7576" stop-color="#2600a5"/><stop offset=".7607" stop-color="#0000c5"/><stop offset=".7637" stop-color="#0018dd"/><stop offset=".7668" stop-color="#69009d"/><stop offset=".7698" stop-color="#6e009c"/><stop offset=".7729" stop-color="#61009e"/><stop offset=".7759" stop-color="#1200a8"/><stop offset=".7790" stop-color="#71009c"/><stop offset=".7820" stop-color="#64009e"/><stop offset=".7851" stop-color="#0900a9"/><stop offset=".7881" stop-color="#2400a5"/><stop offset=".7912" stop-color="#76009b"/><stop offset=".7942" stop-color="#73009c"/><stop offset=".7973" stop-color="#57009f"/><stop offset=".8003" stop-color="#0500a9"/><stop offset=".8034" stop-color="#0000af"/><stop offset=".8064" stop-color="#5100a0"/><stop offset=".8095" stop-color="#6c009c"/><stop offset=".8125" stop-color="#7a009b"/><stop offset=".8155" stop-color="#73009c"/><stop offset=".8186" stop-color="#75009b"/><stop offset=".8216" stop-color="#3600a3"/><stop offset=".8247" stop-color="#780089"/><stop offset=".8277" stop-color="#45004e"/><stop offset=".8338" stop-color="#44004e"/><stop offset=".8399" stop-color="#3f0048"/><stop offset=".8460" stop-color="#3b0043"/><stop offset=".8491" stop-color="#34003c"/><stop offset=".8613" stop-color="#33003a"/><stop offset=".8643" stop-color="#3c0045"/><stop offset=".8765" stop-color="#3b0043"/><stop offset=".8826" stop-color="#3c0044"/><stop offset=".8857" stop-color="#35003c"/><stop offset=".8887" stop-color="#29002e"/><stop offset=".8918" stop-color="#220027"/><stop offset=".8948" stop-color="#210026"/><stop offset=".8979" stop-color="#35003c"/><stop offset=".9009" stop-color="#35003c"/><stop offset=".9040" stop-color="#2e0034"/><stop offset=".9162" stop-color="#27002c"/><stop offset=".9223" stop-color="#2b0031"/><stop offset=".9314" stop-color="#27002c"/><stop offset=".9345" stop-color="#2c0032"/><stop offset=".9436" stop-color="#26002b"/><stop offset=".9466" stop-color="#19001d"/><stop offset=".9497" stop-color="#19001c"/><stop offset=".9527" stop-color="#1f0024"/><stop offset=".9619" stop-color="#1e0022"/><stop offset=".9649" stop-color="#160019"/><stop offset=".9741" stop-color="#19001c"/><stop offset=".9802" stop-color="#150018"/><stop offset=".9863" stop-color="#160019"/><stop offset=".9893" stop-color="#1b001e"/><stop offset=".9924" stop-color="#19001c"/><stop offset=".9985" stop-color="#1c0020"/></linearGradient><linearGradient id="g34" gradientUnits="userSpaceOnUse" x1="328.75" x2="595.20"><stop offset=".0015" stop-color="#830094"/><stop offset=".0046" stop-color="#7e008f"/><stop offset=".0076" stop-color="#130015"/><stop offset=".0168" stop-color="#130015"/><stop offset=".0229" stop-color="#0f0011"/><stop offset=".1204" stop-color="#0f0011"/><stop offset=".1235" stop-color="#060007"/><stop offset=".1265" stop-color="#0f0011"/><stop offset=".1936" stop-color="#0f0011"/><stop offset=".1997" stop-color="#470051"/><stop offset=".2027" stop-color="#640073"/><stop offset=".2058" stop-color="#7c008d"/><stop offset=".2088" stop-color="#830094"/><stop offset=".2119" stop-color="#81009a"/><stop offset=".2149" stop-color="#2100a6"/><stop offset=".2180" stop-color="#0000b2"/><stop offset=".2210" stop-color="#0000c7"/><stop offset=".2241" stop-color="#0044dd"/><stop offset=".2271" stop-color="#006bdd"/><stop offset=".2302" stop-color="#007fdd"/><stop offset=".2332" stop-color="#008add"/><stop offset=".2393" stop-color="#0096dd"/><stop offset=".2424" stop-color="#009ad9"/><stop offset=".2515" stop-color="#00a6b5"/><stop offset=".2576" stop-color="#00aaa5"/><stop offset=".2973" stop-color="#00aa95"/><stop offset=".3674" stop-color="#00aa9e"/><stop offset=".4558" stop-color="#00aa9c"/><stop offset=".4924" stop-color="#00aaa8"/><stop offset=".5290" stop-color="#009dd0"/><stop offset=".5320" stop-color="#009dd0"/><stop offset=".5381" stop-color="#009ad9"/><stop offset=".5716" stop-color="#0095dd"/><stop offset=".6113" stop-color="#0085dd"/><stop offset=".6235" stop-color="#0079dd"/><stop offset=".6265" stop-color="#0072dd"/><stop offset=".6296" stop-color="#0064dd"/><stop offset=".6326" stop-color="#0065dd"/><stop offset=".6357" stop-color="#0049dd"/><stop offset=".6448" stop-color="#0020dd"/><stop offset=".6509" stop-color="#000fdd"/><stop offset=".6540" stop-color="#0015dd"/><stop offset=".6570" stop-color="#0000dc"/><stop offset=".6692" stop-color="#0000ce"/><stop offset=".6723" stop-color="#0000d1"/><stop offset=".6784" stop-color="#0000c3"/><stop offset=".6845" stop-color="#0000bb"/><stop offset=".6875" stop-color="#0000bd"/><stop offset=".6905" stop-color="#0000b3"/><stop offset=".7027" stop-color="#0000ad"/><stop offset=".7058" stop-color="#0000b1"/><stop offset=".7088" stop-color="#0000aa"/><stop offset=".7210" stop-color="#1200a8"/><stop offset=".7271" stop-color="#2d00a4"/><stop offset=".7302" stop-color="#0000d4"/><stop offset=".7332" stop-color="#4100a2"/><stop offset=".7363" stop-color="#78009b"/><stop offset=".7393" stop-color="#82009a"/><stop offset=".7424" stop-color="#5a009f"/><stop offset=".7454" stop-color="#0000b6"/><stop offset=".7485" stop-color="#0000b6"/><stop offset=".7515" stop-color="#5a009f"/><stop offset=".7576" stop-color="#5a009f"/><stop offset=".7607" stop-color="#0000b6"/><stop offset=".7637" stop-color="#0000d5"/><stop offset=".7668" stop-color="#73009c"/><stop offset=".7729" stop-color="#78009b"/><stop offset=".7820" stop-color="#76009b"/><stop offset=".7851" stop-color="#880099"/><stop offset=".7881" stop-color="#7e008f"/><stop offset=".7912" stop-color="#7c009a"/><stop offset=".7942" stop-color="#75009b"/><stop offset=".7973" stop-color="#83009a"/><stop offset=".8003" stop-color="#7d008e"/><stop offset=".8034" stop-color="#77009b"/><stop offset=".8064" stop-color="#820093"/><stop offset=".8095" stop-color="#770088"/><stop offset=".8155" stop-color="#770088"/><stop offset=".8186" stop-color="#3b0043"/><stop offset=".8216" stop-color="#7d008e"/><stop offset=".8247" stop-color="#770088"/><stop offset=".8338" stop-color="#750085"/><stop offset=".8369" stop-color="#62006f"/><stop offset=".8399" stop-color="#5f006c"/><stop offset=".8430" stop-color="#710081"/><stop offset=".8552" stop-color="#690078"/><stop offset=".8582" stop-color="#570063"/><stop offset=".8613" stop-color="#5a0066"/><stop offset=".8704" stop-color="#540060"/><stop offset=".8735" stop-color="#5c006a"/><stop offset=".8826" stop-color="#52005e"/><stop offset=".8857" stop-color="#4c0056"/><stop offset=".9040" stop-color="#3b0043"/><stop offset=".9070" stop-color="#3c0045"/><stop offset=".9101" stop-color="#34003c"/><stop offset=".9253" stop-color="#28002e"/><stop offset=".9375" stop-color="#2a0030"/><stop offset=".9649" stop-color="#200025"/><stop offset=".9710" stop-color="#210025"/><stop offset=".9832" stop-color="#18001c"/><stop offset=".9985" stop-color="#1a001e"/></linearGradient>
<clipPath id="cl"><rect x="47.15" y="27.8" width="268.05" height="367.8"/></clipPath>
<clipPath id="cr"><rect x="327.15" y="27.8" width="268.05" height="367.8"/></clipPath>
</defs>
<rect width="640" height="440" fill="#fff"/>
<path d="M48.75 27.80h266.45v16.72h-266.45zM49.00 44.47h266.00v2.00h-266.00z" fill="url(#g0)"/><path d="M48.75 44.52h266.45v16.72h-266.45zM49.00 61.19h266.00v2.00h-266.00z" fill="url(#g1)"/><path d="M48.75 61.24h266.45v16.72h-266.45zM49.00 77.90h266.00v2.00h-266.00z" fill="url(#g2)"/><path d="M48.75 77.95h266.45v100.31h-266.45zM49.00 178.21h266.00v2.00h-266.00z" fill="url(#g3)"/><path d="M48.75 178.26h266.45v83.59h-266.45zM49.00 261.80h266.00v2.00h-266.00z" fill="url(#g4)"/><path d="M48.75 261.85h266.45v66.87h-266.45zM49.00 328.68h266.00v2.00h-266.00z" fill="url(#g5)"/><path d="M48.75 328.73h266.45v16.72h-266.45zM49.00 345.40h266.00v2.00h-266.00z" fill="url(#g6)"/><path d="M48.75 345.45h266.45v33.44h-266.45zM49.00 378.83h266.00v2.00h-266.00z" fill="url(#g7)"/><path d="M48.75 378.88h266.45v16.72h-266.45z" fill="url(#g8)"/><path d="M328.75 27.80h266.45v33.44h-266.45zM329.00 61.19h266.00v2.00h-266.00z" fill="url(#g9)"/><path d="M328.75 61.24h266.45v16.72h-266.45zM329.00 77.90h266.00v2.00h-266.00z" fill="url(#g10)"/><path d="M328.75 77.95h266.45v16.72h-266.45zM329.00 94.62h266.00v2.00h-266.00z" fill="url(#g11)"/><path d="M328.75 94.67h266.45v16.72h-266.45zM329.00 111.34h266.00v2.00h-266.00z" fill="url(#g12)"/><path d="M328.75 111.39h266.45v16.72h-266.45zM329.00 128.06h266.00v2.00h-266.00z" fill="url(#g13)"/><path d="M328.75 128.11h266.45v16.72h-266.45zM329.00 144.78h266.00v2.00h-266.00z" fill="url(#g14)"/><path d="M328.75 144.83h266.45v16.72h-266.45zM329.00 161.50h266.00v2.00h-266.00z" fill="url(#g15)"/><path d="M328.75 161.55h266.45v16.72h-266.45zM329.00 178.21h266.00v2.00h-266.00z" fill="url(#g16)"/><path d="M328.75 178.26h266.45v16.72h-266.45zM329.00 194.93h266.00v2.00h-266.00z" fill="url(#g17)"/><path d="M328.75 194.98h266.45v16.72h-266.45zM329.00 211.65h266.00v2.00h-266.00z" fill="url(#g18)"/><path d="M328.75 211.70h266.45v16.72h-266.45zM329.00 228.37h266.00v2.00h-266.00z" fill="url(#g19)"/><path d="M328.75 228.42h266.45v16.72h-266.45zM329.00 245.09h266.00v2.00h-266.00z" fill="url(#g20)"/><path d="M328.75 245.14h266.45v16.72h-266.45zM329.00 261.80h266.00v2.00h-266.00z" fill="url(#g21)"/><path d="M328.75 261.85h266.45v16.72h-266.45zM329.00 278.52h266.00v2.00h-266.00z" fill="url(#g22)"/><path d="M328.75 278.57h266.45v16.72h-266.45zM329.00 295.24h266.00v2.00h-266.00z" fill="url(#g23)"/><path d="M328.75 295.29h266.45v16.72h-266.45zM329.00 311.96h266.00v2.00h-266.00z" fill="url(#g24)"/><path d="M328.75 312.01h266.45v16.72h-266.45zM329.00 328.68h266.00v2.00h-266.00z" fill="url(#g25)"/><path d="M328.75 328.73h266.45v16.72h-266.45zM329.00 345.40h266.00v2.00h-266.00z" fill="url(#g26)"/><path d="M328.75 345.45h266.45v16.72h-266.45zM329.00 362.11h266.00v2.00h-266.00z" fill="url(#g27)"/><path d="M328.75 362.16h266.45v16.72h-266.45zM329.00 378.83h266.00v2.00h-266.00z" fill="url(#g28)"/><path d="M328.75 378.88h266.45v16.72h-266.45z" fill="url(#g29)"/><path d="M328.75 60.69h266.45v1.10h-266.45z" fill="url(#g30)"/><path d="M328.75 77.40h266.45v1.10h-266.45z" fill="url(#g31)"/><path d="M328.75 110.84h266.45v1.10h-266.45z" fill="url(#g32)"/><path d="M328.75 344.90h266.45v1.10h-266.45z" fill="url(#g33)"/><path d="M328.75 378.33h266.45v1.10h-266.45z" fill="url(#g34)"/>
<g font-family="DejaVu Sans, Liberation Sans, sans-serif" font-size="13.89" fill="#000"><text x="32.8" y="42.2" text-anchor="end">On</text><text x="612" y="42.2">On</text><text x="32.8" y="58.9" text-anchor="end">Y</text><text x="612" y="58.9">Y</text><text x="32.8" y="75.6" text-anchor="end">Off</text><text x="612" y="75.6">Off</text><text x="32.8" y="92.3" text-anchor="end">P</text><text x="612" y="92.3">P</text><text x="32.8" y="109.0" text-anchor="end">O</text><text x="612" y="109.0">O</text><text x="32.8" y="125.8" text-anchor="end">N</text><text x="612" y="125.8">N</text><text x="32.8" y="142.5" text-anchor="end">M</text><text x="612" y="142.5">M</text><text x="32.8" y="159.2" text-anchor="end">L</text><text x="612" y="159.2">L</text><text x="32.8" y="175.9" text-anchor="end">K</text><text x="612" y="175.9">K</text><text x="32.8" y="192.6" text-anchor="end">J</text><text x="612" y="192.6">J</text><text x="32.8" y="209.3" text-anchor="end">I</text><text x="612" y="209.3">I</text><text x="32.8" y="226.1" text-anchor="end">H</text><text x="612" y="226.1">H</text><text x="32.8" y="242.8" text-anchor="end">G</text><text x="612" y="242.8">G</text><text x="32.8" y="259.5" text-anchor="end">F</text><text x="612" y="259.5">F</text><text x="32.8" y="276.2" text-anchor="end">E</text><text x="612" y="276.2">E</text><text x="32.8" y="292.9" text-anchor="end">D</text><text x="612" y="292.9">D</text><text x="32.8" y="309.7" text-anchor="end">C</text><text x="612" y="309.7">C</text><text x="32.8" y="326.4" text-anchor="end">B</text><text x="612" y="326.4">B</text><text x="32.8" y="343.1" text-anchor="end">A</text><text x="612" y="343.1">A</text><text x="32.8" y="359.8" text-anchor="end">Off</text><text x="612" y="359.8">Off</text><text x="32.8" y="376.5" text-anchor="end">X</text><text x="612" y="376.5">X</text><text x="32.8" y="393.2" text-anchor="end">On</text><text x="612" y="393.2">On</text>
<text transform="translate(3.1 218) rotate(-90)" text-anchor="middle">Dipole</text></g>
<g font-family="DejaVu Sans, Liberation Sans, sans-serif" font-size="16.67" fill="#000" text-anchor="middle"><text x="181.9" y="15.7">3.8 (Tile128=128) X</text><text x="462" y="15.7">3.8 (Tile128=128) Y</text></g>
<g font-family="DejaVu Sans Condensed, DejaVu Sans, Liberation Sans, sans-serif" font-stretch="condensed" font-size="11.11" fill="#000"><path d="M49.16 408v4.9" stroke="#000" stroke-width="1.1"/><text x="49.16" y="426.3" text-anchor="middle">0</text><path d="M89.77 408v4.9" stroke="#000" stroke-width="1.1"/><text x="89.77" y="426.3" text-anchor="middle">50</text><path d="M130.39 408v4.9" stroke="#000" stroke-width="1.1"/><text x="130.39" y="426.3" text-anchor="middle">100</text><path d="M171.01 408v4.9" stroke="#000" stroke-width="1.1"/><text x="171.01" y="426.3" text-anchor="middle">150</text><path d="M211.63 408v4.9" stroke="#000" stroke-width="1.1"/><text x="211.63" y="426.3" text-anchor="middle">200</text><path d="M252.24 408v4.9" stroke="#000" stroke-width="1.1"/><text x="252.24" y="426.3" text-anchor="middle">250</text><path d="M292.86 408v4.9" stroke="#000" stroke-width="1.1"/><text x="292.86" y="426.3" text-anchor="middle">300</text><path d="M329.16 408v4.9" stroke="#000" stroke-width="1.1"/><text x="329.16" y="426.3" text-anchor="middle">0</text><path d="M369.77 408v4.9" stroke="#000" stroke-width="1.1"/><text x="369.77" y="426.3" text-anchor="middle">50</text><path d="M410.39 408v4.9" stroke="#000" stroke-width="1.1"/><text x="410.39" y="426.3" text-anchor="middle">100</text><path d="M451.01 408v4.9" stroke="#000" stroke-width="1.1"/><text x="451.01" y="426.3" text-anchor="middle">150</text><path d="M491.63 408v4.9" stroke="#000" stroke-width="1.1"/><text x="491.63" y="426.3" text-anchor="middle">200</text><path d="M532.24 408v4.9" stroke="#000" stroke-width="1.1"/><text x="532.24" y="426.3" text-anchor="middle">250</text><path d="M572.86 408v4.9" stroke="#000" stroke-width="1.1"/><text x="572.86" y="426.3" text-anchor="middle">300</text></g>
<g font-family="DejaVu Sans, Liberation Sans, sans-serif" font-size="13.89" fill="#fff"><text x="39" y="288.9" text-anchor="end">0</text><text x="319.1" y="288.9" text-anchor="end">0</text><path d="M70.0 283.4h5.6" stroke="#fff" stroke-width="1.15"/><text x="79.0" y="288.9">0</text><path d="M350.1 283.4h5.6" stroke="#fff" stroke-width="1.15"/><text x="358.9" y="288.9">0</text><text x="39" y="240.9" text-anchor="end">5</text><text x="319.1" y="240.9" text-anchor="end">5</text><path d="M70.0 235.4h5.6" stroke="#fff" stroke-width="1.15"/><text x="79.0" y="240.9">5</text><path d="M350.1 235.4h5.6" stroke="#fff" stroke-width="1.15"/><text x="358.9" y="240.9">5</text><text x="39" y="192.9" text-anchor="end">10</text><text x="319.1" y="192.9" text-anchor="end">10</text><path d="M70.0 187.4h5.6" stroke="#fff" stroke-width="1.15"/><text x="79.0" y="192.9">10</text><path d="M350.1 187.4h5.6" stroke="#fff" stroke-width="1.15"/><text x="358.9" y="192.9">10</text><text x="39" y="144.8" text-anchor="end">15</text><text x="319.1" y="144.8" text-anchor="end">15</text><path d="M70.0 139.3h5.6" stroke="#fff" stroke-width="1.15"/><text x="79.0" y="144.8">15</text><path d="M350.1 139.3h5.6" stroke="#fff" stroke-width="1.15"/><text x="358.9" y="144.8">15</text><text x="39" y="96.8" text-anchor="end">20</text><text x="319.1" y="96.8" text-anchor="end">20</text><path d="M70.0 91.3h5.6" stroke="#fff" stroke-width="1.15"/><text x="79.0" y="96.8">20</text><path d="M350.1 91.3h5.6" stroke="#fff" stroke-width="1.15"/><text x="358.9" y="96.8">20</text><text x="39" y="48.8" text-anchor="end">25</text><text x="319.1" y="48.8" text-anchor="end">25</text><path d="M70.0 43.3h5.6" stroke="#fff" stroke-width="1.15"/><text x="79.0" y="48.8">25</text><path d="M350.1 43.3h5.6" stroke="#fff" stroke-width="1.15"/><text x="358.9" y="48.8">25</text></g>
<rect x="47.55" y="27.8" width="3.55" height="257.59999999999997" fill="#fff"/><rect x="327.55" y="27.8" width="3.35" height="255.59999999999997" fill="#fff"/>
<g fill="none" stroke="#fff" stroke-width="2.7" stroke-linejoin="round" stroke-linecap="square">
<g clip-path="url(#cl)"><polyline points="49.2,286.1 50.0,286.2 50.8,286.0 51.6,286.2 52.4,286.1 53.2,286.0 54.0,286.2 54.8,286.2 55.7,286.1 56.5,286.2 57.3,286.2 58.1,286.2 58.9,286.2 59.7,286.1 60.5,286.3 61.3,286.2 62.2,286.0 63.0,286.0 63.8,286.3 64.6,286.1 65.4,286.2 66.2,286.2 67.0,286.2 67.8,286.2 68.7,286.1 69.5,286.1 70.3,286.1 71.1,286.2 71.9,286.1 72.7,286.1 73.5,286.1 74.3,286.2 75.2,286.1 76.0,286.1 76.8,286.1 77.6,286.1 78.4,286.1 79.2,286.0 80.0,286.1 80.8,286.0 81.7,286.2 82.5,286.2 83.3,286.1 84.1,286.1 84.9,286.1 85.7,286.0 86.5,286.0 87.3,286.1 88.1,286.2 89.0,286.1 89.8,286.0 90.6,286.1 91.4,286.2 92.2,286.2 93.0,286.2 93.8,286.0 94.6,286.1 95.5,286.0 96.3,286.1 97.1,286.1 97.9,286.2 98.7,286.1 99.5,286.2 100.3,286.2 101.1,286.1 102.0,286.1 102.8,286.0 103.6,286.1 104.4,286.4 105.2,286.1 106.0,286.3 106.8,286.0 107.6,286.0 108.5,286.2 109.3,286.2 110.1,286.2 110.9,286.1 111.7,286.2 112.5,286.2 113.3,286.2 114.1,286.0 115.0,286.1 115.8,286.1 116.6,286.1 117.4,286.1 118.2,286.1 119.0,286.2 119.8,286.2 120.6,286.2 121.5,286.2 122.3,286.0 123.1,286.2 123.9,286.1 124.7,286.2 125.5,286.2 126.3,286.1 127.1,286.2 128.0,286.2 128.8,286.1 129.6,286.1 130.4,286.1 131.2,286.1 132.0,286.3 132.8,286.1 133.6,286.1 134.5,286.1 135.3,286.2 136.1,285.9 136.9,286.2 137.7,286.1 138.5,286.1 139.3,286.2 140.1,286.1 141.0,286.2 141.8,286.3 142.6,286.2 143.4,286.1 144.2,286.0 145.0,286.3 145.8,286.1 146.6,286.0 147.5,286.1 148.3,286.2 149.1,286.3 149.9,286.3 150.7,286.2 151.5,286.2 152.3,286.3 153.1,286.3 153.9,286.1 154.8,286.2 155.6,286.2 156.4,286.2 157.2,286.3 158.0,286.1 158.8,286.1 159.6,286.1 160.4,286.2 161.3,286.2 162.1,286.2 162.9,286.2 163.7,286.2 164.5,286.3 165.3,286.4 166.1,286.6 166.9,286.4 167.8,286.5 168.6,286.6 169.4,286.7 170.2,286.7 171.0,286.6 171.8,286.7 172.6,286.9 173.4,286.8 174.3,286.9 175.1,286.9 175.9,286.8 176.7,287.1 177.5,287.2 178.3,287.2 179.1,287.3 179.9,287.2 180.8,287.3 181.6,287.3 182.4,287.4 183.2,287.3 184.0,287.4 184.8,287.3 185.6,287.4 186.4,287.5 187.3,287.3 188.1,287.4 188.9,287.2 189.7,287.3 190.5,287.2 191.3,287.2 192.1,287.2 192.9,287.3 193.8,287.0 194.6,287.1 195.4,286.9 196.2,287.0 197.0,286.9 197.8,286.9 198.6,286.9 199.4,286.8 200.3,286.7 201.1,286.7 201.9,286.7 202.7,286.6 203.5,286.5 204.3,286.4 205.1,286.4 205.9,286.4 206.8,286.4 207.6,286.3 208.4,286.3 209.2,286.3 210.0,286.2 210.8,286.2 211.6,286.2 212.4,286.3 213.3,286.3 214.1,286.3 214.9,286.2 215.7,286.2 216.5,286.1 217.3,286.1 218.1,286.2 218.9,286.0 219.7,286.2 220.6,286.3 221.4,286.2 222.2,286.1 223.0,286.2 223.8,286.2 224.6,286.2 225.4,286.0 226.2,286.2 227.1,286.2 227.9,286.1 228.7,286.2 229.5,286.2 230.3,286.0 231.1,286.2 231.9,286.1 232.7,286.2 233.6,286.2 234.4,286.1 235.2,286.1 236.0,286.2 236.8,286.2 237.6,286.1 238.4,286.1 239.2,286.1 240.1,286.1 240.9,286.3 241.7,286.1 242.5,286.3 243.3,286.2 244.1,286.2 244.9,286.1 245.7,286.1 246.6,286.2 247.4,286.2 248.2,286.2 249.0,286.3 249.8,286.2 250.6,286.2 251.4,286.1 252.2,286.1 253.1,286.1 253.9,286.1 254.7,286.1 255.5,286.0 256.3,286.1 257.1,286.1 257.9,286.0 258.7,286.2 259.6,286.1 260.4,286.1 261.2,286.2 262.0,286.1 262.8,286.2 263.6,286.2 264.4,286.1 265.2,286.1 266.1,286.0 266.9,286.1 267.7,286.1 268.5,286.1 269.3,286.1 270.1,286.2 270.9,286.2 271.7,286.0 272.6,286.2 273.4,286.1 274.2,286.2 275.0,286.1 275.8,286.2 276.6,286.1 277.4,286.3 278.2,286.1 279.1,286.1 279.9,286.3 280.7,286.0 281.5,286.2 282.3,286.1 283.1,286.4 283.9,286.1 284.7,286.2 285.5,286.2 286.4,286.2 287.2,286.2 288.0,286.0 288.8,286.2 289.6,286.1 290.4,286.2 291.2,286.1 292.0,286.2 292.9,286.1 293.7,285.9 294.5,286.1 295.3,286.1 296.1,286.2 296.9,286.1 297.7,286.0 298.5,286.3 299.4,286.2 300.2,286.0 301.0,286.1 301.8,286.1 302.6,286.1 303.4,286.1 304.2,286.1 305.0,286.2 305.9,286.0 306.7,286.1 307.5,286.2 308.3,286.2 309.1,286.1 309.9,286.2 310.7,286.2 311.5,286.1 312.4,286.4 313.2,286.2 314.0,286.1 314.8,286.1"/><polyline points="49.2,286.2 50.0,286.2 50.8,286.0 51.6,286.2 52.4,286.2 53.2,286.0 54.0,286.2 54.8,286.1 55.7,286.1 56.5,286.1 57.3,286.2 58.1,286.2 58.9,286.0 59.7,286.2 60.5,286.1 61.3,286.2 62.2,286.2 63.0,286.1 63.8,286.3 64.6,286.0 65.4,286.2 66.2,286.0 67.0,286.2 67.8,286.1 68.7,286.0 69.5,286.1 70.3,286.2 71.1,286.1 71.9,286.1 72.7,286.2 73.5,286.1 74.3,286.2 75.2,286.1 76.0,286.2 76.8,286.2 77.6,286.1 78.4,286.1 79.2,285.9 80.0,286.2 80.8,286.2 81.7,286.2 82.5,286.1 83.3,286.2 84.1,286.2 84.9,286.0 85.7,286.2 86.5,286.0 87.3,286.1 88.1,286.2 89.0,286.0 89.8,286.2 90.6,286.2 91.4,286.1 92.2,286.0 93.0,286.1 93.8,286.1 94.6,286.0 95.5,286.1 96.3,286.1 97.1,286.2 97.9,286.2 98.7,286.1 99.5,286.0 100.3,286.3 101.1,286.0 102.0,286.1 102.8,286.2 103.6,286.1 104.4,286.0 105.2,286.2 106.0,286.1 106.8,286.1 107.6,286.2 108.5,286.1 109.3,286.1 110.1,286.2 110.9,286.1 111.7,286.2 112.5,286.2 113.3,286.2 114.1,286.1 115.0,286.2 115.8,286.2 116.6,286.2 117.4,286.2 118.2,286.2 119.0,286.1 119.8,286.2 120.6,286.0 121.5,286.1 122.3,286.1 123.1,286.2 123.9,286.0 124.7,286.2 125.5,286.1 126.3,286.0 127.1,286.2 128.0,286.2 128.8,286.1 129.6,286.1 130.4,286.0 131.2,286.1 132.0,286.2 132.8,286.2 133.6,286.1 134.5,286.2 135.3,286.2 136.1,286.0 136.9,286.2 137.7,286.0 138.5,286.2 139.3,286.2 140.1,286.1 141.0,286.3 141.8,286.1 142.6,286.0 143.4,286.1 144.2,286.1 145.0,286.2 145.8,286.2 146.6,286.1 147.5,286.1 148.3,286.0 149.1,286.2 149.9,286.0 150.7,286.2 151.5,286.2 152.3,286.2 153.1,286.2 153.9,286.2 154.8,286.3 155.6,286.2 156.4,286.2 157.2,286.2 158.0,286.1 158.8,286.3 159.6,286.2 160.4,286.3 161.3,286.2 162.1,286.4 162.9,286.3 163.7,286.3 164.5,286.3 165.3,286.5 166.1,286.3 166.9,286.6 167.8,286.4 168.6,286.5 169.4,286.7 170.2,286.5 171.0,286.8 171.8,286.8 172.6,286.8 173.4,286.8 174.3,286.9 175.1,286.9 175.9,287.0 176.7,287.1 177.5,287.2 178.3,287.2 179.1,287.1 179.9,287.3 180.8,287.3 181.6,287.5 182.4,287.4 183.2,287.5 184.0,287.3 184.8,287.5 185.6,287.4 186.4,287.3 187.3,287.3 188.1,287.3 188.9,287.3 189.7,287.3 190.5,287.2 191.3,287.2 192.1,287.2 192.9,287.3 193.8,287.1 194.6,287.0 195.4,287.1 196.2,287.0 197.0,286.9 197.8,286.8 198.6,286.7 199.4,286.9 200.3,286.7 201.1,286.7 201.9,286.6 202.7,286.7 203.5,286.4 204.3,286.5 205.1,286.4 205.9,286.4 206.8,286.4 207.6,286.3 208.4,286.4 209.2,286.3 210.0,286.2 210.8,286.3 211.6,286.3 212.4,286.1 213.3,286.3 214.1,286.2 214.9,286.1 215.7,286.1 216.5,286.1 217.3,286.0 218.1,286.2 218.9,286.2 219.7,286.0 220.6,286.0 221.4,286.2 222.2,286.1 223.0,286.2 223.8,286.3 224.6,286.1 225.4,286.1 226.2,286.1 227.1,286.0 227.9,286.0 228.7,286.2 229.5,286.2 230.3,286.3 231.1,286.1 231.9,286.2 232.7,286.1 233.6,286.1 234.4,286.2 235.2,286.2 236.0,286.3 236.8,286.0 237.6,286.2 238.4,286.1 239.2,286.2 240.1,286.1 240.9,286.1 241.7,286.2 242.5,286.2 243.3,286.0 244.1,286.2 244.9,286.1 245.7,286.1 246.6,286.2 247.4,286.0 248.2,286.1 249.0,286.1 249.8,286.3 250.6,286.1 251.4,286.1 252.2,286.1 253.1,286.1 253.9,286.0 254.7,286.1 255.5,286.1 256.3,286.1 257.1,286.1 257.9,286.2 258.7,286.1 259.6,286.2 260.4,286.3 261.2,286.1 262.0,286.3 262.8,286.2 263.6,286.3 264.4,286.2 265.2,286.2 266.1,286.1 266.9,286.2 267.7,286.2 268.5,286.2 269.3,286.0 270.1,286.2 270.9,286.1 271.7,286.0 272.6,286.3 273.4,286.3 274.2,286.2 275.0,286.2 275.8,286.2 276.6,286.1 277.4,286.1 278.2,286.3 279.1,286.1 279.9,286.2 280.7,286.1 281.5,286.1 282.3,286.0 283.1,286.1 283.9,286.2 284.7,286.1 285.5,286.1 286.4,286.2 287.2,286.2 288.0,286.1 288.8,286.0 289.6,286.2 290.4,286.2 291.2,286.2 292.0,286.1 292.9,286.0 293.7,286.2 294.5,286.2 295.3,286.2 296.1,286.1 296.9,286.1 297.7,286.1 298.5,286.2 299.4,286.2 300.2,286.1 301.0,286.1 301.8,286.2 302.6,286.1 303.4,286.1 304.2,286.1 305.0,286.1 305.9,286.1 306.7,286.1 307.5,286.2 308.3,286.1 309.1,286.1 309.9,286.1 310.7,286.2 311.5,286.2 312.4,286.1 313.2,286.3 314.0,286.1 314.8,286.2"/><polyline points="49.2,286.2 50.0,286.2 50.8,286.3 51.6,286.1 52.4,286.1 53.2,286.1 54.0,286.0 54.8,286.1 55.7,286.1 56.5,286.3 57.3,286.1 58.1,286.1 58.9,286.1 59.7,286.1 60.5,286.2 61.3,286.2 62.2,286.1 63.0,286.1 63.8,286.1 64.6,286.1 65.4,286.2 66.2,286.0 67.0,286.2 67.8,286.3 68.7,286.0 69.5,286.1 70.3,286.1 71.1,286.1 71.9,286.1 72.7,286.2 73.5,286.1 74.3,286.2 75.2,286.2 76.0,286.2 76.8,286.1 77.6,286.1 78.4,286.2 79.2,286.1 80.0,286.3 80.8,286.2 81.7,286.1 82.5,286.1 83.3,286.1 84.1,286.1 84.9,286.3 85.7,286.2 86.5,286.3 87.3,286.1 88.1,286.1 89.0,286.2 89.8,286.2 90.6,286.1 91.4,286.1 92.2,286.1 93.0,286.2 93.8,286.1 94.6,286.1 95.5,286.1 96.3,286.1 97.1,286.1 97.9,286.2 98.7,286.2 99.5,286.1 100.3,286.2 101.1,286.1 102.0,286.2 102.8,286.0 103.6,286.1 104.4,286.1 105.2,286.1 106.0,286.1 106.8,286.1 107.6,286.1 108.5,286.1 109.3,286.1 110.1,286.1 110.9,286.2 111.7,286.1 112.5,286.1 113.3,286.2 114.1,286.0 115.0,286.1 115.8,286.2 116.6,286.2 117.4,286.1 118.2,286.1 119.0,286.2 119.8,286.1 120.6,286.2 121.5,286.2 122.3,286.1 123.1,286.2 123.9,286.1 124.7,286.1 125.5,286.2 126.3,286.3 127.1,286.1 128.0,286.0 128.8,286.3 129.6,286.1 130.4,286.1 131.2,286.3 132.0,286.2 132.8,286.0 133.6,286.1 134.5,286.1 135.3,286.0 136.1,286.2 136.9,286.3 137.7,286.0 138.5,286.2 139.3,286.1 140.1,286.0 141.0,286.1 141.8,286.1 142.6,286.2 143.4,286.1 144.2,286.0 145.0,286.2 145.8,286.2 146.6,286.1 147.5,286.2 148.3,286.1 149.1,286.1 149.9,286.1 150.7,286.1 151.5,286.1 152.3,286.1 153.1,286.2 153.9,286.2 154.8,286.1 155.6,286.3 156.4,286.3 157.2,286.2 158.0,286.2 158.8,286.1 159.6,286.2 160.4,286.0 161.3,286.3 162.1,286.3 162.9,286.1 163.7,286.4 164.5,286.2 165.3,286.6 166.1,286.5 166.9,286.4 167.8,286.4 168.6,286.5 169.4,286.6 170.2,286.6 171.0,286.6 171.8,286.7 172.6,286.7 173.4,286.9 174.3,286.8 175.1,286.9 175.9,286.8 176.7,287.0 177.5,287.1 178.3,287.2 179.1,287.3 179.9,287.4 180.8,287.2 181.6,287.1 182.4,287.3 183.2,287.5 184.0,287.4 184.8,287.4 185.6,287.4 186.4,287.2 187.3,287.3 188.1,287.2 188.9,287.4 189.7,287.3 190.5,287.4 191.3,287.1 192.1,287.3 192.9,287.1 193.8,287.1 194.6,287.0 195.4,287.1 196.2,286.9 197.0,287.0 197.8,286.9 198.6,286.9 199.4,286.6 200.3,286.7 201.1,286.7 201.9,286.6 202.7,286.4 203.5,286.5 204.3,286.5 205.1,286.5 205.9,286.4 206.8,286.2 207.6,286.3 208.4,286.3 209.2,286.4 210.0,286.4 210.8,286.2 211.6,286.2 212.4,286.2 213.3,286.3 214.1,286.1 214.9,286.2 215.7,286.1 216.5,286.1 217.3,286.2 218.1,286.1 218.9,286.1 219.7,286.2 220.6,286.2 221.4,286.1 222.2,286.0 223.0,286.1 223.8,286.0 224.6,286.2 225.4,286.2 226.2,286.1 227.1,286.2 227.9,286.1 228.7,286.0 229.5,286.3 230.3,286.1 231.1,286.1 231.9,286.0 232.7,286.2 233.6,286.1 234.4,286.0 235.2,286.1 236.0,286.0 236.8,286.2 237.6,286.2 238.4,286.1 239.2,286.2 240.1,286.1 240.9,286.1 241.7,286.1 242.5,286.2 243.3,286.2 244.1,286.2 244.9,286.1 245.7,286.1 246.6,286.2 247.4,286.3 248.2,286.3 249.0,286.2 249.8,286.2 250.6,286.2 251.4,286.2 252.2,286.1 253.1,286.2 253.9,286.1 254.7,286.1 255.5,286.1 256.3,286.2 257.1,286.2 257.9,286.2 258.7,286.1 259.6,286.1 260.4,286.0 261.2,286.1 262.0,286.1 262.8,286.1 263.6,286.1 264.4,286.2 265.2,286.1 266.1,286.2 266.9,286.3 267.7,286.2 268.5,286.2 269.3,286.1 270.1,286.2 270.9,286.2 271.7,286.2 272.6,286.1 273.4,286.1 274.2,286.1 275.0,286.1 275.8,286.1 276.6,286.2 277.4,286.1 278.2,286.0 279.1,286.1 279.9,286.1 280.7,286.2 281.5,286.0 282.3,286.2 283.1,286.1 283.9,286.1 284.7,286.1 285.5,286.2 286.4,286.2 287.2,286.3 288.0,286.1 288.8,286.1 289.6,286.1 290.4,286.0 291.2,286.1 292.0,286.1 292.9,286.1 293.7,286.2 294.5,286.1 295.3,286.1 296.1,286.1 296.9,286.1 297.7,286.2 298.5,286.2 299.4,286.2 300.2,286.1 301.0,286.3 301.8,286.1 302.6,285.9 303.4,286.1 304.2,286.1 305.0,286.1 305.9,286.1 306.7,286.1 307.5,286.1 308.3,286.2 309.1,286.0 309.9,286.1 310.7,286.0 311.5,286.1 312.4,286.0 313.2,286.1 314.0,285.9 314.8,286.0"/><polyline points="49.2,286.0 50.0,286.1 50.8,286.2 51.6,286.1 52.4,286.1 53.2,286.1 54.0,286.2 54.8,286.2 55.7,286.2 56.5,286.2 57.3,286.1 58.1,286.1 58.9,286.1 59.7,286.1 60.5,286.1 61.3,286.1 62.2,286.1 63.0,286.1 63.8,286.1 64.6,286.1 65.4,286.1 66.2,286.0 67.0,286.0 67.8,286.3 68.7,286.1 69.5,286.1 70.3,286.1 71.1,286.3 71.9,286.3 72.7,286.2 73.5,286.1 74.3,286.2 75.2,286.1 76.0,286.1 76.8,286.1 77.6,286.1 78.4,286.2 79.2,286.1 80.0,286.3 80.8,286.1 81.7,286.1 82.5,286.1 83.3,286.2 84.1,286.1 84.9,286.1 85.7,286.2 86.5,286.1 87.3,286.1 88.1,286.2 89.0,286.2 89.8,286.0 90.6,286.1 91.4,286.0 92.2,286.1 93.0,286.2 93.8,286.1 94.6,286.2 95.5,286.2 96.3,286.1 97.1,286.0 97.9,286.1 98.7,286.0 99.5,286.2 100.3,286.1 101.1,286.1 102.0,286.3 102.8,286.3 103.6,286.2 104.4,286.1 105.2,286.1 106.0,286.1 106.8,286.2 107.6,286.2 108.5,286.1 109.3,286.0 110.1,286.1 110.9,286.2 111.7,286.1 112.5,286.1 113.3,286.0 114.1,286.2 115.0,286.1 115.8,286.1 116.6,286.2 117.4,286.1 118.2,286.2 119.0,286.1 119.8,286.1 120.6,286.2 121.5,286.1 122.3,286.0 123.1,286.1 123.9,286.3 124.7,286.0 125.5,286.2 126.3,286.1 127.1,286.1 128.0,286.2 128.8,286.2 129.6,286.2 130.4,286.1 131.2,286.1 132.0,286.2 132.8,286.0 133.6,286.1 134.5,286.1 135.3,286.0 136.1,286.1 136.9,286.2 137.7,286.2 138.5,286.1 139.3,286.0 140.1,286.1 141.0,286.1 141.8,286.2 142.6,286.1 143.4,286.0 144.2,286.2 145.0,286.0 145.8,286.1 146.6,286.1 147.5,286.2 148.3,286.2 149.1,286.2 149.9,286.0 150.7,286.2 151.5,286.2 152.3,286.2 153.1,286.2 153.9,286.2 154.8,286.3 155.6,286.1 156.4,286.1 157.2,286.3 158.0,286.1 158.8,286.3 159.6,286.4 160.4,286.4 161.3,286.2 162.1,286.5 162.9,286.3 163.7,286.3 164.5,286.3 165.3,286.4 166.1,286.3 166.9,286.5 167.8,286.4 168.6,286.6 169.4,286.6 170.2,286.7 171.0,286.7 171.8,286.6 172.6,286.8 173.4,286.8 174.3,286.9 175.1,286.9 175.9,287.2 176.7,287.0 177.5,287.2 178.3,287.3 179.1,287.2 179.9,287.3 180.8,287.3 181.6,287.2 182.4,287.3 183.2,287.4 184.0,287.4 184.8,287.2 185.6,287.4 186.4,287.2 187.3,287.3 188.1,287.4 188.9,287.3 189.7,287.4 190.5,287.2 191.3,287.2 192.1,287.2 192.9,287.3 193.8,287.1 194.6,287.1 195.4,287.0 196.2,287.0 197.0,286.9 197.8,286.9 198.6,286.9 199.4,286.7 200.3,286.6 201.1,286.7 201.9,286.7 202.7,286.7 203.5,286.4 204.3,286.6 205.1,286.4 205.9,286.4 206.8,286.4 207.6,286.3 208.4,286.2 209.2,286.2 210.0,286.2 210.8,286.3 211.6,286.1 212.4,286.2 213.3,286.2 214.1,286.2 214.9,286.2 215.7,286.1 216.5,286.2 217.3,286.2 218.1,286.2 218.9,286.1 219.7,286.1 220.6,286.3 221.4,286.1 222.2,286.1 223.0,286.0 223.8,286.1 224.6,286.2 225.4,286.0 226.2,286.1 227.1,286.2 227.9,286.2 228.7,286.1 229.5,286.1 230.3,286.2 231.1,286.1 231.9,286.2 232.7,286.2 233.6,286.2 234.4,286.1 235.2,286.1 236.0,286.1 236.8,286.1 237.6,286.1 238.4,286.1 239.2,286.3 240.1,286.1 240.9,286.2 241.7,286.2 242.5,286.1 243.3,286.1 244.1,286.1 244.9,286.2 245.7,286.0 246.6,286.1 247.4,286.1 248.2,286.1 249.0,286.2 249.8,286.3 250.6,286.3 251.4,286.1 252.2,286.3 253.1,286.0 253.9,286.1 254.7,286.2 255.5,286.2 256.3,286.3 257.1,286.1 257.9,286.1 258.7,286.0 259.6,286.2 260.4,286.1 261.2,286.1 262.0,286.1 262.8,286.1 263.6,286.1 264.4,286.0 265.2,286.0 266.1,286.1 266.9,286.2 267.7,286.2 268.5,286.1 269.3,286.1 270.1,286.2 270.9,286.0 271.7,286.0 272.6,286.1 273.4,286.2 274.2,286.1 275.0,286.2 275.8,286.2 276.6,286.1 277.4,286.2 278.2,286.1 279.1,285.9 279.9,286.1 280.7,286.1 281.5,286.1 282.3,286.1 283.1,286.0 283.9,286.1 284.7,286.1 285.5,286.2 286.4,286.2 287.2,286.1 288.0,286.1 288.8,286.2 289.6,286.0 290.4,286.2 291.2,286.1 292.0,286.1 292.9,286.0 293.7,286.2 294.5,286.2 295.3,286.2 296.1,286.1 296.9,286.1 297.7,286.2 298.5,286.2 299.4,286.2 300.2,286.0 301.0,286.1 301.8,286.1 302.6,286.3 303.4,286.1 304.2,286.1 305.0,286.1 305.9,286.3 306.7,286.0 307.5,286.1 308.3,286.1 309.1,286.2 309.9,286.0 310.7,286.1 311.5,286.1 312.4,286.1 313.2,286.1 314.0,286.1 314.8,286.1"/><polyline points="49.2,286.0 50.0,286.1 50.8,286.2 51.6,286.1 52.4,286.0 53.2,286.2 54.0,286.1 54.8,286.0 55.7,286.1 56.5,286.2 57.3,286.1 58.1,286.1 58.9,286.1 59.7,286.1 60.5,286.0 61.3,286.2 62.2,286.1 63.0,286.1 63.8,286.2 64.6,286.2 65.4,286.2 66.2,286.1 67.0,286.1 67.8,286.1 68.7,286.0 69.5,286.2 70.3,286.1 71.1,286.1 71.9,286.3 72.7,286.1 73.5,286.3 74.3,286.2 75.2,286.2 76.0,286.1 76.8,286.2 77.6,286.2 78.4,286.1 79.2,286.1 80.0,286.2 80.8,286.1 81.7,286.1 82.5,286.2 83.3,286.3 84.1,286.2 84.9,286.2 85.7,286.0 86.5,286.2 87.3,286.1 88.1,286.0 89.0,286.1 89.8,286.1 90.6,286.0 91.4,286.1 92.2,286.3 93.0,286.1 93.8,286.3 94.6,286.2 95.5,286.1 96.3,286.3 97.1,286.1 97.9,286.0 98.7,286.2 99.5,286.3 100.3,286.0 101.1,286.2 102.0,286.2 102.8,286.2 103.6,286.2 104.4,286.2 105.2,286.0 106.0,286.2 106.8,286.3 107.6,286.3 108.5,286.2 109.3,286.0 110.1,286.3 110.9,286.2 111.7,286.1 112.5,286.2 113.3,286.2 114.1,286.2 115.0,286.1 115.8,286.2 116.6,286.0 117.4,286.3 118.2,286.1 119.0,286.1 119.8,286.1 120.6,286.2 121.5,286.1 122.3,286.2 123.1,286.2 123.9,286.2 124.7,286.1 125.5,286.2 126.3,286.2 127.1,286.1 128.0,286.1 128.8,286.1 129.6,286.0 130.4,286.3 131.2,286.2 132.0,286.1 132.8,286.0 133.6,286.2 134.5,286.2 135.3,286.1 136.1,286.2 136.9,286.2 137.7,286.1 138.5,286.2 139.3,286.1 140.1,286.1 141.0,286.2 141.8,286.1 142.6,286.1 143.4,286.1 144.2,286.2 145.0,286.0 145.8,286.2 146.6,286.1 147.5,286.1 148.3,286.3 149.1,286.2 149.9,286.3 150.7,286.2 151.5,286.1 152.3,286.2 153.1,286.2 153.9,286.1 154.8,286.2 155.6,286.2 156.4,286.3 157.2,286.2 158.0,286.2 158.8,286.1 159.6,286.1 160.4,286.4 161.3,286.3 162.1,286.3 162.9,286.3 163.7,286.3 164.5,286.4 165.3,286.3 166.1,286.4 166.9,286.4 167.8,286.6 168.6,286.5 169.4,286.7 170.2,286.6 171.0,286.6 171.8,286.8 172.6,286.8 173.4,286.7 174.3,286.9 175.1,287.0 175.9,287.0 176.7,287.0 177.5,287.0 178.3,287.2 179.1,287.1 179.9,287.2 180.8,287.2 181.6,287.3 182.4,287.4 183.2,287.3 184.0,287.3 184.8,287.4 185.6,287.5 186.4,287.5 187.3,287.4 188.1,287.3 188.9,287.4 189.7,287.2 190.5,287.3 191.3,287.3 192.1,287.2 192.9,287.2 193.8,287.0 194.6,287.0 195.4,287.0 196.2,287.0 197.0,286.9 197.8,286.8 198.6,286.8 199.4,286.8 200.3,286.6 201.1,286.6 201.9,286.6 202.7,286.6 203.5,286.7 204.3,286.5 205.1,286.5 205.9,286.4 206.8,286.4 207.6,286.4 208.4,286.3 209.2,286.3 210.0,286.3 210.8,286.3 211.6,286.1 212.4,286.2 213.3,286.2 214.1,286.2 214.9,286.3 215.7,286.3 216.5,286.3 217.3,286.2 218.1,286.2 218.9,286.3 219.7,286.1 220.6,286.2 221.4,286.1 222.2,286.2 223.0,286.4 223.8,286.1 224.6,286.1 225.4,286.0 226.2,286.1 227.1,286.1 227.9,286.0 228.7,286.4 229.5,286.3 230.3,286.3 231.1,286.1 231.9,286.2 232.7,286.1 233.6,286.3 234.4,286.2 235.2,286.1 236.0,286.2 236.8,286.2 237.6,286.1 238.4,286.2 239.2,286.2 240.1,286.2 240.9,286.1 241.7,286.2 242.5,286.2 243.3,286.2 244.1,286.3 244.9,286.2 245.7,286.2 246.6,286.3 247.4,286.2 248.2,286.1 249.0,286.0 249.8,286.2 250.6,286.0 251.4,286.1 252.2,286.1 253.1,286.2 253.9,286.3 254.7,286.2 255.5,286.2 256.3,286.2 257.1,286.1 257.9,286.2 258.7,286.1 259.6,286.2 260.4,286.0 261.2,286.2 262.0,286.2 262.8,286.0 263.6,286.3 264.4,286.0 265.2,286.1 266.1,286.2 266.9,286.2 267.7,286.1 268.5,286.1 269.3,286.2 270.1,286.1 270.9,286.1 271.7,286.1 272.6,286.0 273.4,286.2 274.2,286.1 275.0,286.1 275.8,286.1 276.6,286.0 277.4,286.1 278.2,286.2 279.1,286.0 279.9,286.2 280.7,286.1 281.5,286.1 282.3,286.1 283.1,286.3 283.9,286.1 284.7,286.2 285.5,286.0 286.4,286.0 287.2,286.0 288.0,286.2 288.8,286.1 289.6,286.2 290.4,286.1 291.2,286.1 292.0,286.1 292.9,286.0 293.7,286.2 294.5,286.1 295.3,286.1 296.1,286.1 296.9,286.3 297.7,286.2 298.5,286.2 299.4,286.2 300.2,286.1 301.0,286.2 301.8,286.2 302.6,286.1 303.4,286.1 304.2,286.1 305.0,286.1 305.9,286.1 306.7,286.1 307.5,286.1 308.3,286.2 309.1,286.1 309.9,286.0 310.7,286.2 311.5,286.0 312.4,286.1 313.2,286.1 314.0,286.0 314.8,286.2"/><polyline points="49.2,286.1 50.0,286.2 50.8,286.1 51.6,286.3 52.4,286.1 53.2,286.1 54.0,286.2 54.8,286.0 55.7,286.2 56.5,286.2 57.3,286.2 58.1,286.1 58.9,286.2 59.7,286.2 60.5,286.1 61.3,286.2 62.2,286.1 63.0,286.2 63.8,286.1 64.6,286.2 65.4,286.1 66.2,286.1 67.0,286.1 67.8,286.0 68.7,286.2 69.5,286.2 70.3,286.2 71.1,286.2 71.9,286.1 72.7,286.2 73.5,286.1 74.3,286.1 75.2,286.1 76.0,286.2 76.8,286.1 77.6,286.2 78.4,286.3 79.2,286.2 80.0,286.2 80.8,286.2 81.7,286.1 82.5,286.2 83.3,286.1 84.1,286.1 84.9,286.2 85.7,286.2 86.5,286.0 87.3,286.1 88.1,286.1 89.0,286.2 89.8,286.2 90.6,286.2 91.4,286.2 92.2,286.1 93.0,286.2 93.8,286.2 94.6,286.2 95.5,286.0 96.3,286.2 97.1,286.1 97.9,286.3 98.7,286.0 99.5,286.0 100.3,286.2 101.1,286.0 102.0,286.2 102.8,286.2 103.6,286.0 104.4,286.1 105.2,286.2 106.0,286.1 106.8,286.2 107.6,286.2 108.5,286.1 109.3,286.3 110.1,286.2 110.9,286.1 111.7,286.1 112.5,286.1 113.3,286.2 114.1,286.3 115.0,285.9 115.8,286.2 116.6,286.1 117.4,286.2 118.2,286.1 119.0,286.3 119.8,286.2 120.6,286.1 121.5,286.2 122.3,286.1 123.1,286.1 123.9,286.1 124.7,286.1 125.5,286.2 126.3,286.2 127.1,286.2 128.0,286.1 128.8,286.3 129.6,286.1 130.4,286.3 131.2,286.1 132.0,286.1 132.8,286.2 133.6,286.3 134.5,286.1 135.3,286.1 136.1,286.2 136.9,286.1 137.7,286.1 138.5,286.2 139.3,286.3 140.1,286.1 141.0,286.2 141.8,286.3 142.6,286.2 143.4,286.0 144.2,286.1 145.0,286.1 145.8,286.2 146.6,286.1 147.5,286.1 148.3,286.2 149.1,286.2 149.9,286.2 150.7,286.2 151.5,286.1 152.3,286.2 153.1,286.2 153.9,286.1 154.8,286.2 155.6,286.2 156.4,286.3 157.2,286.3 158.0,286.3 158.8,286.2 159.6,286.2 160.4,286.2 161.3,286.2 162.1,286.3 162.9,286.2 163.7,286.3 164.5,286.3 165.3,286.5 166.1,286.4 166.9,286.5 167.8,286.6 168.6,286.7 169.4,286.5 170.2,286.6 171.0,286.5 171.8,286.7 172.6,286.8 173.4,286.9 174.3,286.8 175.1,287.0 175.9,286.8 176.7,286.9 177.5,287.3 178.3,287.2 179.1,287.3 179.9,287.3 180.8,287.4 181.6,287.3 182.4,287.2 183.2,287.3 184.0,287.3 184.8,287.3 185.6,287.3 186.4,287.3 187.3,287.4 188.1,287.2 188.9,287.4 189.7,287.4 190.5,287.2 191.3,287.3 192.1,287.3 192.9,287.1 193.8,287.1 194.6,287.1 195.4,287.1 196.2,287.0 197.0,286.9 197.8,286.9 198.6,286.8 199.4,286.6 200.3,286.6 201.1,286.7 201.9,286.6 202.7,286.6 203.5,286.5 204.3,286.3 205.1,286.3 205.9,286.4 206.8,286.3 207.6,286.5 208.4,286.3 209.2,286.2 210.0,286.3 210.8,286.4 211.6,286.2 212.4,286.2 213.3,286.2 214.1,286.2 214.9,286.2 215.7,286.1 216.5,286.1 217.3,286.2 218.1,286.1 218.9,286.2 219.7,286.2 220.6,286.2 221.4,286.1 222.2,286.1 223.0,286.1 223.8,286.2 224.6,286.1 225.4,286.2 226.2,286.1 227.1,286.2 227.9,286.0 228.7,286.2 229.5,286.2 230.3,286.1 231.1,286.1 231.9,286.1 232.7,286.1 233.6,286.3 234.4,286.2 235.2,286.0 236.0,286.1 236.8,286.1 237.6,286.1 238.4,286.0 239.2,286.1 240.1,286.1 240.9,286.1 241.7,286.1 242.5,286.1 243.3,286.1 244.1,286.1 244.9,286.2 245.7,286.2 246.6,286.1 247.4,286.1 248.2,286.0 249.0,286.1 249.8,286.1 250.6,286.2 251.4,286.1 252.2,286.1 253.1,286.1 253.9,286.2 254.7,286.1 255.5,286.1 256.3,286.3 257.1,286.1 257.9,286.2 258.7,286.2 259.6,286.2 260.4,286.2 261.2,286.2 262.0,286.1 262.8,286.1 263.6,286.2 264.4,286.2 265.2,286.2 266.1,286.0 266.9,286.1 267.7,286.2 268.5,286.2 269.3,286.1 270.1,286.1 270.9,286.0 271.7,286.3 272.6,286.1 273.4,286.1 274.2,286.1 275.0,286.2 275.8,286.1 276.6,286.1 277.4,286.1 278.2,286.1 279.1,286.2 279.9,286.1 280.7,286.2 281.5,286.3 282.3,286.2 283.1,286.1 283.9,286.0 284.7,286.2 285.5,286.0 286.4,286.2 287.2,286.2 288.0,286.3 288.8,286.1 289.6,286.1 290.4,286.1 291.2,286.2 292.0,286.1 292.9,286.2 293.7,286.2 294.5,286.0 295.3,286.2 296.1,286.1 296.9,286.1 297.7,286.1 298.5,286.2 299.4,286.2 300.2,286.2 301.0,286.0 301.8,286.3 302.6,286.2 303.4,286.2 304.2,286.2 305.0,286.2 305.9,286.2 306.7,286.1 307.5,286.2 308.3,286.2 309.1,286.1 309.9,286.2 310.7,286.0 311.5,286.2 312.4,286.2 313.2,286.1 314.0,286.1 314.8,286.2"/></g><g clip-path="url(#cr)"><polyline points="329.2,283.4 330.0,283.4 330.8,283.4 331.6,283.4 332.4,283.4 333.2,283.4 334.0,283.4 334.8,283.4 335.7,283.4 336.5,283.4 337.3,283.4 338.1,283.4 338.9,283.4 339.7,283.4 340.5,283.4 341.3,283.4 342.2,283.4 343.0,283.4 343.8,283.4 344.6,283.4 345.4,283.4 346.2,283.4 347.0,283.4 347.8,283.4 348.7,283.4 349.5,283.4 350.3,283.4 351.1,283.4 351.9,283.4 352.7,283.4 353.5,283.4 354.3,283.4 355.2,283.4 356.0,283.4 356.8,283.4 357.6,283.4 358.4,283.4 359.2,283.4 360.0,283.4 360.8,283.4 361.7,283.4 362.5,283.4 363.3,283.4 364.1,283.4 364.9,283.4 365.7,283.4 366.5,283.4 367.3,283.4 368.1,283.4 369.0,283.4 369.8,283.4 370.6,283.4 371.4,283.4 372.2,283.4 373.0,283.4 373.8,283.4 374.6,283.4 375.5,283.4 376.3,283.4 377.1,283.4 377.9,283.4 378.7,283.4 379.5,283.4 380.3,283.4 381.1,283.4 382.0,283.4 382.8,283.4 383.6,282.1 384.4,279.3 385.2,276.6 386.0,273.8 386.8,267.4 387.6,261.0 388.5,254.6 389.3,247.2 390.1,238.3 390.9,229.3 391.7,221.0 392.5,214.4 393.3,209.8 394.1,205.8 395.0,202.3 395.8,198.9 396.6,195.7 397.4,192.6 398.2,189.7 399.0,187.8 399.8,185.5 400.6,185.1 401.5,184.2 402.3,182.2 403.1,181.4 403.9,180.8 404.7,180.7 405.5,180.4 406.3,179.4 407.1,178.8 408.0,179.2 408.8,178.7 409.6,178.0 410.4,177.3 411.2,176.7 412.0,176.1 412.8,176.3 413.6,176.1 414.5,174.9 415.3,175.4 416.1,174.9 416.9,174.9 417.7,174.5 418.5,173.4 419.3,172.4 420.1,173.0 421.0,172.0 421.8,172.7 422.6,172.7 423.4,173.1 424.2,172.2 425.0,171.6 425.8,170.9 426.6,170.2 427.5,169.8 428.3,169.2 429.1,168.0 429.9,168.8 430.7,169.3 431.5,168.8 432.3,168.7 433.1,168.3 433.9,167.5 434.8,166.5 435.6,165.8 436.4,164.7 437.2,163.7 438.0,163.3 438.8,163.5 439.6,163.1 440.4,162.1 441.3,161.6 442.1,162.5 442.9,162.5 443.7,161.8 444.5,160.6 445.3,160.5 446.1,160.9 446.9,160.8 447.8,160.4 448.6,161.6 449.4,161.2 450.2,161.5 451.0,161.3 451.8,161.8 452.6,161.5 453.4,160.7 454.3,159.2 455.1,159.7 455.9,158.6 456.7,157.3 457.5,158.6 458.3,159.7 459.1,160.3 459.9,161.8 460.8,162.3 461.6,163.1 462.4,164.8 463.2,165.3 464.0,165.8 464.8,167.2 465.6,166.8 466.4,167.6 467.3,168.6 468.1,169.4 468.9,170.5 469.7,171.8 470.5,172.6 471.3,174.7 472.1,176.7 472.9,178.7 473.8,180.1 474.6,180.5 475.4,181.6 476.2,183.0 477.0,184.6 477.8,185.9 478.6,187.2 479.4,189.6 480.3,191.6 481.1,193.7 481.9,195.6 482.7,197.6 483.5,199.6 484.3,201.9 485.1,203.3 485.9,205.2 486.8,206.8 487.6,208.4 488.4,210.5 489.2,212.0 490.0,213.9 490.8,215.1 491.6,216.7 492.4,217.7 493.3,219.2 494.1,220.6 494.9,222.0 495.7,222.5 496.5,224.5 497.3,225.1 498.1,226.3 498.9,227.1 499.7,228.1 500.6,230.5 501.4,233.1 502.2,234.5 503.0,236.3 503.8,238.3 504.6,240.1 505.4,240.8 506.2,241.5 507.1,241.6 507.9,242.5 508.7,243.1 509.5,243.8 510.3,244.7 511.1,245.7 511.9,246.6 512.7,247.3 513.6,247.7 514.4,248.5 515.2,248.8 516.0,249.1 516.8,249.4 517.6,249.4 518.4,250.0 519.2,250.6 520.1,251.4 520.9,252.3 521.7,252.2 522.5,237.2 523.3,229.9 524.1,204.9 524.9,208.0 525.7,237.0 526.6,223.0 527.4,192.9 528.2,206.8 529.0,210.6 529.8,238.4 530.6,198.3 531.4,192.1 532.2,227.4 533.1,216.9 533.9,218.3 534.7,249.8 535.5,251.5 536.3,248.2 537.1,228.3 537.9,238.9 538.7,224.9 539.6,251.4 540.4,222.9 541.2,231.6 542.0,218.6 542.8,205.5 543.6,226.4 544.4,230.9 545.2,240.4 546.1,250.9 546.9,258.8 547.7,264.2 548.5,269.4 549.3,273.5 550.1,277.7 550.9,277.8 551.7,277.8 552.6,277.9 553.4,278.0 554.2,278.1 555.0,278.2 555.8,278.3 556.6,278.4 557.4,278.5 558.2,278.6 559.1,278.7 559.9,278.8 560.7,278.9 561.5,279.0 562.3,279.1 563.1,279.2 563.9,279.3 564.7,279.4 565.5,279.5 566.4,279.7 567.2,279.8 568.0,279.9 568.8,280.1 569.6,280.2 570.4,280.4 571.2,280.5 572.0,280.7 572.9,280.8 573.7,281.0 574.5,281.1 575.3,281.2 576.1,281.4 576.9,281.5 577.7,281.7 578.5,281.8 579.4,282.0 580.2,282.1 581.0,282.2 581.8,282.3 582.6,282.4 583.4,282.5 584.2,282.5 585.0,282.6 585.9,282.7 586.7,282.7 587.5,282.8 588.3,282.9 589.1,282.9 589.9,283.0 590.7,283.1 591.5,283.1 592.4,283.2 593.2,283.3 594.0,283.3 594.8,283.4"/><polyline points="329.2,283.4 330.0,283.4 330.8,283.4 331.6,283.4 332.4,283.4 333.2,283.4 334.0,283.4 334.8,283.4 335.7,283.4 336.5,283.4 337.3,283.4 338.1,283.4 338.9,283.4 339.7,283.4 340.5,283.4 341.3,283.4 342.2,283.4 343.0,283.4 343.8,283.4 344.6,283.4 345.4,283.4 346.2,283.4 347.0,283.4 347.8,283.4 348.7,283.4 349.5,283.4 350.3,283.4 351.1,283.4 351.9,283.4 352.7,283.4 353.5,283.4 354.3,283.4 355.2,283.4 356.0,283.4 356.8,283.4 357.6,283.4 358.4,283.4 359.2,283.4 360.0,283.4 360.8,283.4 361.7,283.4 362.5,283.4 363.3,283.4 364.1,283.4 364.9,283.4 365.7,283.4 366.5,283.4 367.3,283.4 368.1,283.4 369.0,283.4 369.8,283.4 370.6,283.4 371.4,283.4 372.2,283.4 373.0,283.4 373.8,283.4 374.6,283.4 375.5,283.4 376.3,283.4 377.1,283.4 377.9,283.4 378.7,283.4 379.5,283.4 380.3,283.4 381.1,283.4 382.0,283.4 382.8,283.4 383.6,282.2 384.4,279.8 385.2,277.4 386.0,274.9 386.8,270.9 387.6,265.5 388.5,260.1 389.3,254.6 390.1,249.2 390.9,244.1 391.7,239.0 392.5,233.9 393.3,229.2 394.1,224.7 395.0,221.4 395.8,218.3 396.6,215.3 397.4,212.5 398.2,209.7 399.0,206.9 399.8,204.6 400.6,202.8 401.5,200.0 402.3,197.5 403.1,195.6 403.9,194.6 404.7,193.2 405.5,192.7 406.3,192.3 407.1,191.7 408.0,192.1 408.8,191.9 409.6,190.6 410.4,190.7 411.2,189.3 412.0,188.0 412.8,187.6 413.6,187.4 414.5,186.0 415.3,186.6 416.1,185.7 416.9,185.8 417.7,185.8 418.5,185.4 419.3,184.4 420.1,185.4 421.0,185.4 421.8,185.1 422.6,185.7 423.4,186.5 424.2,185.4 425.0,184.3 425.8,183.5 426.6,182.3 427.5,183.2 428.3,181.6 429.1,180.7 429.9,181.1 430.7,182.2 431.5,181.6 432.3,181.6 433.1,180.9 433.9,180.0 434.8,178.8 435.6,177.8 436.4,176.6 437.2,175.1 438.0,174.4 438.8,173.6 439.6,173.6 440.4,172.3 441.3,171.7 442.1,172.3 442.9,172.6 443.7,172.0 444.5,171.3 445.3,170.0 446.1,169.8 446.9,169.4 447.8,167.7 448.6,167.2 449.4,166.9 450.2,166.2 451.0,166.8 451.8,166.9 452.6,166.1 453.4,165.6 454.3,165.3 455.1,164.5 455.9,163.0 456.7,161.6 457.5,162.3 458.3,163.6 459.1,164.5 459.9,165.6 460.8,165.6 461.6,166.4 462.4,167.2 463.2,167.0 464.0,167.5 464.8,168.0 465.6,167.4 466.4,168.4 467.3,169.0 468.1,169.7 468.9,170.5 469.7,171.2 470.5,171.6 471.3,173.4 472.1,174.7 472.9,176.3 473.8,177.2 474.6,177.6 475.4,179.0 476.2,180.4 477.0,181.7 477.8,182.7 478.6,183.6 479.4,185.6 480.3,187.9 481.1,189.5 481.9,191.7 482.7,193.9 483.5,196.2 484.3,198.5 485.1,200.1 485.9,202.1 486.8,203.6 487.6,205.0 488.4,206.9 489.2,208.4 490.0,210.3 490.8,211.5 491.6,213.0 492.4,214.3 493.3,216.0 494.1,217.4 494.9,218.9 495.7,219.6 496.5,221.6 497.3,222.4 498.1,223.8 498.9,224.5 499.7,225.6 500.6,228.1 501.4,230.7 502.2,232.2 503.0,234.0 503.8,236.1 504.6,238.0 505.4,239.0 506.2,239.8 507.1,240.0 507.9,241.0 508.7,241.7 509.5,242.5 510.3,243.4 511.1,244.6 511.9,245.4 512.7,246.1 513.6,246.6 514.4,247.6 515.2,247.7 516.0,248.0 516.8,248.3 517.6,248.3 518.4,248.9 519.2,249.4 520.1,250.2 520.9,251.0 521.7,251.2 522.5,232.4 523.3,237.5 524.1,214.9 524.9,222.0 525.7,195.8 526.6,189.8 527.4,201.4 528.2,197.1 529.0,215.2 529.8,248.6 530.6,195.4 531.4,205.4 532.2,172.1 533.1,182.9 533.9,228.6 534.7,247.5 535.5,247.6 536.3,250.7 537.1,218.3 537.9,232.2 538.7,217.0 539.6,250.4 540.4,211.8 541.2,218.1 542.0,218.7 542.8,240.1 543.6,233.1 544.4,233.8 545.2,243.5 546.1,253.6 546.9,257.6 547.7,263.6 548.5,269.1 549.3,273.3 550.1,277.6 550.9,277.7 551.7,277.8 552.6,277.9 553.4,277.9 554.2,278.0 555.0,278.1 555.8,278.2 556.6,278.3 557.4,278.4 558.2,278.5 559.1,278.6 559.9,278.7 560.7,278.8 561.5,278.9 562.3,279.0 563.1,279.1 563.9,279.2 564.7,279.3 565.5,279.4 566.4,279.6 567.2,279.7 568.0,279.9 568.8,280.0 569.6,280.1 570.4,280.3 571.2,280.4 572.0,280.6 572.9,280.7 573.7,280.9 574.5,281.0 575.3,281.2 576.1,281.3 576.9,281.4 577.7,281.6 578.5,281.7 579.4,281.9 580.2,282.0 581.0,282.2 581.8,282.2 582.6,282.3 583.4,282.4 584.2,282.5 585.0,282.5 585.9,282.6 586.7,282.7 587.5,282.7 588.3,282.8 589.1,282.9 589.9,283.0 590.7,283.0 591.5,283.1 592.4,283.2 593.2,283.3 594.0,283.3 594.8,283.4"/><polyline points="329.2,283.4 330.0,283.4 330.8,283.4 331.6,283.4 332.4,283.4 333.2,283.4 334.0,283.4 334.8,283.4 335.7,283.4 336.5,283.4 337.3,283.4 338.1,283.4 338.9,283.4 339.7,283.4 340.5,283.4 341.3,283.4 342.2,283.4 343.0,283.4 343.8,283.4 344.6,283.4 345.4,283.4 346.2,283.4 347.0,283.4 347.8,283.4 348.7,283.4 349.5,283.4 350.3,283.4 351.1,283.4 351.9,283.4 352.7,283.4 353.5,283.4 354.3,283.4 355.2,283.4 356.0,283.4 356.8,283.4 357.6,283.4 358.4,283.4 359.2,283.4 360.0,283.4 360.8,283.4 361.7,283.4 362.5,283.4 363.3,283.4 364.1,283.4 364.9,283.4 365.7,283.4 366.5,283.4 367.3,283.4 368.1,283.4 369.0,283.4 369.8,283.4 370.6,283.4 371.4,283.4 372.2,283.4 373.0,283.4 373.8,283.4 374.6,283.4 375.5,283.4 376.3,283.4 377.1,283.4 377.9,283.4 378.7,283.4 379.5,283.4 380.3,283.4 381.1,283.4 382.0,283.4 382.8,283.4 383.6,282.1 384.4,279.5 385.2,276.8 386.0,274.2 386.8,268.5 387.6,262.4 388.5,256.3 389.3,249.5 390.1,241.7 390.9,234.0 391.7,226.7 392.5,220.5 393.3,215.9 394.1,211.8 395.0,208.4 395.8,205.0 396.6,201.8 397.4,198.5 398.2,195.6 399.0,193.3 399.8,190.9 400.6,189.9 401.5,189.3 402.3,187.6 403.1,186.7 403.9,185.3 404.7,184.0 405.5,183.8 406.3,182.9 407.1,181.9 408.0,182.2 408.8,182.4 409.6,182.1 410.4,183.0 411.2,182.8 412.0,182.3 412.8,182.5 413.6,181.2 414.5,179.2 415.3,178.6 416.1,176.9 416.9,177.0 417.7,175.8 418.5,174.7 419.3,174.4 420.1,176.0 421.0,176.7 421.8,177.4 422.6,177.6 423.4,178.3 424.2,177.2 425.0,176.7 425.8,175.2 426.6,174.5 427.5,174.5 428.3,172.5 429.1,171.7 429.9,172.9 430.7,173.2 431.5,172.9 432.3,173.3 433.1,173.3 433.9,173.0 434.8,171.8 435.6,170.3 436.4,169.5 437.2,167.8 438.0,165.9 438.8,164.8 439.6,164.3 440.4,164.3 441.3,164.0 442.1,164.9 442.9,165.6 443.7,165.0 444.5,164.5 445.3,164.0 446.1,162.9 446.9,163.3 447.8,161.3 448.6,161.4 449.4,160.8 450.2,161.1 451.0,161.1 451.8,161.7 452.6,160.8 453.4,160.4 454.3,159.8 455.1,160.5 455.9,159.2 456.7,158.1 457.5,159.2 458.3,160.2 459.1,162.6 459.9,164.2 460.8,164.0 461.6,164.7 462.4,164.9 463.2,164.7 464.0,165.1 464.8,165.2 465.6,165.1 466.4,166.1 467.3,166.9 468.1,168.5 468.9,169.6 469.7,170.8 470.5,171.4 471.3,173.3 472.1,175.0 472.9,177.1 473.8,178.3 474.6,179.0 475.4,180.0 476.2,181.3 477.0,182.7 477.8,183.7 478.6,184.5 479.4,186.6 480.3,188.6 481.1,190.4 481.9,192.7 482.7,194.8 483.5,196.9 484.3,199.4 485.1,201.0 485.9,203.0 486.8,204.8 487.6,206.3 488.4,208.2 489.2,209.8 490.0,211.7 490.8,212.9 491.6,214.4 492.4,215.4 493.3,217.0 494.1,218.4 494.9,219.8 495.7,220.4 496.5,222.4 497.3,223.1 498.1,224.4 498.9,225.1 499.7,226.3 500.6,228.7 501.4,231.3 502.2,232.7 503.0,234.5 503.8,236.6 504.6,238.6 505.4,239.5 506.2,240.3 507.1,240.5 507.9,241.5 508.7,242.1 509.5,242.9 510.3,243.9 511.1,245.0 511.9,245.8 512.7,246.5 513.6,247.0 514.4,247.8 515.2,248.0 516.0,248.3 516.8,248.6 517.6,248.6 518.4,249.2 519.2,249.8 520.1,250.6 520.9,251.4 521.7,251.5 522.5,224.7 523.3,191.1 524.1,212.5 524.9,209.5 525.7,223.0 526.6,221.7 527.4,205.2 528.2,233.9 529.0,196.0 529.8,248.8 530.6,197.1 531.4,228.1 532.2,180.2 533.1,208.1 533.9,211.7 534.7,246.8 535.5,249.2 536.3,247.6 537.1,240.8 537.9,235.9 538.7,226.6 539.6,245.3 540.4,232.6 541.2,202.5 542.0,232.6 542.8,264.2 543.6,220.2 544.4,233.3 545.2,245.0 546.1,250.9 546.9,258.0 547.7,263.7 548.5,269.1 549.3,273.4 550.1,277.6 550.9,277.7 551.7,277.8 552.6,277.9 553.4,278.0 554.2,278.1 555.0,278.2 555.8,278.3 556.6,278.4 557.4,278.5 558.2,278.6 559.1,278.6 559.9,278.7 560.7,278.8 561.5,278.9 562.3,279.0 563.1,279.1 563.9,279.2 564.7,279.3 565.5,279.5 566.4,279.6 567.2,279.7 568.0,279.9 568.8,280.0 569.6,280.2 570.4,280.3 571.2,280.5 572.0,280.6 572.9,280.8 573.7,280.9 574.5,281.0 575.3,281.2 576.1,281.3 576.9,281.5 577.7,281.6 578.5,281.8 579.4,281.9 580.2,282.0 581.0,282.2 581.8,282.3 582.6,282.3 583.4,282.4 584.2,282.5 585.0,282.5 585.9,282.6 586.7,282.7 587.5,282.8 588.3,282.8 589.1,282.9 589.9,283.0 590.7,283.0 591.5,283.1 592.4,283.2 593.2,283.3 594.0,283.3 594.8,283.4"/><polyline points="329.2,283.4 330.0,283.4 330.8,283.4 331.6,283.4 332.4,283.4 333.2,283.4 334.0,283.4 334.8,283.4 335.7,283.4 336.5,283.4 337.3,283.4 338.1,283.4 338.9,283.4 339.7,283.4 340.5,283.4 341.3,283.4 342.2,283.4 343.0,283.4 343.8,283.4 344.6,283.4 345.4,283.4 346.2,283.4 347.0,283.4 347.8,283.4 348.7,283.4 349.5,283.4 350.3,283.4 351.1,283.4 351.9,283.4 352.7,283.4 353.5,283.4 354.3,283.4 355.2,283.4 356.0,283.4 356.8,283.4 357.6,283.4 358.4,283.4 359.2,283.4 360.0,283.4 360.8,283.4 361.7,283.4 362.5,283.4 363.3,283.4 364.1,283.4 364.9,283.4 365.7,283.4 366.5,283.4 367.3,283.4 368.1,283.4 369.0,283.4 369.8,283.4 370.6,283.4 371.4,283.4 372.2,283.4 373.0,283.4 373.8,283.4 374.6,283.4 375.5,283.4 376.3,283.4 377.1,283.4 377.9,283.4 378.7,283.4 379.5,283.4 380.3,283.4 381.1,283.4 382.0,283.4 382.8,283.4 383.6,282.2 384.4,279.8 385.2,277.4 386.0,275.0 386.8,271.1 387.6,265.8 388.5,260.4 389.3,255.0 390.1,249.8 390.9,244.8 391.7,239.9 392.5,235.0 393.3,230.2 394.1,225.7 395.0,222.4 395.8,219.4 396.6,216.1 397.4,213.0 398.2,210.2 399.0,207.3 399.8,205.1 400.6,203.2 401.5,200.6 402.3,198.4 403.1,196.6 403.9,195.8 404.7,193.6 405.5,192.7 406.3,191.8 407.1,191.0 408.0,191.1 408.8,191.6 409.6,190.3 410.4,191.3 411.2,191.3 412.0,191.2 412.8,191.7 413.6,191.4 414.5,189.1 415.3,189.2 416.1,187.9 416.9,187.8 417.7,187.2 418.5,186.1 419.3,185.7 420.1,186.5 421.0,186.5 421.8,186.4 422.6,186.2 423.4,186.3 424.2,185.8 425.0,184.5 425.8,183.7 426.6,183.1 427.5,183.5 428.3,182.4 429.1,181.4 429.9,182.2 430.7,182.8 431.5,182.8 432.3,182.4 433.1,181.7 433.9,180.5 434.8,179.3 435.6,178.0 436.4,176.8 437.2,175.1 438.0,174.2 438.8,173.9 439.6,172.9 440.4,172.0 441.3,170.6 442.1,171.1 442.9,171.1 443.7,170.2 444.5,169.0 445.3,168.8 446.1,168.4 446.9,168.6 447.8,167.8 448.6,167.7 449.4,167.3 450.2,166.9 451.0,167.6 451.8,168.3 452.6,167.7 453.4,166.0 454.3,165.1 455.1,164.8 455.9,164.0 456.7,162.6 457.5,162.6 458.3,163.3 459.1,165.6 459.9,167.2 460.8,166.7 461.6,166.5 462.4,166.8 463.2,166.7 464.0,167.1 464.8,166.9 465.6,165.6 466.4,167.0 467.3,167.6 468.1,168.0 468.9,168.9 469.7,169.6 470.5,169.8 471.3,171.6 472.1,172.7 472.9,174.4 473.8,175.4 474.6,175.7 475.4,177.1 476.2,178.6 477.0,179.9 477.8,180.9 478.6,181.6 479.4,183.6 480.3,185.7 481.1,187.4 481.9,189.4 482.7,191.5 483.5,193.7 484.3,196.2 485.1,197.6 485.9,199.7 486.8,201.2 487.6,202.6 488.4,204.5 489.2,205.9 490.0,207.6 490.8,209.0 491.6,210.8 492.4,212.1 493.3,213.8 494.1,215.1 494.9,216.7 495.7,217.4 496.5,219.5 497.3,220.1 498.1,221.6 498.9,222.4 499.7,223.7 500.6,226.4 501.4,229.2 502.2,230.7 503.0,232.8 503.8,234.9 504.6,237.0 505.4,238.1 506.2,238.8 507.1,239.0 507.9,240.1 508.7,240.7 509.5,241.5 510.3,242.6 511.1,243.9 511.9,244.8 512.7,245.4 513.6,245.9 514.4,246.8 515.2,247.0 516.0,247.2 516.8,247.5 517.6,247.5 518.4,248.2 519.2,248.7 520.1,249.5 520.9,250.3 521.7,250.5 522.5,224.6 523.3,197.5 524.1,237.2 524.9,236.1 525.7,195.7 526.6,200.4 527.4,194.1 528.2,182.7 529.0,180.6 529.8,246.3 530.6,207.4 531.4,197.0 532.2,224.8 533.1,181.3 533.9,203.1 534.7,247.2 535.5,248.9 536.3,244.3 537.1,226.2 537.9,210.2 538.7,216.9 539.6,248.9 540.4,213.9 541.2,193.5 542.0,205.2 542.8,217.4 543.6,241.4 544.4,236.4 545.2,240.6 546.1,250.3 546.9,258.7 547.7,264.1 548.5,268.9 549.3,273.2 550.1,277.5 550.9,277.6 551.7,277.7 552.6,277.8 553.4,277.9 554.2,278.0 555.0,278.1 555.8,278.2 556.6,278.3 557.4,278.4 558.2,278.4 559.1,278.6 559.9,278.6 560.7,278.7 561.5,278.8 562.3,278.9 563.1,279.0 563.9,279.1 564.7,279.2 565.5,279.4 566.4,279.5 567.2,279.7 568.0,279.8 568.8,279.9 569.6,280.1 570.4,280.2 571.2,280.4 572.0,280.5 572.9,280.7 573.7,280.8 574.5,281.0 575.3,281.1 576.1,281.2 576.9,281.4 577.7,281.5 578.5,281.7 579.4,281.8 580.2,282.0 581.0,282.1 581.8,282.2 582.6,282.3 583.4,282.3 584.2,282.4 585.0,282.5 585.9,282.6 586.7,282.6 587.5,282.7 588.3,282.8 589.1,282.9 589.9,282.9 590.7,283.0 591.5,283.1 592.4,283.2 593.2,283.2 594.0,283.3 594.8,283.4"/><polyline points="329.2,283.4 330.0,283.4 330.8,283.4 331.6,283.4 332.4,283.4 333.2,283.4 334.0,283.4 334.8,283.4 335.7,283.4 336.5,283.4 337.3,283.4 338.1,283.4 338.9,283.4 339.7,283.4 340.5,283.4 341.3,283.4 342.2,283.4 343.0,283.4 343.8,283.4 344.6,283.4 345.4,283.4 346.2,283.4 347.0,283.4 347.8,283.4 348.7,283.4 349.5,283.4 350.3,283.4 351.1,283.4 351.9,283.4 352.7,283.4 353.5,283.4 354.3,283.4 355.2,283.4 356.0,283.4 356.8,283.4 357.6,283.4 358.4,283.4 359.2,283.4 360.0,283.4 360.8,283.4 361.7,283.4 362.5,283.4 363.3,283.4 364.1,283.4 364.9,283.4 365.7,283.4 366.5,283.4 367.3,283.4 368.1,283.4 369.0,283.4 369.8,283.4 370.6,283.4 371.4,283.4 372.2,283.4 373.0,283.4 373.8,283.4 374.6,283.4 375.5,283.4 376.3,283.4 377.1,283.4 377.9,283.4 378.7,283.4 379.5,283.4 380.3,283.4 381.1,283.4 382.0,283.4 382.8,283.4 383.6,282.2 384.4,279.6 385.2,277.1 386.0,274.6 386.8,269.8 387.6,264.1 388.5,258.4 389.3,252.3 390.1,245.7 390.9,239.4 391.7,233.3 392.5,227.8 393.3,223.1 394.1,218.7 395.0,215.4 395.8,212.2 396.6,209.2 397.4,206.2 398.2,203.5 399.0,200.9 399.8,198.6 400.6,196.7 401.5,194.6 402.3,193.2 403.1,192.2 403.9,191.1 404.7,190.4 405.5,190.7 406.3,189.7 407.1,189.3 408.0,189.1 408.8,188.8 409.6,187.8 410.4,187.5 411.2,185.9 412.0,185.7 412.8,185.5 413.6,184.7 414.5,182.9 415.3,182.7 416.1,181.8 416.9,182.0 417.7,181.5 418.5,180.6 419.3,179.8 420.1,181.2 421.0,181.2 421.8,180.7 422.6,180.6 423.4,181.3 424.2,180.9 425.0,180.5 425.8,179.1 426.6,178.8 427.5,179.2 428.3,177.9 429.1,176.7 429.9,178.0 430.7,178.4 431.5,178.4 432.3,178.3 433.1,177.5 433.9,177.4 434.8,176.1 435.6,174.9 436.4,174.3 437.2,172.7 438.0,171.4 438.8,171.1 439.6,170.1 440.4,169.6 441.3,168.5 442.1,168.9 442.9,169.3 443.7,168.6 444.5,167.9 445.3,167.6 446.1,167.4 446.9,167.2 447.8,165.8 448.6,166.5 449.4,166.1 450.2,166.7 451.0,167.0 451.8,167.4 452.6,167.3 453.4,165.9 454.3,164.2 455.1,164.2 455.9,162.4 456.7,160.7 457.5,161.8 458.3,162.0 459.1,164.0 459.9,165.7 460.8,165.5 461.6,165.9 462.4,167.0 463.2,166.6 464.0,167.7 464.8,168.3 465.6,167.6 466.4,168.4 467.3,169.5 468.1,170.3 468.9,171.3 469.7,172.2 470.5,172.7 471.3,174.7 472.1,176.2 472.9,177.9 473.8,178.9 474.6,179.3 475.4,180.6 476.2,182.0 477.0,183.6 477.8,184.8 478.6,185.9 479.4,188.3 480.3,190.5 481.1,192.1 481.9,194.2 482.7,196.1 483.5,198.3 484.3,200.5 485.1,201.9 485.9,203.9 486.8,205.5 487.6,207.1 488.4,209.1 489.2,210.6 490.0,212.6 490.8,213.9 491.6,215.5 492.4,216.6 493.3,218.2 494.1,219.5 494.9,220.9 495.7,221.5 496.5,223.6 497.3,224.2 498.1,225.5 498.9,226.2 499.7,227.3 500.6,229.8 501.4,232.3 502.2,233.7 503.0,235.5 503.8,237.5 504.6,239.5 505.4,240.3 506.2,241.0 507.1,241.3 507.9,242.2 508.7,242.8 509.5,243.5 510.3,244.4 511.1,245.6 511.9,246.5 512.7,247.0 513.6,247.5 514.4,248.4 515.2,248.5 516.0,248.7 516.8,248.9 517.6,248.9 518.4,249.6 519.2,250.1 520.1,251.0 520.9,251.8 521.7,251.9 522.5,231.4 523.3,219.4 524.1,203.3 524.9,230.5 525.7,192.0 526.6,219.3 527.4,219.3 528.2,192.4 529.0,226.9 529.8,235.1 530.6,232.0 531.4,235.5 532.2,181.9 533.1,197.5 533.9,212.7 534.7,245.5 535.5,249.8 536.3,247.3 537.1,222.4 537.9,235.3 538.7,230.6 539.6,242.5 540.4,215.0 541.2,197.8 542.0,234.0 542.8,237.9 543.6,217.5 544.4,232.4 545.2,238.0 546.1,253.6 546.9,258.7 547.7,264.5 548.5,269.3 549.3,273.4 550.1,277.6 550.9,277.7 551.7,277.8 552.6,277.9 553.4,278.0 554.2,278.1 555.0,278.2 555.8,278.3 556.6,278.4 557.4,278.5 558.2,278.6 559.1,278.7 559.9,278.8 560.7,278.9 561.5,279.0 562.3,279.1 563.1,279.1 563.9,279.2 564.7,279.3 565.5,279.5 566.4,279.6 567.2,279.8 568.0,279.9 568.8,280.1 569.6,280.2 570.4,280.3 571.2,280.5 572.0,280.6 572.9,280.8 573.7,280.9 574.5,281.1 575.3,281.2 576.1,281.4 576.9,281.5 577.7,281.6 578.5,281.8 579.4,281.9 580.2,282.1 581.0,282.2 581.8,282.3 582.6,282.4 583.4,282.4 584.2,282.5 585.0,282.6 585.9,282.6 586.7,282.7 587.5,282.8 588.3,282.8 589.1,282.9 589.9,283.0 590.7,283.1 591.5,283.1 592.4,283.2 593.2,283.3 594.0,283.3 594.8,283.4"/><polyline points="329.2,283.4 330.0,283.4 330.8,283.4 331.6,283.4 332.4,283.4 333.2,283.4 334.0,283.4 334.8,283.4 335.7,283.4 336.5,283.4 337.3,283.4 338.1,283.4 338.9,283.4 339.7,283.4 340.5,283.4 341.3,283.4 342.2,283.4 343.0,283.4 343.8,283.4 344.6,283.4 345.4,283.4 346.2,283.4 347.0,283.4 347.8,283.4 348.7,283.4 349.5,283.4 350.3,283.4 351.1,283.4 351.9,283.4 352.7,283.4 353.5,283.4 354.3,283.4 355.2,283.4 356.0,283.4 356.8,283.4 357.6,283.4 358.4,283.4 359.2,283.4 360.0,283.4 360.8,283.4 361.7,283.4 362.5,283.4 363.3,283.4 364.1,283.4 364.9,283.4 365.7,283.4 366.5,283.4 367.3,283.4 368.1,283.4 369.0,283.4 369.8,283.4 370.6,283.4 371.4,283.4 372.2,283.4 373.0,283.4 373.8,283.4 374.6,283.4 375.5,283.4 376.3,283.4 377.1,283.4 377.9,283.4 378.7,283.4 379.5,283.4 380.3,283.4 381.1,283.4 382.0,283.4 382.8,283.4 383.6,282.2 384.4,279.8 385.2,277.3 386.0,274.9 386.8,270.7 387.6,265.3 388.5,259.8 389.3,254.2 390.1,248.6 390.9,243.3 391.7,238.0 392.5,232.9 393.3,228.2 394.1,223.7 395.0,220.4 395.8,217.3 396.6,214.3 397.4,211.3 398.2,208.6 399.0,206.0 399.8,203.7 400.6,202.3 401.5,200.2 402.3,197.3 403.1,196.3 403.9,195.3 404.7,193.2 405.5,192.9 406.3,191.7 407.1,190.1 408.0,190.6 408.8,190.0 409.6,188.9 410.4,188.9 411.2,187.8 412.0,188.2 412.8,188.6 413.6,188.1 414.5,187.1 415.3,187.3 416.1,187.1 416.9,188.0 417.7,186.8 418.5,185.8 419.3,184.8 420.1,185.4 421.0,185.7 421.8,185.9 422.6,185.3 423.4,185.3 424.2,185.1 425.0,184.4 425.8,183.4 426.6,182.6 427.5,182.5 428.3,181.3 429.1,181.5 429.9,181.2 430.7,181.3 431.5,180.6 432.3,180.4 433.1,180.0 433.9,179.8 434.8,178.2 435.6,178.0 436.4,177.3 437.2,176.0 438.0,174.8 438.8,173.9 439.6,172.6 440.4,172.0 441.3,171.2 442.1,171.5 442.9,171.4 443.7,170.6 444.5,169.9 445.3,169.2 446.1,168.5 446.9,167.3 447.8,166.3 448.6,167.0 449.4,166.5 450.2,166.0 451.0,166.2 451.8,167.3 452.6,167.2 453.4,165.7 454.3,164.6 455.1,164.4 455.9,162.6 456.7,161.6 457.5,160.8 458.3,161.8 459.1,164.2 459.9,165.2 460.8,164.7 461.6,165.1 462.4,165.7 463.2,166.3 464.0,166.3 464.8,166.3 465.6,165.7 466.4,166.7 467.3,167.3 468.1,167.6 468.9,168.3 469.7,169.0 470.5,169.2 471.3,170.7 472.1,172.0 472.9,173.7 473.8,174.6 474.6,174.8 475.4,176.1 476.2,177.4 477.0,178.6 477.8,179.4 478.6,180.1 479.4,182.2 480.3,184.5 481.1,186.4 481.9,188.6 482.7,190.9 483.5,193.1 484.3,195.5 485.1,196.7 485.9,198.7 486.8,200.2 487.6,201.7 488.4,203.5 489.2,204.9 490.0,206.6 490.8,208.0 491.6,209.7 492.4,210.9 493.3,212.5 494.1,214.0 494.9,215.7 495.7,216.5 496.5,218.6 497.3,219.4 498.1,220.9 498.9,221.8 499.7,223.1 500.6,225.7 501.4,228.4 502.2,230.1 503.0,232.1 503.8,234.4 504.6,236.4 505.4,237.6 506.2,238.4 507.1,238.8 507.9,239.7 508.7,240.4 509.5,241.2 510.3,242.3 511.1,243.5 511.9,244.4 512.7,245.0 513.6,245.5 514.4,246.5 515.2,246.7 516.0,246.9 516.8,247.3 517.6,247.2 518.4,247.8 519.2,248.4 520.1,249.1 520.9,249.9 521.7,250.1 522.5,229.3 523.3,223.7 524.1,228.3 524.9,231.0 525.7,196.2 526.6,200.6 527.4,193.6 528.2,193.3 529.0,188.8 529.8,240.4 530.6,184.2 531.4,187.2 532.2,223.9 533.1,182.0 533.9,218.7 534.7,244.2 535.5,246.3 536.3,245.3 537.1,226.9 537.9,232.2 538.7,208.0 539.6,249.1 540.4,205.7 541.2,213.2 542.0,200.0 542.8,224.8 543.6,239.9 544.4,238.8 545.2,241.9 546.1,251.6 546.9,257.3 547.7,263.6 548.5,268.9 549.3,273.2 550.1,277.5 550.9,277.6 551.7,277.7 552.6,277.8 553.4,277.9 554.2,278.0 555.0,278.1 555.8,278.2 556.6,278.2 557.4,278.3 558.2,278.4 559.1,278.5 559.9,278.6 560.7,278.7 561.5,278.8 562.3,278.9 563.1,279.0 563.9,279.1 564.7,279.2 565.5,279.3 566.4,279.5 567.2,279.6 568.0,279.8 568.8,279.9 569.6,280.1 570.4,280.2 571.2,280.3 572.0,280.5 572.9,280.6 573.7,280.8 574.5,280.9 575.3,281.1 576.1,281.2 576.9,281.4 577.7,281.5 578.5,281.6 579.4,281.8 580.2,281.9 581.0,282.1 581.8,282.1 582.6,282.2 583.4,282.3 584.2,282.4 585.0,282.5 585.9,282.5 586.7,282.6 587.5,282.7 588.3,282.8 589.1,282.9 589.9,282.9 590.7,283.0 591.5,283.1 592.4,283.2 593.2,283.2 594.0,283.3 594.8,283.4"/><polyline points="329.2,283.4 330.0,283.4 330.8,283.4 331.6,283.4 332.4,283.4 333.2,283.4 334.0,283.4 334.8,283.4 335.7,283.4 336.5,283.4 337.3,283.4 338.1,283.4 338.9,283.4 339.7,283.4 340.5,283.4 341.3,283.4 342.2,283.4 343.0,283.4 343.8,283.4 344.6,283.4 345.4,283.4 346.2,283.4 347.0,283.4 347.8,283.4 348.7,283.4 349.5,283.4 350.3,283.4 351.1,283.4 351.9,283.4 352.7,283.4 353.5,283.4 354.3,283.4 355.2,283.4 356.0,283.4 356.8,283.4 357.6,283.4 358.4,283.4 359.2,283.4 360.0,283.4 360.8,283.4 361.7,283.4 362.5,283.4 363.3,283.4 364.1,283.4 364.9,283.4 365.7,283.4 366.5,283.4 367.3,283.4 368.1,283.4 369.0,283.4 369.8,283.4 370.6,283.4 371.4,283.4 372.2,283.4 373.0,283.4 373.8,283.4 374.6,283.4 375.5,283.4 376.3,283.4 377.1,283.4 377.9,283.4 378.7,283.4 379.5,283.4 380.3,283.4 381.1,283.4 382.0,283.4 382.8,283.4 383.6,282.1 384.4,279.6 385.2,277.0 386.0,274.4 386.8,269.3 387.6,263.4 388.5,257.5 389.3,251.1 390.1,244.0 390.9,237.1 391.7,230.4 392.5,224.7 393.3,220.0 394.1,215.8 395.0,212.4 395.8,209.1 396.6,205.8 397.4,202.7 398.2,200.1 399.0,198.0 399.8,195.4 400.6,194.4 401.5,193.2 402.3,191.2 403.1,189.4 403.9,187.8 404.7,186.1 405.5,186.3 406.3,184.9 407.1,183.2 408.0,183.6 408.8,184.0 409.6,184.0 410.4,184.5 411.2,183.8 412.0,184.2 412.8,184.4 413.6,183.9 414.5,182.2 415.3,182.0 416.1,181.2 416.9,181.3 417.7,180.1 418.5,179.7 419.3,179.3 420.1,180.3 421.0,180.3 421.8,180.2 422.6,180.2 423.4,180.7 424.2,179.9 425.0,178.5 425.8,178.0 426.6,177.2 427.5,177.1 428.3,175.9 429.1,175.0 429.9,175.6 430.7,176.7 431.5,175.6 432.3,175.3 433.1,174.6 433.9,174.0 434.8,172.8 435.6,172.3 436.4,170.8 437.2,169.6 438.0,169.5 438.8,168.9 439.6,167.8 440.4,167.1 441.3,166.5 442.1,167.4 442.9,167.3 443.7,165.5 444.5,164.6 445.3,165.0 446.1,164.6 446.9,164.3 447.8,163.1 448.6,163.8 449.4,163.9 450.2,164.4 451.0,164.4 451.8,164.9 452.6,164.5 453.4,163.4 454.3,162.4 455.1,161.8 455.9,160.5 456.7,159.3 457.5,160.1 458.3,160.7 459.1,162.6 459.9,163.8 460.8,163.8 461.6,164.2 462.4,164.8 463.2,165.1 464.0,166.0 464.8,166.5 465.6,166.4 466.4,167.1 467.3,167.9 468.1,168.7 468.9,169.4 469.7,170.2 470.5,170.6 471.3,172.5 472.1,174.1 472.9,176.0 473.8,177.1 474.6,177.7 475.4,178.9 476.2,180.4 477.0,181.7 477.8,182.8 478.6,183.8 479.4,185.8 480.3,187.9 481.1,189.9 481.9,192.1 482.7,194.0 483.5,196.3 484.3,198.4 485.1,199.8 485.9,201.8 486.8,203.3 487.6,204.7 488.4,206.8 489.2,208.3 490.0,210.4 490.8,211.6 491.6,213.2 492.4,214.4 493.3,216.0 494.1,217.4 494.9,218.9 495.7,219.6 496.5,221.7 497.3,222.3 498.1,223.7 498.9,224.6 499.7,225.6 500.6,228.0 501.4,230.7 502.2,232.2 503.0,234.1 503.8,236.3 504.6,238.2 505.4,239.3 506.2,240.0 507.1,240.3 507.9,241.2 508.7,241.8 509.5,242.5 510.3,243.5 511.1,244.6 511.9,245.4 512.7,246.1 513.6,246.6 514.4,247.5 515.2,247.7 516.0,248.0 516.8,248.3 517.6,248.3 518.4,248.9 519.2,249.4 520.1,250.2 520.9,251.1 521.7,251.2 522.5,222.7 523.3,221.6 524.1,214.2 524.9,237.0 525.7,223.2 526.6,227.4 527.4,207.3 528.2,181.7 529.0,222.3 529.8,249.1 530.6,232.0 531.4,185.5 532.2,177.0 533.1,200.7 533.9,230.6 534.7,247.7 535.5,247.3 536.3,244.2 537.1,239.1 537.9,231.9 538.7,224.0 539.6,243.1 540.4,215.5 541.2,209.5 542.0,199.6 542.8,238.5 543.6,219.1 544.4,239.4 545.2,245.1 546.1,247.7 546.9,259.4 547.7,264.0 548.5,269.1 549.3,273.3 550.1,277.6 550.9,277.7 551.7,277.8 552.6,277.9 553.4,278.0 554.2,278.1 555.0,278.1 555.8,278.2 556.6,278.3 557.4,278.4 558.2,278.5 559.1,278.6 559.9,278.7 560.7,278.8 561.5,278.9 562.3,279.0 563.1,279.1 563.9,279.2 564.7,210.4 565.5,279.4 566.4,279.6 567.2,279.7 568.0,279.8 568.8,280.0 569.6,280.1 570.4,280.3 571.2,280.4 572.0,280.6 572.9,280.7 573.7,280.9 574.5,281.0 575.3,281.2 576.1,281.3 576.9,281.5 577.7,281.6 578.5,281.7 579.4,281.9 580.2,282.0 581.0,282.2 581.8,282.2 582.6,282.3 583.4,282.4 584.2,282.5 585.0,282.5 585.9,282.6 586.7,282.7 587.5,282.7 588.3,282.8 589.1,282.9 589.9,283.0 590.7,283.0 591.5,283.1 592.4,283.2 593.2,283.3 594.0,283.3 594.8,283.4"/><polyline points="329.2,283.4 330.0,283.4 330.8,283.4 331.6,283.4 332.4,283.4 333.2,283.4 334.0,283.4 334.8,283.4 335.7,283.4 336.5,283.4 337.3,283.4 338.1,283.4 338.9,283.4 339.7,283.4 340.5,283.4 341.3,283.4 342.2,283.4 343.0,283.4 343.8,283.4 344.6,283.4 345.4,283.4 346.2,283.4 347.0,283.4 347.8,283.4 348.7,283.4 349.5,283.4 350.3,283.4 351.1,283.4 351.9,283.4 352.7,283.4 353.5,283.4 354.3,283.4 355.2,283.4 356.0,283.4 356.8,283.4 357.6,283.4 358.4,283.4 359.2,283.4 360.0,283.4 360.8,283.4 361.7,283.4 362.5,283.4 363.3,283.4 364.1,283.4 364.9,283.4 365.7,283.4 366.5,283.4 367.3,283.4 368.1,283.4 369.0,283.4 369.8,283.4 370.6,283.4 371.4,283.4 372.2,283.4 373.0,283.4 373.8,283.4 374.6,283.4 375.5,283.4 376.3,283.4 377.1,283.4 377.9,283.4 378.7,283.4 379.5,283.4 380.3,283.4 381.1,283.4 382.0,283.4 382.8,283.4 383.6,282.2 384.4,279.7 385.2,277.2 386.0,274.7 386.8,270.2 387.6,264.6 388.5,258.9 389.3,253.1 390.1,246.9 390.9,241.0 391.7,235.2 392.5,229.8 393.3,225.1 394.1,220.7 395.0,217.4 395.8,214.2 396.6,211.2 397.4,208.1 398.2,205.2 399.0,202.4 399.8,200.2 400.6,198.7 401.5,196.7 402.3,194.3 403.1,193.0 403.9,192.2 404.7,190.6 405.5,190.1 406.3,189.5 407.1,187.9 408.0,188.0 408.8,187.6 409.6,186.8 410.4,187.6 411.2,186.7 412.0,186.6 412.8,187.6 413.6,187.2 414.5,185.7 415.3,185.6 416.1,184.3 416.9,183.9 417.7,182.8 418.5,181.5 419.3,180.6 420.1,182.1 421.0,182.4 421.8,182.8 422.6,183.7 423.4,184.2 424.2,184.0 425.0,183.9 425.8,182.9 426.6,182.2 427.5,182.2 428.3,180.7 429.1,179.7 429.9,180.3 430.7,180.4 431.5,179.8 432.3,179.0 433.1,178.2 433.9,177.3 434.8,176.2 435.6,174.6 436.4,173.5 437.2,172.4 438.0,172.1 438.8,172.0 439.6,171.5 440.4,170.6 441.3,169.5 442.1,169.9 442.9,169.6 443.7,167.9 444.5,167.3 445.3,167.2 446.1,166.7 446.9,167.0 447.8,166.0 448.6,166.3 449.4,166.5 450.2,165.8 451.0,165.8 451.8,166.7 452.6,166.6 453.4,165.4 454.3,164.4 455.1,163.4 455.9,162.0 456.7,160.7 457.5,161.3 458.3,161.6 459.1,163.4 459.9,164.8 460.8,165.4 461.6,165.7 462.4,166.4 463.2,165.8 464.0,166.0 464.8,166.3 465.6,165.3 466.4,165.5 467.3,166.0 468.1,166.3 468.9,166.8 469.7,167.4 470.5,167.2 471.3,168.9 472.1,170.2 472.9,171.6 473.8,172.4 474.6,172.8 475.4,174.0 476.2,175.6 477.0,176.4 477.8,177.0 478.6,177.8 479.4,179.7 480.3,182.0 481.1,183.8 481.9,186.0 482.7,188.3 483.5,190.6 484.3,193.0 485.1,194.5 485.9,196.4 486.8,197.9 487.6,199.1 488.4,200.9 489.2,202.3 490.0,204.1 490.8,205.1 491.6,206.8 492.4,208.1 493.3,210.0 494.1,211.6 494.9,213.3 495.7,214.1 496.5,216.5 497.3,217.4 498.1,219.0 498.9,220.0 499.7,221.3 500.6,224.0 501.4,226.9 502.2,228.6 503.0,230.7 503.8,233.0 504.6,235.1 505.4,236.4 506.2,237.2 507.1,237.5 507.9,238.5 508.7,239.3 509.5,240.3 510.3,241.4 511.1,242.6 511.9,243.7 512.7,244.4 513.6,244.9 514.4,245.7 515.2,245.9 516.0,246.2 516.8,246.5 517.6,246.5 518.4,247.1 519.2,247.6 520.1,248.5 520.9,249.3 521.7,249.5 522.5,235.4 523.3,235.9 524.1,193.7 524.9,196.1 525.7,234.9 526.6,212.5 527.4,188.2 528.2,178.5 529.0,196.7 529.8,244.9 530.6,199.0 531.4,224.5 532.2,201.8 533.1,199.9 533.9,221.2 534.7,248.4 535.5,249.3 536.3,245.0 537.1,226.4 537.9,206.8 538.7,229.9 539.6,246.5 540.4,233.1 541.2,195.7 542.0,204.2 542.8,210.0 543.6,228.5 544.4,243.1 545.2,235.7 546.1,248.5 546.9,257.6 547.7,263.5 548.5,268.7 549.3,273.1 550.1,277.5 550.9,277.6 551.7,277.7 552.6,277.8 553.4,277.9 554.2,277.9 555.0,278.0 555.8,278.1 556.6,278.2 557.4,278.3 558.2,278.4 559.1,278.5 559.9,278.6 560.7,278.7 561.5,278.8 562.3,278.9 563.1,278.9 563.9,279.0 564.7,279.1 565.5,279.3 566.4,279.4 567.2,279.6 568.0,279.7 568.8,279.9 569.6,280.0 570.4,280.1 571.2,280.3 572.0,280.4 572.9,280.6 573.7,280.7 574.5,280.9 575.3,281.0 576.1,281.1 576.9,281.3 577.7,281.4 578.5,281.6 579.4,281.7 580.2,281.9 581.0,282.0 581.8,282.1 582.6,282.2 583.4,282.3 584.2,282.3 585.0,282.4 585.9,282.5 586.7,282.6 587.5,282.7 588.3,282.8 589.1,282.8 589.9,282.9 590.7,283.0 591.5,283.1 592.4,283.2 593.2,283.2 594.0,283.3 594.8,283.4"/><polyline points="329.2,283.4 330.0,283.4 330.8,283.4 331.6,283.4 332.4,283.4 333.2,283.4 334.0,283.4 334.8,283.4 335.7,283.4 336.5,283.4 337.3,283.4 338.1,283.4 338.9,283.4 339.7,283.4 340.5,283.4 341.3,283.4 342.2,283.4 343.0,283.4 343.8,283.4 344.6,283.4 345.4,283.4 346.2,283.4 347.0,283.4 347.8,283.4 348.7,283.4 349.5,283.4 350.3,283.4 351.1,283.4 351.9,283.4 352.7,283.4 353.5,283.4 354.3,283.4 355.2,283.4 356.0,283.4 356.8,283.4 357.6,283.4 358.4,283.4 359.2,283.4 360.0,283.4 360.8,283.4 361.7,283.4 362.5,283.4 363.3,283.4 364.1,283.4 364.9,283.4 365.7,283.4 366.5,283.4 367.3,283.4 368.1,283.4 369.0,283.4 369.8,283.4 370.6,283.4 371.4,283.4 372.2,283.4 373.0,283.4 373.8,283.4 374.6,283.4 375.5,283.4 376.3,283.4 377.1,283.4 377.9,283.4 378.7,283.4 379.5,283.4 380.3,283.4 381.1,283.4 382.0,283.4 382.8,283.4 383.6,282.1 384.4,279.3 385.2,276.6 386.0,273.8 386.8,267.4 387.6,261.0 388.5,254.6 389.3,247.2 390.1,238.3 390.9,229.3 391.7,221.0 392.5,214.4 393.3,209.8 394.1,205.8 395.0,202.3 395.8,198.9 396.6,195.7 397.4,192.3 398.2,189.0 399.0,186.8 399.8,185.0 400.6,184.8 401.5,183.9 402.3,181.9 403.1,181.2 403.9,180.1 404.7,179.4 405.5,179.7 406.3,179.3 407.1,178.9 408.0,178.8 408.8,178.6 409.6,178.5 410.4,178.8 411.2,177.9 412.0,177.5 412.8,177.1 413.6,177.0 414.5,175.7 415.3,175.2 416.1,173.9 416.9,174.0 417.7,173.4 418.5,172.1 419.3,171.1 420.1,171.7 421.0,172.1 421.8,172.3 422.6,172.1 423.4,171.8 424.2,171.9 425.0,171.4 425.8,171.4 426.6,170.4 427.5,170.6 428.3,169.5 429.1,169.0 429.9,169.5 430.7,169.7 431.5,168.7 432.3,169.0 433.1,169.0 433.9,169.0 434.8,167.8 435.6,166.8 436.4,166.3 437.2,165.1 438.0,164.1 438.8,162.9 439.6,161.5 440.4,161.7 441.3,161.5 442.1,162.2 442.9,162.9 443.7,162.1 444.5,161.4 445.3,161.1 446.1,160.2 446.9,159.3 447.8,158.6 448.6,159.1 449.4,159.2 450.2,159.0 451.0,159.9 451.8,160.7 452.6,160.8 453.4,159.4 454.3,158.0 455.1,158.2 455.9,157.5 456.7,156.1 457.5,157.8 458.3,158.5 459.1,161.0 459.9,162.4 460.8,162.0 461.6,163.0 462.4,163.9 463.2,164.0 464.0,164.3 464.8,164.2 465.6,164.3 466.4,165.5 467.3,166.1 468.1,166.9 468.9,168.0 469.7,169.0 470.5,169.6 471.3,171.6 472.1,173.3 472.9,175.2 473.8,176.3 474.6,176.7 475.4,178.0 476.2,179.4 477.0,180.6 477.8,181.6 478.6,182.6 479.4,184.7 480.3,186.7 481.1,188.5 481.9,190.5 482.7,192.7 483.5,194.9 484.3,197.3 485.1,198.8 485.9,200.7 486.8,202.3 487.6,203.8 488.4,205.7 489.2,207.2 490.0,209.1 490.8,210.3 491.6,212.0 492.4,213.2 493.3,214.9 494.1,216.3 494.9,217.7 495.7,218.3 496.5,220.3 497.3,220.9 498.1,222.3 498.9,223.2 499.7,224.4 500.6,227.0 501.4,229.7 502.2,231.4 503.0,233.4 503.8,235.7 504.6,237.7 505.4,238.7 506.2,239.5 507.1,239.7 507.9,240.6 508.7,241.2 509.5,241.9 510.3,242.9 511.1,244.1 511.9,245.0 512.7,245.7 513.6,246.3 514.4,247.1 515.2,247.4 516.0,247.6 516.8,248.0 517.6,247.9 518.4,248.6 519.2,249.2 520.1,250.0 520.9,250.7 521.7,250.9 522.5,221.6 523.3,200.4 524.1,223.7 524.9,227.0 525.7,195.1 526.6,185.5 527.4,219.4 528.2,200.1 529.0,192.6 529.8,239.3 530.6,232.6 531.4,215.5 532.2,191.8 533.1,191.4 533.9,221.9 534.7,247.1 535.5,248.9 536.3,245.4 537.1,238.1 537.9,225.9 538.7,210.6 539.6,245.0 540.4,232.1 541.2,231.6 542.0,230.5 542.8,235.6 543.6,231.8 544.4,233.5 545.2,238.8 546.1,248.7 546.9,257.5 547.7,263.7 548.5,269.1 549.3,273.3 550.1,277.6 550.9,277.7 551.7,277.7 552.6,277.8 553.4,277.9 554.2,278.0 555.0,278.1 555.8,278.2 556.6,278.3 557.4,278.4 558.2,278.5 559.1,278.6 559.9,278.7 560.7,278.8 561.5,278.9 562.3,279.0 563.1,279.1 563.9,279.2 564.7,279.3 565.5,279.4 566.4,279.5 567.2,279.7 568.0,279.8 568.8,280.0 569.6,280.1 570.4,280.3 571.2,280.4 572.0,280.5 572.9,280.7 573.7,280.8 574.5,281.0 575.3,281.1 576.1,281.3 576.9,281.4 577.7,281.6 578.5,281.7 579.4,281.8 580.2,282.0 581.0,282.1 581.8,282.2 582.6,282.3 583.4,282.4 584.2,282.4 585.0,282.5 585.9,282.6 586.7,282.7 587.5,282.7 588.3,282.8 589.1,282.9 589.9,283.0 590.7,283.0 591.5,283.1 592.4,283.2 593.2,283.3 594.0,283.3 594.8,283.4"/><polyline points="329.2,283.4 330.0,283.4 330.8,283.4 331.6,283.4 332.4,283.4 333.2,283.4 334.0,283.4 334.8,283.4 335.7,283.4 336.5,283.4 337.3,283.4 338.1,283.4 338.9,283.4 339.7,283.4 340.5,283.4 341.3,283.4 342.2,283.4 343.0,283.4 343.8,283.4 344.6,283.4 345.4,283.4 346.2,283.4 347.0,283.4 347.8,283.4 348.7,283.4 349.5,283.4 350.3,283.4 351.1,283.4 351.9,283.4 352.7,283.4 353.5,283.4 354.3,283.4 355.2,283.4 356.0,283.4 356.8,283.4 357.6,283.4 358.4,283.4 359.2,283.4 360.0,283.4 360.8,283.4 361.7,283.4 362.5,283.4 363.3,283.4 364.1,283.4 364.9,283.4 365.7,283.4 366.5,283.4 367.3,283.4 368.1,283.4 369.0,283.4 369.8,283.4 370.6,283.4 371.4,283.4 372.2,283.4 373.0,283.4 373.8,283.4 374.6,283.4 375.5,283.4 376.3,283.4 377.1,283.4 377.9,283.4 378.7,283.4 379.5,283.4 380.3,283.4 381.1,283.4 382.0,283.4 382.8,283.4 383.6,282.2 384.4,279.6 385.2,277.0 386.0,274.5 386.8,269.6 387.6,263.8 388.5,258.0 389.3,251.7 390.1,244.9 390.9,238.3 391.7,231.9 392.5,226.3 393.3,221.7 394.1,217.4 395.0,214.0 395.8,210.8 396.6,207.6 397.4,204.5 398.2,201.5 399.0,198.9 399.8,196.7 400.6,195.2 401.5,194.3 402.3,192.6 403.1,191.0 403.9,189.9 404.7,189.6 405.5,189.1 406.3,188.0 407.1,187.1 408.0,187.2 408.8,187.4 409.6,186.9 410.4,187.5 411.2,187.4 412.0,187.3 412.8,186.4 413.6,186.4 414.5,184.4 415.3,184.3 416.1,182.6 416.9,182.1 417.7,181.5 418.5,180.9 419.3,179.6 420.1,180.6 421.0,180.6 421.8,180.5 422.6,180.4 423.4,181.2 424.2,180.5 425.0,179.9 425.8,179.1 426.6,178.2 427.5,178.5 428.3,177.7 429.1,177.2 429.9,178.2 430.7,178.7 431.5,178.5 432.3,178.7 433.1,178.0 433.9,177.1 434.8,175.2 435.6,173.6 436.4,172.9 437.2,171.2 438.0,170.2 438.8,169.4 439.6,168.8 440.4,168.6 441.3,168.7 442.1,168.3 442.9,168.8 443.7,167.7 444.5,166.8 445.3,166.0 446.1,164.9 446.9,164.3 447.8,163.7 448.6,163.7 449.4,163.6 450.2,163.5 451.0,164.2 451.8,164.7 452.6,164.2 453.4,163.2 454.3,162.0 455.1,161.7 455.9,160.6 456.7,159.3 457.5,160.1 458.3,160.8 459.1,162.5 459.9,163.9 460.8,163.6 461.6,164.9 462.4,165.3 463.2,164.7 464.0,165.9 464.8,166.1 465.6,166.0 466.4,167.5 467.3,168.1 468.1,169.1 468.9,170.3 469.7,171.2 470.5,171.7 471.3,173.7 472.1,175.1 472.9,176.9 473.8,178.1 474.6,178.4 475.4,179.7 476.2,181.3 477.0,182.6 477.8,183.7 478.6,184.7 479.4,187.0 480.3,189.2 481.1,191.0 481.9,193.0 482.7,195.2 483.5,197.4 484.3,199.8 485.1,201.2 485.9,203.2 486.8,204.8 487.6,206.3 488.4,208.1 489.2,209.5 490.0,211.5 490.8,212.6 491.6,214.2 492.4,215.2 493.3,216.8 494.1,218.2 494.9,219.7 495.7,220.3 496.5,222.4 497.3,223.1 498.1,224.5 498.9,225.1 499.7,226.3 500.6,228.7 501.4,231.3 502.2,232.8 503.0,234.6 503.8,236.7 504.6,238.8 505.4,239.6 506.2,240.4 507.1,240.6 507.9,241.5 508.7,242.2 509.5,242.9 510.3,243.8 511.1,244.9 511.9,245.7 512.7,246.4 513.6,246.9 514.4,247.8 515.2,248.1 516.0,248.4 516.8,248.7 517.6,248.7 518.4,249.3 519.2,249.8 520.1,250.6 520.9,251.3 521.7,251.4 522.5,224.9 523.3,216.7 524.1,203.0 524.9,223.9 525.7,193.9 526.6,206.6 527.4,218.8 528.2,205.4 529.0,194.8 529.8,237.7 530.6,235.2 531.4,185.0 532.2,183.1 533.1,198.6 533.9,222.5 534.7,245.2 535.5,250.5 536.3,245.8 537.1,227.1 537.9,221.3 538.7,212.4 539.6,248.6 540.4,219.3 541.2,202.4 542.0,224.7 542.8,206.2 543.6,237.9 544.4,235.8 545.2,241.8 546.1,249.7 546.9,259.6 547.7,264.5 548.5,269.2 549.3,273.4 550.1,277.6 550.9,277.7 551.7,277.8 552.6,277.9 553.4,278.0 554.2,278.1 555.0,278.2 555.8,278.3 556.6,278.4 557.4,278.5 558.2,278.5 559.1,278.6 559.9,278.7 560.7,278.8 561.5,278.9 562.3,279.0 563.1,279.1 563.9,279.2 564.7,279.3 565.5,279.5 566.4,279.6 567.2,279.7 568.0,279.9 568.8,280.0 569.6,280.2 570.4,280.3 571.2,280.5 572.0,280.6 572.9,280.8 573.7,280.9 574.5,281.0 575.3,281.2 576.1,281.3 576.9,281.5 577.7,281.6 578.5,281.8 579.4,281.9 580.2,282.0 581.0,282.2 581.8,282.3 582.6,282.3 583.4,282.4 584.2,282.5 585.0,282.5 585.9,282.6 586.7,282.7 587.5,282.8 588.3,282.8 589.1,282.9 589.9,283.0 590.7,283.0 591.5,283.1 592.4,283.2 593.2,283.3 594.0,283.3 594.8,283.4"/><polyline points="329.2,283.4 330.0,283.4 330.8,283.4 331.6,283.4 332.4,283.4 333.2,283.4 334.0,283.4 334.8,283.4 335.7,283.4 336.5,283.4 337.3,283.4 338.1,283.4 338.9,283.4 339.7,283.4 340.5,283.4 341.3,283.4 342.2,283.4 343.0,283.4 343.8,283.4 344.6,283.4 345.4,283.4 346.2,283.4 347.0,283.4 347.8,283.4 348.7,283.4 349.5,283.4 350.3,283.4 351.1,283.4 351.9,283.4 352.7,283.4 353.5,283.4 354.3,283.4 355.2,283.4 356.0,283.4 356.8,283.4 357.6,283.4 358.4,283.4 359.2,283.4 360.0,283.4 360.8,283.4 361.7,283.4 362.5,283.4 363.3,283.4 364.1,283.4 364.9,283.4 365.7,283.4 366.5,283.4 367.3,283.4 368.1,283.4 369.0,283.4 369.8,283.4 370.6,283.4 371.4,283.4 372.2,283.4 373.0,283.4 373.8,283.4 374.6,283.4 375.5,283.4 376.3,283.4 377.1,283.4 377.9,283.4 378.7,283.4 379.5,283.4 380.3,283.4 381.1,283.4 382.0,283.4 382.8,283.4 383.6,282.1 384.4,279.6 385.2,277.0 386.0,274.4 386.8,269.3 387.6,263.4 388.5,257.5 389.3,251.1 390.1,244.0 390.9,237.1 391.7,230.4 392.5,224.7 393.3,220.0 394.1,215.8 395.0,212.4 395.8,209.1 396.6,206.1 397.4,203.0 398.2,200.2 399.0,197.8 399.8,196.2 400.6,194.7 401.5,192.3 402.3,190.6 403.1,189.4 403.9,188.4 404.7,187.0 405.5,186.7 406.3,186.5 407.1,185.7 408.0,185.8 408.8,186.1 409.6,185.1 410.4,185.0 411.2,184.3 412.0,183.7 412.8,184.4 413.6,183.8 414.5,181.7 415.3,182.1 416.1,181.4 416.9,181.2 417.7,180.4 418.5,179.2 419.3,178.6 420.1,179.6 421.0,179.4 421.8,179.2 422.6,178.8 423.4,179.4 424.2,179.0 425.0,177.8 425.8,177.8 426.6,178.1 427.5,178.5 428.3,177.6 429.1,176.4 429.9,176.6 430.7,177.8 431.5,176.4 432.3,175.2 433.1,174.7 433.9,174.0 434.8,172.8 435.6,172.0 436.4,170.2 437.2,169.0 438.0,168.9 438.8,168.2 439.6,167.2 440.4,166.5 441.3,165.9 442.1,167.1 442.9,167.0 443.7,165.9 444.5,164.9 445.3,164.5 446.1,164.4 446.9,164.5 447.8,163.0 448.6,163.6 449.4,163.9 450.2,163.9 451.0,163.8 451.8,164.1 452.6,163.4 453.4,162.3 454.3,161.0 455.1,160.2 455.9,159.0 456.7,158.5 457.5,159.5 458.3,159.8 459.1,161.5 459.9,162.5 460.8,162.0 461.6,162.2 462.4,162.5 463.2,162.1 464.0,163.1 464.8,162.8 465.6,163.3 466.4,164.1 467.3,164.4 468.1,164.8 468.9,165.0 469.7,165.5 470.5,165.6 471.3,166.9 472.1,168.1 472.9,169.6 473.8,170.4 474.6,170.9 475.4,171.9 476.2,173.5 477.0,174.6 477.8,175.2 478.6,175.7 479.4,177.4 480.3,179.6 481.1,181.5 481.9,183.6 482.7,185.8 483.5,188.2 484.3,190.7 485.1,192.2 485.9,194.3 486.8,196.0 487.6,197.2 488.4,199.0 489.2,200.2 490.0,201.9 490.8,203.3 491.6,205.1 492.4,206.4 493.3,208.2 494.1,209.7 494.9,211.5 495.7,212.2 496.5,214.5 497.3,215.2 498.1,216.9 498.9,218.1 499.7,219.6 500.6,222.3 501.4,225.4 502.2,227.1 503.0,229.3 503.8,231.8 504.6,234.0 505.4,235.5 506.2,236.4 507.1,236.7 507.9,237.8 508.7,238.6 509.5,239.5 510.3,240.6 511.1,241.8 511.9,242.8 512.7,243.4 513.6,244.0 514.4,244.9 515.2,245.1 516.0,245.3 516.8,245.7 517.6,245.6 518.4,246.3 519.2,246.9 520.1,247.8 520.9,248.5 521.7,248.9 522.5,237.4 523.3,214.1 524.1,216.8 524.9,227.3 525.7,204.7 526.6,227.0 527.4,209.5 528.2,186.6 529.0,214.5 529.8,240.7 530.6,202.6 531.4,200.8 532.2,204.3 533.1,212.0 533.9,197.2 534.7,244.8 535.5,247.5 536.3,244.3 537.1,240.1 537.9,223.9 538.7,237.8 539.6,247.2 540.4,220.2 541.2,198.4 542.0,210.9 542.8,227.6 543.6,219.7 544.4,234.8 545.2,244.2 546.1,249.1 546.9,257.0 547.7,263.2 548.5,268.6 549.3,273.0 550.1,277.5 550.9,277.5 551.7,277.6 552.6,277.7 553.4,277.8 554.2,277.9 555.0,278.0 555.8,278.1 556.6,278.2 557.4,278.3 558.2,278.4 559.1,278.4 559.9,278.5 560.7,278.6 561.5,278.7 562.3,278.8 563.1,278.9 563.9,279.0 564.7,279.1 565.5,279.2 566.4,279.4 567.2,279.5 568.0,279.6 568.8,279.8 569.6,279.9 570.4,280.1 571.2,280.2 572.0,280.4 572.9,280.5 573.7,280.7 574.5,280.8 575.3,280.9 576.1,281.1 576.9,281.2 577.7,281.4 578.5,281.5 579.4,281.7 580.2,281.8 581.0,282.0 581.8,282.0 582.6,282.1 583.4,282.2 584.2,282.3 585.0,282.4 585.9,282.5 586.7,282.5 587.5,282.6 588.3,282.7 589.1,282.8 589.9,282.9 590.7,283.0 591.5,283.1 592.4,283.1 593.2,283.2 594.0,283.3 594.8,283.4"/><polyline points="329.2,283.4 330.0,283.4 330.8,283.4 331.6,283.4 332.4,283.4 333.2,283.4 334.0,283.4 334.8,283.4 335.7,283.4 336.5,283.4 337.3,283.4 338.1,283.4 338.9,283.4 339.7,283.4 340.5,283.4 341.3,283.4 342.2,283.4 343.0,283.4 343.8,283.4 344.6,283.4 345.4,283.4 346.2,283.4 347.0,283.4 347.8,283.4 348.7,283.4 349.5,283.4 350.3,283.4 351.1,283.4 351.9,283.4 352.7,283.4 353.5,283.4 354.3,283.4 355.2,283.4 356.0,283.4 356.8,283.4 357.6,283.4 358.4,283.4 359.2,283.4 360.0,283.4 360.8,283.4 361.7,283.4 362.5,283.4 363.3,283.4 364.1,283.4 364.9,283.4 365.7,283.4 366.5,283.4 367.3,283.4 368.1,283.4 369.0,283.4 369.8,283.4 370.6,283.4 371.4,283.4 372.2,283.4 373.0,283.4 373.8,283.4 374.6,283.4 375.5,283.4 376.3,283.4 377.1,283.4 377.9,283.4 378.7,283.4 379.5,283.4 380.3,283.4 381.1,283.4 382.0,283.4 382.8,283.4 383.6,282.2 384.4,279.6 385.2,277.0 386.0,274.5 386.8,269.4 387.6,263.6 388.5,257.8 389.3,251.5 390.1,244.6 390.9,237.9 391.7,231.4 392.5,225.7 393.3,221.0 394.1,216.8 395.0,213.4 395.8,210.1 396.6,207.2 397.4,204.2 398.2,201.6 399.0,199.1 399.8,196.7 400.6,195.5 401.5,192.8 402.3,190.7 403.1,189.5 403.9,188.2 404.7,187.4 405.5,187.9 406.3,187.1 407.1,186.1 408.0,186.1 408.8,186.7 409.6,185.9 410.4,186.0 411.2,184.6 412.0,184.3 412.8,185.0 413.6,184.6 414.5,182.1 415.3,182.4 416.1,182.1 416.9,182.2 417.7,181.3 418.5,180.0 419.3,179.2 420.1,180.8 421.0,180.7 421.8,180.5 422.6,180.6 423.4,181.0 424.2,181.1 425.0,180.8 425.8,180.1 426.6,179.0 427.5,178.8 428.3,177.6 429.1,176.8 429.9,177.3 430.7,177.5 431.5,177.1 432.3,177.0 433.1,176.3 433.9,175.4 434.8,174.3 435.6,172.4 436.4,171.4 437.2,170.1 438.0,169.5 438.8,169.2 439.6,169.0 440.4,168.3 441.3,167.9 442.1,168.5 442.9,168.1 443.7,166.9 444.5,166.4 445.3,165.5 446.1,164.5 446.9,164.9 447.8,163.7 448.6,164.5 449.4,164.0 450.2,163.1 451.0,163.7 451.8,164.8 452.6,163.6 453.4,162.5 454.3,161.2 455.1,161.0 455.9,159.9 456.7,158.7 457.5,159.4 458.3,160.2 459.1,161.6 459.9,162.5 460.8,162.4 461.6,163.1 462.4,164.0 463.2,163.8 464.0,164.3 464.8,164.9 465.6,165.1 466.4,166.3 467.3,166.9 468.1,167.5 468.9,168.3 469.7,169.0 470.5,169.3 471.3,171.1 472.1,172.5 472.9,174.1 473.8,175.2 474.6,175.6 475.4,176.9 476.2,178.4 477.0,179.5 477.8,180.4 478.6,181.4 479.4,183.4 480.3,185.7 481.1,187.7 481.9,190.0 482.7,192.2 483.5,194.3 484.3,196.5 485.1,197.8 485.9,199.7 486.8,201.1 487.6,202.4 488.4,204.4 489.2,205.8 490.0,207.7 490.8,209.2 491.6,210.9 492.4,212.0 493.3,213.6 494.1,215.1 494.9,216.7 495.7,217.4 496.5,219.5 497.3,220.2 498.1,221.8 498.9,222.6 499.7,223.9 500.6,226.5 501.4,229.3 502.2,230.8 503.0,232.8 503.8,234.9 504.6,237.0 505.4,238.2 506.2,238.9 507.1,239.2 507.9,240.1 508.7,240.8 509.5,241.6 510.3,242.7 511.1,243.8 511.9,244.8 512.7,245.4 513.6,246.0 514.4,246.9 515.2,247.1 516.0,247.3 516.8,247.7 517.6,247.6 518.4,248.3 519.2,248.8 520.1,249.6 520.9,250.4 521.7,250.5 522.5,233.3 523.3,231.6 524.1,227.8 524.9,222.7 525.7,232.2 526.6,229.0 527.4,196.1 528.2,183.2 529.0,214.0 529.8,245.2 530.6,203.9 531.4,210.7 532.2,174.0 533.1,202.5 533.9,208.1 534.7,248.7 535.5,248.0 536.3,243.6 537.1,223.9 537.9,220.7 538.7,203.8 539.6,243.5 540.4,220.8 541.2,219.1 542.0,208.8 542.8,234.9 543.6,222.9 544.4,229.9 545.2,240.5 546.1,247.5 546.9,257.7 547.7,263.6 548.5,268.9 549.3,273.2 550.1,277.5 550.9,277.6 551.7,277.7 552.6,277.8 553.4,277.9 554.2,278.0 555.0,278.1 555.8,278.2 556.6,278.3 557.4,278.4 558.2,278.5 559.1,278.6 559.9,278.7 560.7,278.7 561.5,278.8 562.3,278.9 563.1,279.0 563.9,279.1 564.7,279.2 565.5,279.4 566.4,279.5 567.2,279.6 568.0,279.8 568.8,279.9 569.6,280.1 570.4,280.2 571.2,280.4 572.0,280.5 572.9,280.7 573.7,280.8 574.5,280.9 575.3,281.1 576.1,281.2 576.9,281.4 577.7,281.5 578.5,281.7 579.4,281.8 580.2,282.0 581.0,282.1 581.8,282.2 582.6,282.3 583.4,282.3 584.2,282.4 585.0,282.5 585.9,282.6 586.7,282.6 587.5,282.7 588.3,282.8 589.1,282.9 589.9,282.9 590.7,283.0 591.5,283.1 592.4,283.2 593.2,283.2 594.0,283.3 594.8,283.4"/><polyline points="329.2,283.4 330.0,283.4 330.8,283.4 331.6,283.4 332.4,283.4 333.2,283.4 334.0,283.4 334.8,283.4 335.7,283.4 336.5,283.4 337.3,283.4 338.1,283.4 338.9,283.4 339.7,283.4 340.5,283.4 341.3,283.4 342.2,283.4 343.0,283.4 343.8,283.4 344.6,283.4 345.4,283.4 346.2,283.4 347.0,283.4 347.8,283.4 348.7,283.4 349.5,283.4 350.3,283.4 351.1,283.4 351.9,283.4 352.7,283.4 353.5,283.4 354.3,283.4 355.2,283.4 356.0,283.4 356.8,283.4 357.6,283.4 358.4,283.4 359.2,283.4 360.0,283.4 360.8,283.4 361.7,283.4 362.5,283.4 363.3,283.4 364.1,283.4 364.9,283.4 365.7,283.4 366.5,283.4 367.3,283.4 368.1,283.4 369.0,283.4 369.8,283.4 370.6,283.4 371.4,283.4 372.2,283.4 373.0,283.4 373.8,283.4 374.6,283.4 375.5,283.4 376.3,283.4 377.1,283.4 377.9,283.4 378.7,283.4 379.5,283.4 380.3,283.4 381.1,283.4 382.0,283.4 382.8,283.4 383.6,282.1 384.4,279.4 385.2,276.7 386.0,274.0 386.8,268.1 387.6,261.9 388.5,255.7 389.3,248.8 390.1,240.6 390.9,232.4 391.7,224.8 392.5,218.5 393.3,213.9 394.1,209.8 395.0,206.4 395.8,203.0 396.6,199.7 397.4,196.6 398.2,193.5 399.0,191.1 399.8,189.0 400.6,187.3 401.5,186.9 402.3,185.1 403.1,183.6 403.9,183.3 404.7,182.7 405.5,182.3 406.3,183.0 407.1,182.3 408.0,181.9 408.8,181.8 409.6,181.3 410.4,181.4 411.2,180.8 412.0,179.2 412.8,179.5 413.6,179.9 414.5,178.7 415.3,178.0 416.1,177.4 416.9,177.0 417.7,176.2 418.5,175.1 419.3,174.0 420.1,174.6 421.0,175.0 421.8,174.3 422.6,175.0 423.4,176.0 424.2,175.0 425.0,174.6 425.8,174.0 426.6,173.0 427.5,174.0 428.3,169.1 429.1,149.9 429.9,169.1 430.7,172.7 431.5,171.9 432.3,172.0 433.1,171.5 433.9,171.5 434.8,170.2 435.6,168.0 436.4,167.1 437.2,166.4 438.0,165.4 438.8,164.7 439.6,164.1 440.4,163.3 441.3,162.9 442.1,163.4 442.9,162.7 443.7,161.7 444.5,161.1 445.3,160.3 446.1,159.9 446.9,160.5 447.8,160.0 448.6,161.4 449.4,161.0 450.2,160.7 451.0,161.0 451.8,162.4 452.6,162.1 453.4,160.9 454.3,159.6 455.1,160.3 455.9,159.3 456.7,158.5 457.5,159.5 458.3,160.4 459.1,163.2 459.9,164.6 460.8,164.4 461.6,165.1 462.4,166.4 463.2,166.0 464.0,166.0 464.8,165.7 465.6,165.4 466.4,166.7 467.3,167.2 468.1,167.9 468.9,168.9 469.7,170.1 470.5,170.6 471.3,172.6 472.1,174.2 472.9,176.1 473.8,177.2 474.6,177.7 475.4,178.9 476.2,180.2 477.0,181.5 477.8,182.6 478.6,183.7 479.4,185.6 480.3,187.8 481.1,189.5 481.9,191.8 482.7,193.9 483.5,196.0 484.3,198.3 485.1,199.9 485.9,201.8 486.8,203.3 487.6,204.8 488.4,206.7 489.2,208.2 490.0,210.1 490.8,211.3 491.6,212.9 492.4,214.1 493.3,215.7 494.1,217.1 494.9,218.5 495.7,219.2 496.5,221.4 497.3,222.1 498.1,223.6 498.9,224.4 499.7,225.5 500.6,228.0 501.4,230.7 502.2,232.1 503.0,233.9 503.8,236.1 504.6,238.1 505.4,239.2 506.2,239.9 507.1,240.0 507.9,241.0 508.7,241.7 509.5,242.4 510.3,243.4 511.1,244.5 511.9,245.4 512.7,246.1 513.6,246.6 514.4,247.6 515.2,247.8 516.0,247.9 516.8,248.3 517.6,248.3 518.4,248.9 519.2,249.5 520.1,250.3 520.9,251.1 521.7,251.1 522.5,221.4 523.3,219.3 524.1,225.3 524.9,225.6 525.7,225.7 526.6,208.9 527.4,231.8 528.2,208.8 529.0,212.9 529.8,246.8 530.6,187.4 531.4,208.2 532.2,174.3 533.1,208.0 533.9,237.3 534.7,247.9 535.5,247.7 536.3,247.0 537.1,236.1 537.9,231.9 538.7,217.1 539.6,249.6 540.4,214.2 541.2,218.9 542.0,215.1 542.8,207.5 543.6,220.7 544.4,239.6 545.2,246.9 546.1,249.1 546.9,259.0 547.7,264.6 548.5,269.2 549.3,273.4 550.1,277.6 550.9,277.7 551.7,277.8 552.6,277.9 553.4,278.0 554.2,278.1 555.0,278.2 555.8,278.2 556.6,278.3 557.4,278.4 558.2,278.5 559.1,278.6 559.9,278.7 560.7,278.8 561.5,278.9 562.3,279.0 563.1,279.1 563.9,279.2 564.7,279.3 565.5,279.4 566.4,279.6 567.2,279.7 568.0,279.9 568.8,280.0 569.6,280.1 570.4,280.3 571.2,280.4 572.0,280.6 572.9,280.7 573.7,280.9 574.5,281.0 575.3,281.2 576.1,281.3 576.9,281.4 577.7,281.6 578.5,281.7 579.4,281.9 580.2,282.0 581.0,282.2 581.8,282.2 582.6,282.3 583.4,282.4 584.2,282.5 585.0,282.5 585.9,282.6 586.7,282.7 587.5,282.7 588.3,282.8 589.1,282.9 589.9,283.0 590.7,283.0 591.5,283.1 592.4,283.2 593.2,283.3 594.0,283.3 594.8,283.4"/><polyline points="329.2,283.4 330.0,283.4 330.8,283.4 331.6,283.4 332.4,283.4 333.2,283.4 334.0,283.4 334.8,283.4 335.7,283.4 336.5,283.4 337.3,283.4 338.1,283.4 338.9,283.4 339.7,283.4 340.5,283.4 341.3,283.4 342.2,283.4 343.0,283.4 343.8,283.4 344.6,283.4 345.4,283.4 346.2,283.4 347.0,283.4 347.8,283.4 348.7,283.4 349.5,283.4 350.3,283.4 351.1,283.4 351.9,283.4 352.7,283.4 353.5,283.4 354.3,283.4 355.2,283.4 356.0,283.4 356.8,283.4 357.6,283.4 358.4,283.4 359.2,283.4 360.0,283.4 360.8,283.4 361.7,283.4 362.5,283.4 363.3,283.4 364.1,283.4 364.9,283.4 365.7,283.4 366.5,283.4 367.3,283.4 368.1,283.4 369.0,283.4 369.8,283.4 370.6,283.4 371.4,283.4 372.2,283.4 373.0,283.4 373.8,283.4 374.6,283.4 375.5,283.4 376.3,283.4 377.1,283.4 377.9,283.4 378.7,283.4 379.5,283.4 380.3,283.4 381.1,283.4 382.0,283.4 382.8,283.4 383.6,282.2 384.4,279.6 385.2,277.1 386.0,274.5 386.8,269.6 387.6,263.8 388.5,258.1 389.3,251.9 390.1,245.2 390.9,238.6 391.7,232.3 392.5,226.7 393.3,222.1 394.1,217.8 395.0,214.4 395.8,211.2 396.6,208.1 397.4,204.9 398.2,202.0 399.0,199.5 399.8,197.2 400.6,196.8 401.5,194.9 402.3,191.9 403.1,190.3 403.9,189.1 404.7,188.1 405.5,187.7 406.3,185.7 407.1,184.3 408.0,185.3 408.8,185.8 409.6,185.0 410.4,185.3 411.2,184.9 412.0,184.3 412.8,185.2 413.6,185.0 414.5,183.0 415.3,182.5 416.1,182.2 416.9,181.8 417.7,181.7 418.5,180.3 419.3,179.6 420.1,180.8 421.0,181.3 421.8,181.0 422.6,181.0 423.4,181.7 424.2,182.2 425.0,181.0 425.8,180.0 426.6,179.4 427.5,178.8 428.3,177.1 429.1,175.6 429.9,176.0 430.7,176.7 431.5,176.7 432.3,176.3 433.1,176.5 433.9,176.5 434.8,175.7 435.6,174.3 436.4,173.0 437.2,170.7 438.0,169.8 438.8,169.1 439.6,168.0 440.4,168.0 441.3,167.1 442.1,167.7 442.9,168.7 443.7,168.0 444.5,166.8 445.3,166.7 446.1,165.7 446.9,165.3 447.8,164.0 448.6,163.7 449.4,163.8 450.2,164.4 451.0,164.3 451.8,164.7 452.6,164.7 453.4,164.2 454.3,163.4 455.1,162.9 455.9,160.9 456.7,160.2 457.5,160.4 458.3,160.9 459.1,162.3 459.9,163.3 460.8,162.8 461.6,163.2 462.4,163.4 463.2,163.4 464.0,163.4 464.8,163.7 465.6,164.2 466.4,164.9 467.3,165.6 468.1,166.0 468.9,166.9 469.7,167.7 470.5,167.7 471.3,169.2 472.1,170.5 472.9,172.1 473.8,173.1 474.6,173.5 475.4,174.7 476.2,176.3 477.0,177.5 477.8,178.2 478.6,178.9 479.4,180.8 480.3,182.8 481.1,184.8 481.9,187.1 482.7,189.2 483.5,191.8 484.3,194.2 485.1,195.8 485.9,197.8 486.8,199.3 487.6,200.6 488.4,202.4 489.2,203.6 490.0,205.6 490.8,206.9 491.6,208.6 492.4,209.8 493.3,211.6 494.1,213.0 494.9,214.6 495.7,215.3 496.5,217.5 497.3,218.1 498.1,219.7 498.9,220.5 499.7,221.7 500.6,224.5 501.4,227.4 502.2,229.0 503.0,231.1 503.8,233.5 504.6,235.8 505.4,237.1 506.2,237.8 507.1,238.1 507.9,239.2 508.7,239.9 509.5,240.7 510.3,241.7 511.1,243.0 511.9,244.0 512.7,244.7 513.6,245.3 514.4,246.2 515.2,246.4 516.0,246.6 516.8,246.9 517.6,246.9 518.4,247.6 519.2,248.1 520.1,248.9 520.9,249.6 521.7,249.9 522.5,233.0 523.3,189.0 524.1,192.5 524.9,202.5 525.7,203.9 526.6,205.6 527.4,232.8 528.2,187.1 529.0,224.2 529.8,234.8 530.6,201.4 531.4,196.1 532.2,175.3 533.1,226.3 533.9,208.1 534.7,247.7 535.5,245.7 536.3,242.8 537.1,241.5 537.9,238.7 538.7,228.3 539.6,242.6 540.4,216.9 541.2,202.0 542.0,220.1 542.8,217.0 543.6,219.1 544.4,229.5 545.2,238.9 546.1,248.1 546.9,257.9 547.7,263.7 548.5,268.8 549.3,273.1 550.1,277.5 550.9,277.6 551.7,277.7 552.6,277.8 553.4,277.9 554.2,278.0 555.0,278.1 555.8,278.2 556.6,278.2 557.4,278.3 558.2,278.4 559.1,278.5 559.9,278.6 560.7,278.7 561.5,278.8 562.3,278.9 563.1,279.0 563.9,279.1 564.7,279.2 565.5,279.3 566.4,279.4 567.2,279.6 568.0,279.7 568.8,279.9 569.6,280.0 570.4,280.2 571.2,280.3 572.0,280.5 572.9,280.6 573.7,280.8 574.5,280.9 575.3,281.0 576.1,281.2 576.9,281.3 577.7,281.5 578.5,281.6 579.4,281.8 580.2,281.9 581.0,282.0 581.8,282.1 582.6,282.2 583.4,282.3 584.2,282.4 585.0,282.4 585.9,282.5 586.7,282.6 587.5,282.7 588.3,282.8 589.1,282.8 589.9,282.9 590.7,283.0 591.5,283.1 592.4,283.2 593.2,283.2 594.0,283.3 594.8,283.4"/><polyline points="329.2,283.4 330.0,283.4 330.8,283.4 331.6,283.4 332.4,283.4 333.2,283.4 334.0,283.4 334.8,283.4 335.7,283.4 336.5,283.4 337.3,283.4 338.1,283.4 338.9,283.4 339.7,283.4 340.5,283.4 341.3,283.4 342.2,283.4 343.0,283.4 343.8,283.4 344.6,283.4 345.4,283.4 346.2,283.4 347.0,283.4 347.8,283.4 348.7,283.4 349.5,283.4 350.3,283.4 351.1,283.4 351.9,283.4 352.7,283.4 353.5,283.4 354.3,283.4 355.2,283.4 356.0,283.4 356.8,283.4 357.6,283.4 358.4,283.4 359.2,283.4 360.0,283.4 360.8,283.4 361.7,283.4 362.5,283.4 363.3,283.4 364.1,283.4 364.9,283.4 365.7,283.4 366.5,283.4 367.3,283.4 368.1,283.4 369.0,283.4 369.8,283.4 370.6,283.4 371.4,283.4 372.2,283.4 373.0,283.4 373.8,283.4 374.6,283.4 375.5,283.4 376.3,283.4 377.1,283.4 377.9,283.4 378.7,283.4 379.5,283.4 380.3,283.4 381.1,283.4 382.0,283.4 382.8,283.4 383.6,282.1 384.4,279.6 385.2,277.0 386.0,274.4 386.8,269.3 387.6,263.4 388.5,257.5 389.3,251.1 390.1,244.0 390.9,237.1 391.7,230.4 392.5,224.7 393.3,220.0 394.1,215.8 395.0,212.4 395.8,209.1 396.6,206.2 397.4,203.2 398.2,200.3 399.0,197.7 399.8,195.6 400.6,194.6 401.5,193.0 402.3,190.1 403.1,189.5 403.9,188.2 404.7,187.1 405.5,187.4 406.3,187.0 407.1,185.7 408.0,186.3 408.8,185.2 409.6,183.7 410.4,183.9 411.2,182.7 412.0,181.7 412.8,182.6 413.6,181.7 414.5,179.8 415.3,180.6 416.1,179.9 416.9,179.9 417.7,179.7 418.5,178.3 419.3,177.7 420.1,179.9 421.0,180.5 421.8,180.9 422.6,180.7 423.4,181.2 424.2,180.5 425.0,180.4 425.8,179.3 426.6,178.0 427.5,177.8 428.3,177.4 429.1,177.0 429.9,178.2 430.7,178.0 431.5,177.8 432.3,177.8 433.1,177.6 433.9,176.7 434.8,175.4 435.6,166.2 436.4,125.9 437.2,166.2 438.0,170.7 438.8,170.1 439.6,168.8 440.4,167.8 441.3,167.5 442.1,167.2 442.9,167.5 443.7,167.0 444.5,165.5 445.3,165.5 446.1,165.2 446.9,164.9 447.8,164.4 448.6,164.5 449.4,163.5 450.2,163.9 451.0,163.9 451.8,164.7 452.6,164.5 453.4,163.7 454.3,163.1 455.1,163.5 455.9,161.4 456.7,160.8 457.5,161.7 458.3,162.1 459.1,163.5 459.9,165.0 460.8,165.0 461.6,166.2 462.4,166.6 463.2,165.9 464.0,166.7 464.8,167.3 465.6,166.8 466.4,167.5 467.3,168.3 468.1,169.3 468.9,170.4 469.7,171.6 470.5,172.2 471.3,174.2 472.1,175.8 472.9,177.8 473.8,179.1 474.6,179.6 475.4,180.8 476.2,182.0 477.0,183.5 477.8,184.9 478.6,185.9 479.4,188.0 480.3,190.1 481.1,191.9 481.9,194.2 482.7,196.2 483.5,198.4 484.3,200.7 485.1,202.2 485.9,204.3 486.8,206.0 487.6,207.4 488.4,209.3 489.2,210.9 490.0,212.9 490.8,214.0 491.6,215.6 492.4,216.7 493.3,218.3 494.1,219.7 494.9,221.0 495.7,221.6 496.5,223.7 497.3,224.2 498.1,225.5 498.9,226.1 499.7,227.3 500.6,229.7 501.4,232.3 502.2,233.7 503.0,235.6 503.8,237.6 504.6,239.6 505.4,240.4 506.2,241.1 507.1,241.3 507.9,242.2 508.7,242.7 509.5,243.5 510.3,244.4 511.1,245.5 511.9,246.3 512.7,247.0 513.6,247.5 514.4,248.4 515.2,248.6 516.0,248.9 516.8,249.2 517.6,249.2 518.4,249.8 519.2,250.3 520.1,251.1 520.9,251.8 521.7,251.8 522.5,229.1 523.3,238.6 524.1,210.3 524.9,191.7 525.7,224.2 526.6,219.2 527.4,236.4 528.2,185.9 529.0,187.3 529.8,250.7 530.6,209.7 531.4,227.1 532.2,182.1 533.1,194.5 533.9,199.0 534.7,248.2 535.5,248.2 536.3,245.8 537.1,224.5 537.9,233.5 538.7,205.3 539.6,244.4 540.4,238.5 541.2,235.6 542.0,202.4 542.8,208.2 543.6,224.2 544.4,235.5 545.2,241.9 546.1,248.9 546.9,259.2 547.7,264.2 548.5,269.3 549.3,273.4 550.1,277.6 550.9,277.7 551.7,277.8 552.6,277.9 553.4,278.0 554.2,278.1 555.0,278.2 555.8,278.3 556.6,278.4 557.4,278.5 558.2,278.6 559.1,278.7 559.9,278.7 560.7,278.8 561.5,278.9 562.3,279.0 563.1,279.1 563.9,279.2 564.7,279.3 565.5,279.5 566.4,279.6 567.2,279.8 568.0,279.9 568.8,280.1 569.6,280.2 570.4,280.3 571.2,280.5 572.0,280.6 572.9,280.8 573.7,280.9 574.5,281.1 575.3,281.2 576.1,281.4 576.9,281.5 577.7,281.6 578.5,281.8 579.4,281.9 580.2,282.1 581.0,282.2 581.8,282.3 582.6,282.4 583.4,282.4 584.2,282.5 585.0,282.6 585.9,282.6 586.7,282.7 587.5,282.8 588.3,282.8 589.1,282.9 589.9,283.0 590.7,283.1 591.5,283.1 592.4,283.2 593.2,283.3 594.0,283.3 594.8,283.4"/><polyline points="329.2,283.4 330.0,283.4 330.8,283.4 331.6,283.4 332.4,283.4 333.2,283.4 334.0,283.4 334.8,283.4 335.7,283.4 336.5,283.4 337.3,283.4 338.1,283.4 338.9,283.4 339.7,283.4 340.5,283.4 341.3,283.4 342.2,283.4 343.0,283.4 343.8,283.4 344.6,283.4 345.4,283.4 346.2,283.4 347.0,283.4 347.8,283.4 348.7,283.4 349.5,283.4 350.3,283.4 351.1,283.4 351.9,283.4 352.7,283.4 353.5,283.4 354.3,283.4 355.2,283.4 356.0,283.4 356.8,283.4 357.6,283.4 358.4,283.4 359.2,283.4 360.0,283.4 360.8,283.4 361.7,283.4 362.5,283.4 363.3,283.4 364.1,283.4 364.9,283.4 365.7,283.4 366.5,283.4 367.3,283.4 368.1,283.4 369.0,283.4 369.8,283.4 370.6,283.4 371.4,283.4 372.2,283.4 373.0,283.4 373.8,283.4 374.6,283.4 375.5,283.4 376.3,283.4 377.1,283.4 377.9,283.4 378.7,283.4 379.5,283.4 380.3,283.4 381.1,283.4 382.0,283.4 382.8,283.4 383.6,282.1 384.4,279.6 385.2,277.0 386.0,274.4 386.8,269.3 387.6,263.4 388.5,257.5 389.3,251.1 390.1,244.0 390.9,237.1 391.7,230.4 392.5,224.7 393.3,220.0 394.1,215.8 395.0,212.4 395.8,209.1 396.6,205.9 397.4,202.5 398.2,199.4 399.0,196.6 399.8,194.8 400.6,193.7 401.5,192.4 402.3,190.9 403.1,189.9 403.9,188.2 404.7,187.2 405.5,186.8 406.3,185.5 407.1,184.7 408.0,184.4 408.8,184.3 409.6,184.1 410.4,183.9 411.2,182.5 412.0,182.6 412.8,183.2 413.6,182.7 414.5,180.6 415.3,181.0 416.1,180.6 416.9,180.9 417.7,179.4 418.5,177.9 419.3,177.4 420.1,178.7 421.0,178.5 421.8,178.8 422.6,179.4 423.4,180.0 424.2,179.7 425.0,179.3 425.8,179.2 426.6,178.8 427.5,178.5 428.3,176.6 429.1,176.4 429.9,177.3 430.7,177.8 431.5,177.1 432.3,177.3 433.1,177.1 433.9,176.6 434.8,174.9 435.6,173.7 436.4,172.2 437.2,170.7 438.0,169.5 438.8,168.3 439.6,167.4 440.4,167.1 441.3,166.1 442.1,167.3 442.9,166.5 443.7,165.9 444.5,165.3 445.3,165.2 446.1,164.4 446.9,164.7 447.8,163.3 448.6,164.3 449.4,163.6 450.2,163.5 451.0,164.1 451.8,164.3 452.6,164.0 453.4,162.6 454.3,161.9 455.1,161.7 455.9,160.3 456.7,158.3 457.5,159.8 458.3,160.3 459.1,162.6 459.9,163.1 460.8,162.9 461.6,164.3 462.4,166.1 463.2,165.4 464.0,166.3 464.8,166.5 465.6,166.6 466.4,167.3 467.3,167.7 468.1,167.9 468.9,168.8 469.7,169.6 470.5,170.0 471.3,171.8 472.1,173.3 472.9,175.0 473.8,176.3 474.6,176.9 475.4,177.9 476.2,179.3 477.0,180.5 477.8,181.7 478.6,182.5 479.4,184.5 480.3,186.5 481.1,188.5 481.9,190.7 482.7,192.6 483.5,194.7 484.3,197.2 485.1,198.6 485.9,200.5 486.8,202.1 487.6,203.5 488.4,205.6 489.2,207.0 490.0,208.9 490.8,210.1 491.6,211.8 492.4,213.0 493.3,214.6 494.1,216.2 494.9,217.7 495.7,218.5 496.5,220.7 497.3,221.3 498.1,222.8 498.9,223.6 499.7,224.7 500.6,227.2 501.4,229.9 502.2,231.4 503.0,233.4 503.8,235.5 504.6,237.6 505.4,238.7 506.2,239.5 507.1,239.7 507.9,240.6 508.7,241.3 509.5,242.0 510.3,243.0 511.1,244.2 511.9,245.0 512.7,245.7 513.6,246.2 514.4,247.1 515.2,247.3 516.0,247.5 516.8,247.9 517.6,247.8 518.4,248.5 519.2,249.1 520.1,249.9 520.9,250.8 521.7,250.9 522.5,220.6 523.3,213.5 524.1,235.7 524.9,199.2 525.7,224.6 526.6,190.0 527.4,203.8 528.2,231.2 529.0,182.2 529.8,236.4 530.6,218.7 531.4,220.3 532.2,193.4 533.1,228.1 533.9,196.8 534.7,246.6 535.5,248.3 536.3,249.5 537.1,236.7 537.9,215.0 538.7,231.5 539.6,249.0 540.4,211.2 541.2,205.6 542.0,232.8 542.8,234.4 543.6,229.9 544.4,240.7 545.2,243.4 546.1,250.0 546.9,259.0 547.7,264.2 548.5,269.0 549.3,273.3 550.1,277.6 550.9,277.7 551.7,277.8 552.6,277.8 553.4,277.9 554.2,278.0 555.0,278.1 555.8,278.2 556.6,278.3 557.4,278.4 558.2,278.5 559.1,278.6 559.9,278.7 560.7,278.8 561.5,278.9 562.3,279.0 563.1,279.1 563.9,279.2 564.7,279.2 565.5,279.4 566.4,279.5 567.2,279.7 568.0,279.8 568.8,280.0 569.6,280.1 570.4,280.3 571.2,280.4 572.0,280.5 572.9,280.7 573.7,280.8 574.5,281.0 575.3,281.1 576.1,281.3 576.9,281.4 577.7,281.6 578.5,281.7 579.4,281.8 580.2,282.0 581.0,282.1 581.8,282.2 582.6,282.3 583.4,282.4 584.2,282.4 585.0,282.5 585.9,282.6 586.7,282.7 587.5,282.7 588.3,282.8 589.1,282.9 589.9,283.0 590.7,283.0 591.5,283.1 592.4,283.2 593.2,283.3 594.0,283.3 594.8,283.4"/><polyline points="520.9,248.5 521.7,248.8 522.5,216.2 523.3,183.5 524.1,182.9 524.9,182.2 525.7,181.6 526.6,179.2 527.4,176.8 528.2,169.6 529.0,174.1 529.8,181.6 530.6,179.2 531.4,176.8 532.2,164.2 533.1,173.1 533.9,191.2 534.7,216.6 535.5,231.1 536.3,220.0 537.1,213.6 537.9,202.2 538.7,199.5 539.6,210.4 540.4,200.8 541.2,187.8 542.0,188.7 542.8,198.9 543.6,213.0 544.4,224.8 545.2,234.4 546.1,245.3 546.9,256.2 547.7,262.8 548.5,268.6 549.3,273.0"/></g></g>
<polygon points="521.6,252 521.9,215 522.4,186 523.5,183.5 525.5,183 526.6,176 527.4,170.5 528.1,168.6 528.9,171 529.6,177 530.3,180 530.9,174 531.5,166 532.25,161.8 533,166 533.6,178 534.2,195 534.8,204 536.6,204 537.3,198 538.1,195.5 538.9,198 539.6,196 540.4,190 541.25,186.2 542.2,190 543.2,198 544.4,201 545.5,214 546.5,226 547.8,232 549.2,240 550.4,246 551.2,256 551.6,270 552.5,277 550.2,277 549.3,262 548,252 546,249 544.8,251 544.2,260 542.6,261 542.4,232 541,230 539.8,244 538.4,234 535,232 532.2,234 531,249 529,251 528,243 525.6,243 524.6,252 523,253" fill="#fff" stroke="#fff" stroke-width="0.6" stroke-linejoin="round"/>
</svg></body></html>
